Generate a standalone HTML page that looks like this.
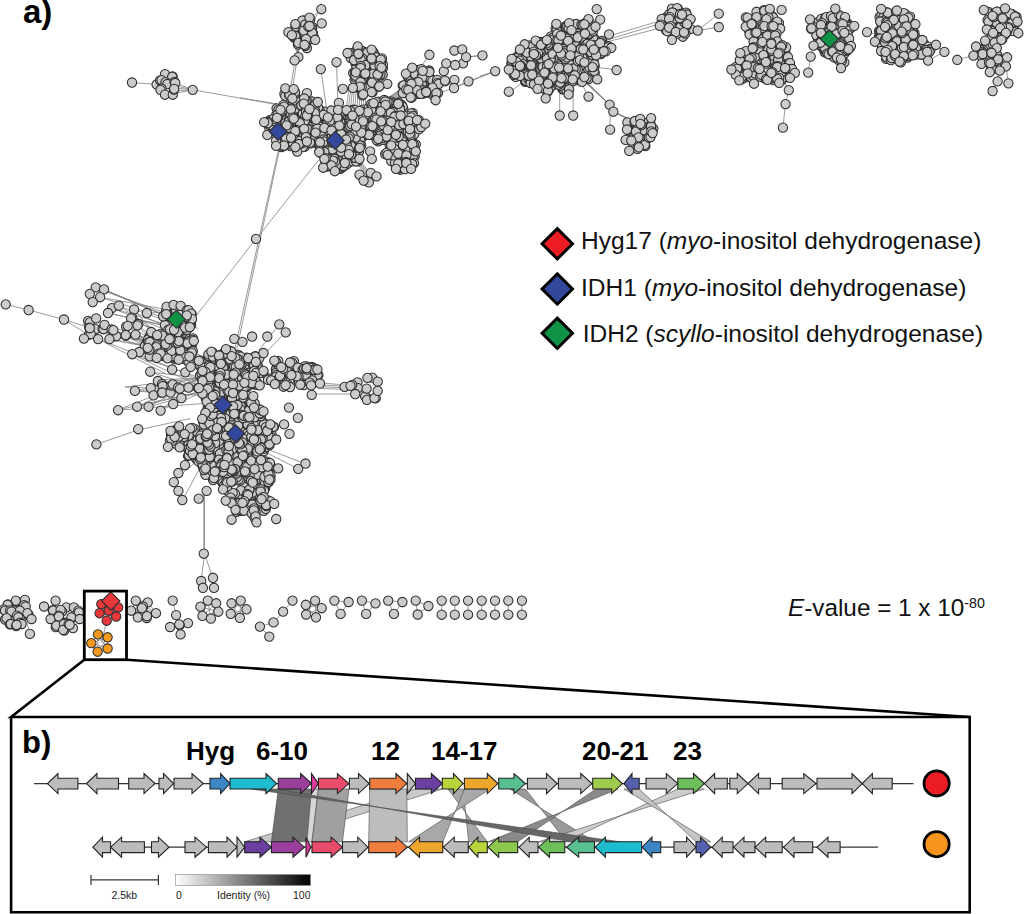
<!DOCTYPE html>
<html><head><meta charset="utf-8"><style>html,body{margin:0;padding:0;background:#fff;width:1024px;height:914px;overflow:hidden}svg{display:block}</style></head>
<body><svg width="1024" height="914" viewBox="0 0 1024 914">
<rect width="1024" height="914" fill="#fff"/>
<g stroke="#808080" stroke-width="0.8" fill="none">
<polyline points="278.5,150.0 234.6,350.0"/>
<polyline points="279.3,150.0 236.6,350.0"/>
<polyline points="318.7,160.0 256.2,239.0"/>
<polyline points="240.0,97.8 278.1,104.1"/>
<polyline points="294.6,63.5 290.8,86.3"/>
<polyline points="296.4,63.5 292.8,86.3"/>
<polyline points="320.8,69.1 326.3,106.7"/>
<polyline points="336.5,62.2 337.8,101.6"/>
<polyline points="429.4,54.8 415.0,75.0"/>
<polyline points="466.1,57.2 480.0,55.4"/>
<polyline points="454.0,88.0 495.2,71.1"/>
<polyline points="387.3,83.8 377.1,81.3"/>
<polyline points="321.8,23.4 311.1,35.6"/>
<polyline points="321.3,8.9 311.1,22.9"/>
<polyline points="349.2,87.6 345.4,114.3"/>
<polyline points="380.9,102.8 402.5,87.6"/>
<polyline points="351.0,87.6 347.7,114.3"/>
<polyline points="382.5,102.8 403.3,87.6"/>
<polyline points="352.7,87.6 350.0,114.3"/>
<polyline points="384.0,102.8 404.0,87.6"/>
<polyline points="354.5,87.6 352.2,114.3"/>
<polyline points="385.5,102.8 404.8,87.6"/>
<polyline points="356.3,87.6 354.5,114.3"/>
<polyline points="387.0,102.8 405.6,87.6"/>
<polyline points="358.1,87.6 356.8,114.3"/>
<polyline points="388.6,102.8 406.3,87.6"/>
<polyline points="359.9,87.6 359.1,114.3"/>
<polyline points="390.1,102.8 407.1,87.6"/>
<polyline points="361.6,87.6 361.4,114.3"/>
<polyline points="391.6,102.8 407.9,87.6"/>
<polyline points="363.4,87.6 363.7,114.3"/>
<polyline points="393.1,102.8 408.6,87.6"/>
<polyline points="365.2,87.6 366.0,114.3"/>
<polyline points="394.6,102.8 409.4,87.6"/>
<polyline points="356.8,162.5 367.0,177.8"/>
<polyline points="358.1,162.5 368.5,177.8"/>
<polyline points="359.3,162.5 370.0,177.8"/>
<polyline points="360.6,162.5 371.5,177.8"/>
<polyline points="361.9,162.5 373.1,177.8"/>
<polyline points="293.0,39.8 297.6,55.1"/>
<polyline points="294.9,39.8 297.6,55.1"/>
<polyline points="296.8,39.8 297.6,55.1"/>
<polyline points="298.8,39.8 297.6,55.1"/>
<polyline points="300.7,39.8 297.6,55.1"/>
<polyline points="302.6,39.8 297.6,55.1"/>
<polyline points="321.3,9.2 310.6,18.4"/>
<polyline points="321.7,23.4 312.9,27.6"/>
<polyline points="482.5,55.4 466.0,57.1"/>
<polyline points="495.2,71.1 468.5,81.3 438.1,94.0"/>
<polyline points="132.0,82.5 156.6,84.4"/>
<polyline points="192.7,89.8 276.7,104.5"/>
<polyline points="173.2,82.0 192.7,89.8"/>
<polyline points="173.2,85.0 192.7,89.8"/>
<polyline points="173.2,87.9 192.7,89.8"/>
<polyline points="173.2,90.8 192.7,89.8"/>
<polyline points="173.2,93.8 192.7,89.8"/>
<polyline points="601.9,38.1 657.8,21.6"/>
<polyline points="604.4,40.6 659.0,24.1"/>
<polyline points="607.0,41.9 660.3,27.9"/>
<polyline points="508.4,93.4 520.6,83.8"/>
<polyline points="588.7,96.5 581.6,83.8"/>
<polyline points="559.7,115.5 559.7,94.0"/>
<polyline points="573.2,115.5 573.2,94.0"/>
<polyline points="616.6,69.8 596.8,67.3"/>
<polyline points="495.2,71.1 480.0,76.2"/>
<polyline points="610.1,129.7 610.1,112.1"/>
<polyline points="578.7,73.7 609.6,104.6"/>
<polyline points="613.4,111.7 628.5,118.5"/>
<polyline points="578.7,74.7 609.6,104.6"/>
<polyline points="613.4,111.7 630.6,119.9"/>
<polyline points="578.7,75.8 609.6,104.6"/>
<polyline points="613.4,111.7 632.7,121.3"/>
<polyline points="578.7,76.9 609.6,104.6"/>
<polyline points="613.4,111.7 634.9,122.7"/>
<polyline points="697.7,30.5 718.8,13.7"/>
<polyline points="697.7,30.5 718.8,27.0"/>
<polyline points="782.9,127.7 785.5,104.1 788.8,90.1 782.4,78.7"/>
<polyline points="740.3,53.2 731.4,69.5"/>
<polyline points="739.3,80.3 735.8,69.0"/>
<polyline points="808.2,72.6 810.7,56.6 813.5,45.6"/>
<polyline points="867.0,32.1 880.2,35.2"/>
<polyline points="922.4,40.0 936.0,44.8 944.4,51.9"/>
<polyline points="928.1,60.6 944.4,51.9"/>
<polyline points="957.3,59.8 973.5,55.6"/>
<polyline points="997.6,81.3 999.8,70.6"/>
<polyline points="1008.4,83.3 1005.9,66.4"/>
<polyline points="992.6,91.0 997.6,81.3"/>
<polyline points="95.7,287.4 186.8,320.9"/>
<polyline points="95.7,287.4 192.8,325.9"/>
<polyline points="104.0,289.4 190.9,327.4"/>
<polyline points="104.0,289.4 166.0,316.0"/>
<polyline points="100.1,297.2 198.0,328.4"/>
<polyline points="100.1,297.2 196.5,315.1"/>
<polyline points="111.9,308.1 181.4,329.2"/>
<polyline points="111.9,308.1 184.0,337.4"/>
<polyline points="118.8,305.6 165.5,326.0"/>
<polyline points="118.8,305.6 174.8,343.5"/>
<polyline points="108.0,313.0 191.8,332.0"/>
<polyline points="108.0,313.0 192.9,331.4"/>
<polyline points="134.1,309.5 186.6,327.7"/>
<polyline points="134.1,309.5 165.1,346.3"/>
<polyline points="131.1,318.4 172.3,338.8"/>
<polyline points="131.1,318.4 199.4,355.2"/>
<polyline points="127.7,325.8 175.1,364.8"/>
<polyline points="127.7,325.8 183.9,357.7"/>
<polyline points="137.5,325.3 172.2,363.8"/>
<polyline points="137.5,325.3 189.2,364.4"/>
<polyline points="125.7,335.1 196.3,357.6"/>
<polyline points="125.7,335.1 177.6,354.3"/>
<polyline points="135.5,334.6 170.1,351.3"/>
<polyline points="135.5,334.6 175.5,364.7"/>
<polyline points="104.5,324.8 165.1,356.7"/>
<polyline points="104.5,324.8 176.8,347.5"/>
<polyline points="113.4,330.2 193.6,357.2"/>
<polyline points="113.4,330.2 176.1,357.2"/>
<polyline points="109.4,339.1 189.7,355.5"/>
<polyline points="109.4,339.1 199.1,354.6"/>
<polyline points="98.1,339.1 191.2,375.2"/>
<polyline points="98.1,339.1 165.6,373.7"/>
<polyline points="89.8,328.2 177.8,357.7"/>
<polyline points="89.8,328.2 165.3,344.4"/>
<polyline points="82.5,325.0 95.0,323.0"/>
<polyline points="146.9,313.0 161.6,312.5"/>
<polyline points="5.7,304.3 28.6,310.0 64.0,319.5 87.6,327.1"/>
<polyline points="64.0,319.5 91.4,336.7"/>
<polyline points="96.4,444.4 137.9,430.0 190.4,418.5"/>
<polyline points="118.1,410.2 205.7,403.3"/>
<polyline points="135.2,391.1 205.7,395.7"/>
<polyline points="203.8,553.7 203.8,490.9"/>
<polyline points="190.4,323.3 255.9,238.8"/>
<polyline points="279.2,324.5 259.0,350.0"/>
<polyline points="285.6,332.1 266.6,351.9"/>
<polyline points="304.7,463.5 266.6,449.0"/>
<polyline points="298.2,468.8 266.6,452.8"/>
<polyline points="173.3,481.4 201.9,456.6"/>
<polyline points="182.8,499.7 201.9,464.2"/>
<polyline points="30.3,633.6 26.4,621.7"/>
<polyline points="172.7,600.6 176.1,615.1"/>
<polyline points="106.8,620.4 101.5,642.8"/>
<polyline points="259.9,626.6 269.3,636.6"/>
<polyline points="259.9,626.6 273.5,622.4 283.1,611.6 292.5,600.6"/>
<polyline points="441.7,600.6 441.7,614.7"/>
<polyline points="454.8,600.6 454.8,614.7"/>
<polyline points="468.1,600.6 468.1,614.7"/>
<polyline points="481.7,600.6 481.7,614.7"/>
<polyline points="495.0,600.6 495.0,614.7"/>
<polyline points="508.3,600.6 508.3,614.7"/>
<polyline points="521.9,600.6 521.9,614.7"/>
<polyline points="204.5,554.2 204.5,491.3"/>
<polyline points="204.5,554.2 201.2,581.0"/>
<polyline points="204.5,554.2 213.0,577.8"/>
<polyline points="207.8,600.6 216.2,603.3"/>
<polyline points="207.8,600.6 200.4,606.7"/>
<polyline points="207.8,600.6 218.3,611.7"/>
<polyline points="207.8,600.6 202.5,615.9"/>
<polyline points="207.8,600.6 210.9,618.6"/>
<polyline points="216.2,603.3 200.4,606.7"/>
<polyline points="216.2,603.3 218.3,611.7"/>
<polyline points="216.2,603.3 202.5,615.9"/>
<polyline points="216.2,603.3 210.9,618.6"/>
<polyline points="200.4,606.7 218.3,611.7"/>
<polyline points="200.4,606.7 202.5,615.9"/>
<polyline points="200.4,606.7 210.9,618.6"/>
<polyline points="218.3,611.7 202.5,615.9"/>
<polyline points="218.3,611.7 210.9,618.6"/>
<polyline points="202.5,615.9 210.9,618.6"/>
<polyline points="231.5,603.3 240.7,600.6"/>
<polyline points="231.5,603.3 246.5,609.3"/>
<polyline points="231.5,603.3 230.7,613.8"/>
<polyline points="231.5,603.3 239.9,617.8"/>
<polyline points="240.7,600.6 246.5,609.3"/>
<polyline points="240.7,600.6 230.7,613.8"/>
<polyline points="240.7,600.6 239.9,617.8"/>
<polyline points="246.5,609.3 230.7,613.8"/>
<polyline points="246.5,609.3 239.9,617.8"/>
<polyline points="230.7,613.8 239.9,617.8"/>
<polyline points="305.8,604.8 315.1,600.6"/>
<polyline points="305.8,604.8 321.7,608.2"/>
<polyline points="305.8,604.8 316.0,617.3"/>
<polyline points="305.8,604.8 306.1,614.5"/>
<polyline points="315.1,600.6 321.7,608.2"/>
<polyline points="315.1,600.6 316.0,617.3"/>
<polyline points="315.1,600.6 306.1,614.5"/>
<polyline points="321.7,608.2 316.0,617.3"/>
<polyline points="321.7,608.2 306.1,614.5"/>
<polyline points="316.0,617.3 306.1,614.5"/>
<polyline points="97.9,634.4 107.6,637.3"/>
<polyline points="97.9,634.4 91.3,643.1"/>
<polyline points="97.9,634.4 107.6,648.5"/>
<polyline points="97.9,634.4 97.6,651.7"/>
<polyline points="107.6,637.3 91.3,643.1"/>
<polyline points="107.6,637.3 107.6,648.5"/>
<polyline points="107.6,637.3 97.6,651.7"/>
<polyline points="91.3,643.1 107.6,648.5"/>
<polyline points="91.3,643.1 97.6,651.7"/>
<polyline points="107.6,648.5 97.6,651.7"/>
<polyline points="334.4,600.6 348.6,602.0"/>
<polyline points="334.4,600.6 340.6,613.9"/>
<polyline points="348.6,602.0 340.6,613.9"/>
<polyline points="361.9,600.6 375.5,603.4"/>
<polyline points="361.9,600.6 366.1,613.9"/>
<polyline points="375.5,603.4 366.1,613.9"/>
<polyline points="388.2,600.6 402.4,602.0"/>
<polyline points="388.2,600.6 393.9,613.9"/>
<polyline points="402.4,602.0 393.9,613.9"/>
<polyline points="415.7,600.6 428.4,606.0"/>
<polyline points="415.7,600.6 417.7,614.5"/>
<polyline points="428.4,606.0 417.7,614.5"/>
<polyline points="135.8,600.6 147.7,602.0"/>
<polyline points="135.8,600.6 131.3,610.7"/>
<polyline points="135.8,600.6 142.4,608.6"/>
<polyline points="135.8,600.6 138.4,617.8"/>
<polyline points="135.8,600.6 147.1,616.5"/>
<polyline points="135.8,600.6 156.4,613.3"/>
<polyline points="147.7,602.0 131.3,610.7"/>
<polyline points="147.7,602.0 142.4,608.6"/>
<polyline points="147.7,602.0 138.4,617.8"/>
<polyline points="147.7,602.0 147.1,616.5"/>
<polyline points="147.7,602.0 156.4,613.3"/>
<polyline points="131.3,610.7 142.4,608.6"/>
<polyline points="131.3,610.7 138.4,617.8"/>
<polyline points="131.3,610.7 147.1,616.5"/>
<polyline points="131.3,610.7 156.4,613.3"/>
<polyline points="142.4,608.6 138.4,617.8"/>
<polyline points="142.4,608.6 147.1,616.5"/>
<polyline points="142.4,608.6 156.4,613.3"/>
<polyline points="138.4,617.8 147.1,616.5"/>
<polyline points="138.4,617.8 156.4,613.3"/>
<polyline points="147.1,616.5 156.4,613.3"/>
<polyline points="101.3,604.1 118.2,607.4"/>
<polyline points="101.3,604.1 99.6,613.2"/>
<polyline points="101.3,604.1 108.7,610.7"/>
<polyline points="101.3,604.1 116.2,616.5"/>
<polyline points="101.3,604.1 106.7,620.7"/>
<polyline points="118.2,607.4 99.6,613.2"/>
<polyline points="118.2,607.4 108.7,610.7"/>
<polyline points="118.2,607.4 116.2,616.5"/>
<polyline points="118.2,607.4 106.7,620.7"/>
<polyline points="99.6,613.2 108.7,610.7"/>
<polyline points="99.6,613.2 116.2,616.5"/>
<polyline points="99.6,613.2 106.7,620.7"/>
<polyline points="108.7,610.7 116.2,616.5"/>
<polyline points="108.7,610.7 106.7,620.7"/>
<polyline points="116.2,616.5 106.7,620.7"/>
<polyline points="131.3,354.0 200.0,378.0"/>
<polyline points="131.3,354.0 208.0,390.0"/>
<polyline points="150.0,372.0 200.0,378.0"/>
<polyline points="150.0,372.0 208.0,390.0"/>
<polyline points="134.6,391.0 200.0,378.0"/>
<polyline points="134.6,391.0 208.0,390.0"/>
<polyline points="117.5,410.0 200.0,378.0"/>
<polyline points="117.5,410.0 208.0,390.0"/>
<polyline points="136.8,406.8 200.0,378.0"/>
<polyline points="136.8,406.8 208.0,390.0"/>
<polyline points="148.8,406.8 200.0,378.0"/>
<polyline points="148.8,406.8 208.0,390.0"/>
<polyline points="160.8,410.0 200.0,378.0"/>
<polyline points="160.8,410.0 208.0,390.0"/>
<polyline points="157.0,380.0 200.0,378.0"/>
<polyline points="157.0,380.0 208.0,390.0"/>
<polyline points="125.0,387.0 200.0,378.0"/>
<polyline points="125.0,387.0 208.0,390.0"/>
<polyline points="165.0,392.0 200.0,378.0"/>
<polyline points="165.0,392.0 208.0,390.0"/>
<polyline points="322.0,383.0 345.0,385.0"/>
<polyline points="322.0,384.8 345.0,386.5"/>
<polyline points="322.0,386.6 345.0,388.0"/>
<polyline points="322.0,388.4 345.0,389.5"/>
<polyline points="312.0,394.0 350.0,394.0"/>
</g>
<g fill="#cbcbcb" stroke="#2e2e2e" stroke-width="1.05">
<circle cx="390.6" cy="108.2" r="4.65"/>
<circle cx="389.3" cy="109.0" r="4.65"/>
<circle cx="342.8" cy="127.7" r="4.65"/>
<circle cx="344.0" cy="126.3" r="4.65"/>
<circle cx="399.8" cy="124.7" r="4.65"/>
<circle cx="401.4" cy="124.8" r="4.65"/>
<circle cx="335.8" cy="151.0" r="4.65"/>
<circle cx="335.5" cy="150.5" r="4.65"/>
<circle cx="417.3" cy="120.8" r="4.65"/>
<circle cx="418.9" cy="120.2" r="4.65"/>
<circle cx="296.9" cy="125.4" r="4.65"/>
<circle cx="296.9" cy="123.9" r="4.65"/>
<circle cx="332.2" cy="132.4" r="4.65"/>
<circle cx="334.3" cy="130.4" r="4.65"/>
<circle cx="298.2" cy="108.2" r="4.65"/>
<circle cx="299.7" cy="106.9" r="4.65"/>
<circle cx="297.3" cy="128.7" r="4.65"/>
<circle cx="297.3" cy="127.2" r="4.65"/>
<circle cx="400.4" cy="135.0" r="4.65"/>
<circle cx="401.8" cy="135.8" r="4.65"/>
<circle cx="278.9" cy="117.1" r="4.65"/>
<circle cx="280.7" cy="115.9" r="4.65"/>
<circle cx="418.6" cy="122.6" r="4.65"/>
<circle cx="418.4" cy="123.9" r="4.65"/>
<circle cx="399.1" cy="144.1" r="4.65"/>
<circle cx="400.5" cy="145.9" r="4.65"/>
<circle cx="310.2" cy="138.8" r="4.65"/>
<circle cx="311.5" cy="138.6" r="4.65"/>
<circle cx="409.1" cy="162.4" r="4.65"/>
<circle cx="409.3" cy="161.5" r="4.65"/>
<circle cx="343.8" cy="140.2" r="4.65"/>
<circle cx="345.6" cy="138.7" r="4.65"/>
<circle cx="397.1" cy="124.2" r="4.65"/>
<circle cx="395.0" cy="123.2" r="4.65"/>
<circle cx="290.6" cy="136.7" r="4.65"/>
<circle cx="289.5" cy="135.1" r="4.65"/>
<circle cx="321.8" cy="125.2" r="4.65"/>
<circle cx="323.6" cy="125.4" r="4.65"/>
<circle cx="344.3" cy="156.8" r="4.65"/>
<circle cx="346.2" cy="155.5" r="4.65"/>
<circle cx="348.5" cy="119.6" r="4.65"/>
<circle cx="348.3" cy="121.3" r="4.65"/>
<circle cx="390.2" cy="135.5" r="4.65"/>
<circle cx="390.4" cy="134.3" r="4.65"/>
<circle cx="358.1" cy="125.5" r="4.65"/>
<circle cx="357.9" cy="127.1" r="4.65"/>
<circle cx="307.7" cy="133.1" r="4.65"/>
<circle cx="305.8" cy="135.0" r="4.65"/>
<circle cx="394.2" cy="161.3" r="4.65"/>
<circle cx="392.6" cy="159.3" r="4.65"/>
<circle cx="411.1" cy="154.1" r="4.65"/>
<circle cx="410.0" cy="152.2" r="4.65"/>
<circle cx="397.1" cy="131.2" r="4.65"/>
<circle cx="397.0" cy="132.4" r="4.65"/>
<circle cx="355.0" cy="125.3" r="4.65"/>
<circle cx="355.1" cy="124.2" r="4.65"/>
<circle cx="346.7" cy="128.9" r="4.65"/>
<circle cx="345.5" cy="129.4" r="4.65"/>
<circle cx="322.5" cy="115.1" r="4.65"/>
<circle cx="320.6" cy="117.1" r="4.65"/>
<circle cx="351.2" cy="139.7" r="4.65"/>
<circle cx="351.2" cy="141.8" r="4.65"/>
<circle cx="363.1" cy="129.2" r="4.65"/>
<circle cx="363.7" cy="127.1" r="4.65"/>
<circle cx="288.6" cy="140.4" r="4.65"/>
<circle cx="290.2" cy="138.3" r="4.65"/>
<circle cx="407.5" cy="158.1" r="4.65"/>
<circle cx="405.7" cy="157.3" r="4.65"/>
<circle cx="393.0" cy="158.8" r="4.65"/>
<circle cx="394.9" cy="158.9" r="4.65"/>
<circle cx="279.6" cy="140.1" r="4.65"/>
<circle cx="278.8" cy="141.9" r="4.65"/>
<circle cx="286.4" cy="131.4" r="4.65"/>
<circle cx="287.3" cy="133.2" r="4.65"/>
<circle cx="290.2" cy="112.4" r="4.65"/>
<circle cx="288.7" cy="110.6" r="4.65"/>
<circle cx="382.3" cy="127.9" r="4.65"/>
<circle cx="380.5" cy="126.8" r="4.65"/>
<circle cx="315.0" cy="126.5" r="4.65"/>
<circle cx="314.7" cy="128.4" r="4.65"/>
<circle cx="374.8" cy="135.9" r="4.65"/>
<circle cx="374.8" cy="134.8" r="4.65"/>
<circle cx="299.1" cy="141.9" r="4.65"/>
<circle cx="298.0" cy="144.0" r="4.65"/>
<circle cx="324.8" cy="135.7" r="4.65"/>
<circle cx="327.0" cy="137.5" r="4.65"/>
<circle cx="316.4" cy="140.7" r="4.65"/>
<circle cx="314.6" cy="142.4" r="4.65"/>
<circle cx="385.4" cy="123.2" r="4.65"/>
<circle cx="385.9" cy="123.3" r="4.65"/>
<circle cx="380.9" cy="130.0" r="4.65"/>
<circle cx="379.2" cy="131.6" r="4.65"/>
<circle cx="323.1" cy="118.4" r="4.65"/>
<circle cx="324.1" cy="117.2" r="4.65"/>
<circle cx="293.2" cy="144.8" r="4.65"/>
<circle cx="295.1" cy="146.3" r="4.65"/>
<circle cx="308.2" cy="132.8" r="4.65"/>
<circle cx="310.3" cy="130.8" r="4.65"/>
<circle cx="293.1" cy="115.5" r="4.65"/>
<circle cx="294.2" cy="115.5" r="4.65"/>
<circle cx="408.8" cy="149.5" r="4.65"/>
<circle cx="409.3" cy="147.4" r="4.65"/>
<circle cx="389.4" cy="140.1" r="4.65"/>
<circle cx="388.5" cy="139.7" r="4.65"/>
<circle cx="402.3" cy="118.0" r="4.65"/>
<circle cx="402.4" cy="119.1" r="4.65"/>
<circle cx="319.3" cy="110.5" r="4.65"/>
<circle cx="317.8" cy="112.2" r="4.65"/>
<circle cx="407.3" cy="139.1" r="4.65"/>
<circle cx="406.8" cy="140.0" r="4.65"/>
<circle cx="282.2" cy="135.1" r="4.65"/>
<circle cx="283.2" cy="135.3" r="4.65"/>
<circle cx="316.5" cy="141.4" r="4.65"/>
<circle cx="317.9" cy="141.0" r="4.65"/>
<circle cx="390.5" cy="117.8" r="4.65"/>
<circle cx="392.4" cy="119.9" r="4.65"/>
<circle cx="409.2" cy="134.7" r="4.65"/>
<circle cx="410.7" cy="136.5" r="4.65"/>
<circle cx="418.2" cy="127.1" r="4.65"/>
<circle cx="416.5" cy="127.0" r="4.65"/>
<circle cx="303.9" cy="130.0" r="4.65"/>
<circle cx="303.1" cy="128.7" r="4.65"/>
<circle cx="359.6" cy="128.3" r="4.65"/>
<circle cx="361.1" cy="126.3" r="4.65"/>
<circle cx="296.1" cy="141.1" r="4.65"/>
<circle cx="296.7" cy="141.2" r="4.65"/>
<circle cx="312.2" cy="109.1" r="4.65"/>
<circle cx="312.2" cy="108.2" r="4.65"/>
<circle cx="313.3" cy="114.1" r="4.65"/>
<circle cx="312.1" cy="115.4" r="4.65"/>
<circle cx="412.6" cy="112.9" r="4.65"/>
<circle cx="411.2" cy="113.3" r="4.65"/>
<circle cx="315.7" cy="136.3" r="4.65"/>
<circle cx="316.8" cy="134.7" r="4.65"/>
<circle cx="359.7" cy="140.9" r="4.65"/>
<circle cx="358.1" cy="139.3" r="4.65"/>
<circle cx="342.8" cy="164.8" r="4.65"/>
<circle cx="343.6" cy="163.0" r="4.65"/>
<circle cx="287.6" cy="133.0" r="4.65"/>
<circle cx="286.4" cy="130.9" r="4.65"/>
<circle cx="400.2" cy="117.0" r="4.65"/>
<circle cx="399.0" cy="114.8" r="4.65"/>
<circle cx="278.3" cy="133.1" r="4.65"/>
<circle cx="278.4" cy="132.1" r="4.65"/>
<circle cx="397.3" cy="167.1" r="4.65"/>
<circle cx="396.1" cy="167.0" r="4.65"/>
<circle cx="402.3" cy="152.2" r="4.65"/>
<circle cx="402.3" cy="152.7" r="4.65"/>
<circle cx="378.4" cy="101.6" r="4.65"/>
<circle cx="376.8" cy="102.2" r="4.65"/>
<circle cx="354.2" cy="134.7" r="4.65"/>
<circle cx="353.1" cy="134.5" r="4.65"/>
<circle cx="405.0" cy="125.8" r="4.65"/>
<circle cx="404.1" cy="126.6" r="4.65"/>
<circle cx="325.3" cy="117.2" r="4.65"/>
<circle cx="327.1" cy="116.4" r="4.65"/>
<circle cx="367.9" cy="122.8" r="4.65"/>
<circle cx="369.5" cy="123.4" r="4.65"/>
<circle cx="282.7" cy="107.4" r="4.65"/>
<circle cx="281.4" cy="109.4" r="4.65"/>
<circle cx="402.1" cy="122.1" r="4.65"/>
<circle cx="400.3" cy="121.7" r="4.65"/>
<circle cx="328.3" cy="141.6" r="4.65"/>
<circle cx="328.0" cy="140.8" r="4.65"/>
<circle cx="347.6" cy="128.8" r="4.65"/>
<circle cx="349.6" cy="130.9" r="4.65"/>
<circle cx="301.5" cy="130.7" r="4.65"/>
<circle cx="300.6" cy="130.3" r="4.65"/>
<circle cx="330.5" cy="137.6" r="4.65"/>
<circle cx="329.9" cy="136.1" r="4.65"/>
<circle cx="305.8" cy="142.3" r="4.65"/>
<circle cx="306.8" cy="143.8" r="4.65"/>
<circle cx="348.8" cy="162.4" r="4.65"/>
<circle cx="346.7" cy="164.3" r="4.65"/>
<circle cx="323.1" cy="149.2" r="4.65"/>
<circle cx="323.1" cy="148.7" r="4.65"/>
<circle cx="386.7" cy="137.4" r="4.65"/>
<circle cx="384.7" cy="139.2" r="4.65"/>
<circle cx="405.8" cy="164.2" r="4.65"/>
<circle cx="404.9" cy="166.0" r="4.65"/>
<circle cx="289.9" cy="109.1" r="4.65"/>
<circle cx="290.1" cy="108.6" r="4.65"/>
<circle cx="298.6" cy="135.0" r="4.65"/>
<circle cx="297.1" cy="137.0" r="4.65"/>
<circle cx="320.2" cy="130.6" r="4.65"/>
<circle cx="319.1" cy="132.1" r="4.65"/>
<circle cx="396.3" cy="144.3" r="4.65"/>
<circle cx="396.8" cy="142.2" r="4.65"/>
<circle cx="392.9" cy="159.3" r="4.65"/>
<circle cx="391.3" cy="161.2" r="4.65"/>
<circle cx="333.3" cy="166.4" r="4.65"/>
<circle cx="335.5" cy="168.5" r="4.65"/>
<circle cx="289.4" cy="113.2" r="4.65"/>
<circle cx="288.1" cy="115.3" r="4.65"/>
<circle cx="363.0" cy="124.0" r="4.65"/>
<circle cx="361.8" cy="122.6" r="4.65"/>
<circle cx="281.7" cy="114.5" r="4.65"/>
<circle cx="280.3" cy="112.6" r="4.65"/>
<circle cx="402.0" cy="106.1" r="4.65"/>
<circle cx="401.4" cy="104.7" r="4.65"/>
<circle cx="308.6" cy="135.3" r="4.65"/>
<circle cx="308.4" cy="134.5" r="4.65"/>
<circle cx="304.6" cy="138.6" r="4.65"/>
<circle cx="306.5" cy="138.4" r="4.65"/>
<circle cx="304.8" cy="146.6" r="4.65"/>
<circle cx="302.7" cy="147.1" r="4.65"/>
<circle cx="391.1" cy="135.6" r="4.65"/>
<circle cx="390.2" cy="137.0" r="4.65"/>
<circle cx="325.0" cy="111.8" r="4.65"/>
<circle cx="325.0" cy="111.6" r="4.65"/>
<circle cx="284.6" cy="130.0" r="4.65"/>
<circle cx="283.4" cy="130.8" r="4.65"/>
<circle cx="356.9" cy="112.6" r="4.65"/>
<circle cx="357.0" cy="114.0" r="4.65"/>
<circle cx="345.6" cy="120.0" r="4.65"/>
<circle cx="345.3" cy="118.1" r="4.65"/>
<circle cx="334.5" cy="127.0" r="4.65"/>
<circle cx="335.0" cy="126.3" r="4.65"/>
<circle cx="312.0" cy="120.5" r="4.65"/>
<circle cx="311.8" cy="121.8" r="4.65"/>
<circle cx="393.4" cy="145.8" r="4.65"/>
<circle cx="392.6" cy="147.1" r="4.65"/>
<circle cx="343.9" cy="146.1" r="4.65"/>
<circle cx="343.4" cy="143.9" r="4.65"/>
<circle cx="399.5" cy="132.5" r="4.65"/>
<circle cx="400.4" cy="131.8" r="4.65"/>
<circle cx="311.2" cy="102.1" r="4.65"/>
<circle cx="311.9" cy="101.5" r="4.65"/>
<circle cx="363.7" cy="133.5" r="4.65"/>
<circle cx="365.0" cy="133.5" r="4.65"/>
<circle cx="327.3" cy="122.9" r="4.65"/>
<circle cx="326.0" cy="124.2" r="4.65"/>
<circle cx="328.1" cy="161.7" r="4.65"/>
<circle cx="328.7" cy="162.9" r="4.65"/>
<circle cx="357.5" cy="152.3" r="4.65"/>
<circle cx="359.0" cy="151.6" r="4.65"/>
<circle cx="345.0" cy="152.7" r="4.65"/>
<circle cx="343.5" cy="152.6" r="4.65"/>
<circle cx="366.4" cy="121.6" r="4.65"/>
<circle cx="366.6" cy="122.5" r="4.65"/>
<circle cx="396.8" cy="142.1" r="4.65"/>
<circle cx="398.0" cy="140.2" r="4.65"/>
<circle cx="319.2" cy="110.7" r="4.65"/>
<circle cx="319.3" cy="109.9" r="4.65"/>
<circle cx="400.0" cy="128.0" r="4.65"/>
<circle cx="401.0" cy="129.4" r="4.65"/>
<circle cx="344.3" cy="151.6" r="4.65"/>
<circle cx="346.5" cy="152.5" r="4.65"/>
<circle cx="331.3" cy="118.0" r="4.65"/>
<circle cx="331.7" cy="117.9" r="4.65"/>
<circle cx="377.4" cy="122.9" r="4.65"/>
<circle cx="376.9" cy="122.1" r="4.65"/>
<circle cx="378.3" cy="141.4" r="4.65"/>
<circle cx="376.6" cy="140.1" r="4.65"/>
<circle cx="296.4" cy="106.1" r="4.65"/>
<circle cx="295.6" cy="104.8" r="4.65"/>
<circle cx="348.9" cy="118.9" r="4.65"/>
<circle cx="348.7" cy="119.1" r="4.65"/>
<circle cx="290.6" cy="146.1" r="4.65"/>
<circle cx="288.8" cy="144.4" r="4.65"/>
<circle cx="305.4" cy="142.1" r="4.65"/>
<circle cx="305.9" cy="140.5" r="4.65"/>
<circle cx="299.2" cy="137.3" r="4.65"/>
<circle cx="299.5" cy="136.2" r="4.65"/>
<circle cx="404.6" cy="116.1" r="4.65"/>
<circle cx="406.7" cy="115.6" r="4.65"/>
<circle cx="367.4" cy="114.2" r="4.65"/>
<circle cx="365.4" cy="114.5" r="4.65"/>
<circle cx="334.9" cy="154.8" r="4.65"/>
<circle cx="333.2" cy="154.0" r="4.65"/>
<circle cx="390.8" cy="101.4" r="4.65"/>
<circle cx="392.9" cy="103.2" r="4.65"/>
<circle cx="361.9" cy="111.7" r="4.65"/>
<circle cx="362.7" cy="109.6" r="4.65"/>
<circle cx="322.0" cy="153.5" r="4.65"/>
<circle cx="321.3" cy="153.1" r="4.65"/>
<circle cx="383.2" cy="112.8" r="4.65"/>
<circle cx="381.6" cy="113.5" r="4.65"/>
<circle cx="276.7" cy="121.4" r="4.65"/>
<circle cx="278.3" cy="121.6" r="4.65"/>
<circle cx="345.7" cy="118.5" r="4.65"/>
<circle cx="343.9" cy="119.9" r="4.65"/>
<circle cx="398.8" cy="126.5" r="4.65"/>
<circle cx="398.8" cy="127.5" r="4.65"/>
<circle cx="380.4" cy="113.9" r="4.65"/>
<circle cx="381.0" cy="115.7" r="4.65"/>
<circle cx="396.8" cy="161.5" r="4.65"/>
<circle cx="395.0" cy="162.6" r="4.65"/>
<circle cx="315.6" cy="119.0" r="4.65"/>
<circle cx="314.3" cy="120.4" r="4.65"/>
<circle cx="284.5" cy="143.3" r="4.65"/>
<circle cx="284.8" cy="145.4" r="4.65"/>
<circle cx="270.3" cy="120.1" r="4.65"/>
<circle cx="270.0" cy="120.1" r="4.65"/>
<circle cx="282.0" cy="126.2" r="4.65"/>
<circle cx="282.3" cy="127.5" r="4.65"/>
<circle cx="402.8" cy="164.8" r="4.65"/>
<circle cx="402.2" cy="166.9" r="4.65"/>
<circle cx="374.2" cy="120.9" r="4.65"/>
<circle cx="372.3" cy="121.0" r="4.65"/>
<circle cx="369.1" cy="107.6" r="4.65"/>
<circle cx="368.7" cy="107.9" r="4.65"/>
<circle cx="357.9" cy="115.3" r="4.65"/>
<circle cx="360.0" cy="117.4" r="4.65"/>
<circle cx="363.5" cy="136.1" r="4.65"/>
<circle cx="362.5" cy="136.1" r="4.65"/>
<circle cx="319.0" cy="123.2" r="4.65"/>
<circle cx="320.0" cy="123.0" r="4.65"/>
<circle cx="333.6" cy="145.3" r="4.65"/>
<circle cx="331.9" cy="145.2" r="4.65"/>
<circle cx="404.7" cy="162.4" r="4.65"/>
<circle cx="404.6" cy="162.1" r="4.65"/>
<circle cx="328.7" cy="147.2" r="4.65"/>
<circle cx="327.0" cy="149.2" r="4.65"/>
<circle cx="384.7" cy="114.5" r="4.65"/>
<circle cx="384.0" cy="114.2" r="4.65"/>
<circle cx="312.6" cy="122.6" r="4.65"/>
<circle cx="311.6" cy="124.1" r="4.65"/>
<circle cx="303.2" cy="137.2" r="4.65"/>
<circle cx="301.8" cy="135.9" r="4.65"/>
<circle cx="315.1" cy="118.4" r="4.65"/>
<circle cx="316.1" cy="116.4" r="4.65"/>
<circle cx="368.5" cy="126.4" r="4.65"/>
<circle cx="370.5" cy="126.2" r="4.65"/>
<circle cx="399.5" cy="147.3" r="4.65"/>
<circle cx="401.3" cy="148.7" r="4.65"/>
<circle cx="401.4" cy="113.1" r="4.65"/>
<circle cx="400.7" cy="112.2" r="4.65"/>
<circle cx="286.7" cy="118.1" r="4.65"/>
<circle cx="286.8" cy="119.3" r="4.65"/>
<circle cx="318.8" cy="137.2" r="4.65"/>
<circle cx="318.6" cy="137.4" r="4.65"/>
<circle cx="369.8" cy="113.8" r="4.65"/>
<circle cx="370.3" cy="114.2" r="4.65"/>
<circle cx="310.5" cy="117.1" r="4.65"/>
<circle cx="310.7" cy="117.7" r="4.65"/>
<circle cx="343.3" cy="133.1" r="4.65"/>
<circle cx="344.9" cy="133.1" r="4.65"/>
<circle cx="340.4" cy="168.8" r="4.65"/>
<circle cx="341.3" cy="167.5" r="4.65"/>
<circle cx="400.1" cy="169.7" r="4.65"/>
<circle cx="398.0" cy="168.6" r="4.65"/>
<circle cx="385.7" cy="118.4" r="4.65"/>
<circle cx="386.4" cy="118.5" r="4.65"/>
<circle cx="329.3" cy="126.4" r="4.65"/>
<circle cx="328.3" cy="127.6" r="4.65"/>
<circle cx="290.0" cy="97.5" r="4.65"/>
<circle cx="288.7" cy="99.5" r="4.65"/>
<circle cx="378.4" cy="136.6" r="4.65"/>
<circle cx="376.4" cy="136.4" r="4.65"/>
<circle cx="330.9" cy="151.5" r="4.65"/>
<circle cx="329.7" cy="151.0" r="4.65"/>
<circle cx="354.0" cy="109.6" r="4.65"/>
<circle cx="352.5" cy="110.0" r="4.65"/>
<circle cx="276.6" cy="108.3" r="4.65"/>
<circle cx="278.4" cy="109.6" r="4.65"/>
<circle cx="405.0" cy="145.6" r="4.65"/>
<circle cx="404.0" cy="143.5" r="4.65"/>
<circle cx="402.3" cy="149.4" r="4.65"/>
<circle cx="403.5" cy="149.5" r="4.65"/>
<circle cx="412.3" cy="123.3" r="4.65"/>
<circle cx="411.1" cy="124.2" r="4.65"/>
<circle cx="389.2" cy="133.2" r="4.65"/>
<circle cx="390.4" cy="132.0" r="4.65"/>
<circle cx="340.9" cy="121.5" r="4.65"/>
<circle cx="342.6" cy="122.2" r="4.65"/>
<circle cx="409.8" cy="157.1" r="4.65"/>
<circle cx="409.4" cy="157.1" r="4.65"/>
<circle cx="294.3" cy="112.9" r="4.65"/>
<circle cx="292.4" cy="112.9" r="4.65"/>
<circle cx="356.5" cy="134.0" r="4.65"/>
<circle cx="356.9" cy="135.3" r="4.65"/>
<circle cx="350.5" cy="132.5" r="4.65"/>
<circle cx="349.1" cy="134.5" r="4.65"/>
<circle cx="310.2" cy="112.6" r="4.65"/>
<circle cx="312.3" cy="113.2" r="4.65"/>
<circle cx="357.2" cy="118.0" r="4.65"/>
<circle cx="355.9" cy="119.1" r="4.65"/>
<circle cx="411.4" cy="144.1" r="4.65"/>
<circle cx="411.5" cy="145.9" r="4.65"/>
<circle cx="337.8" cy="159.0" r="4.65"/>
<circle cx="338.7" cy="157.1" r="4.65"/>
<circle cx="343.2" cy="114.5" r="4.65"/>
<circle cx="341.6" cy="116.2" r="4.65"/>
<circle cx="361.9" cy="111.7" r="4.65"/>
<circle cx="359.9" cy="111.9" r="4.65"/>
<circle cx="375.5" cy="124.3" r="4.65"/>
<circle cx="377.1" cy="124.9" r="4.65"/>
<circle cx="393.6" cy="128.1" r="4.65"/>
<circle cx="391.5" cy="129.5" r="4.65"/>
<circle cx="382.3" cy="131.9" r="4.65"/>
<circle cx="381.1" cy="130.0" r="4.65"/>
<circle cx="306.9" cy="112.2" r="4.65"/>
<circle cx="305.1" cy="111.1" r="4.65"/>
<circle cx="343.2" cy="155.1" r="4.65"/>
<circle cx="341.3" cy="156.8" r="4.65"/>
<circle cx="327.0" cy="147.8" r="4.65"/>
<circle cx="326.1" cy="145.8" r="4.65"/>
<circle cx="294.4" cy="130.5" r="4.65"/>
<circle cx="294.3" cy="132.6" r="4.65"/>
<circle cx="329.7" cy="165.0" r="4.65"/>
<circle cx="330.7" cy="165.3" r="4.65"/>
<circle cx="343.1" cy="166.9" r="4.65"/>
<circle cx="343.5" cy="165.9" r="4.65"/>
<circle cx="387.2" cy="114.1" r="4.65"/>
<circle cx="388.6" cy="116.3" r="4.65"/>
<circle cx="403.3" cy="108.8" r="4.65"/>
<circle cx="402.6" cy="106.7" r="4.65"/>
<circle cx="293.2" cy="137.0" r="4.65"/>
<circle cx="293.3" cy="136.2" r="4.65"/>
<circle cx="286.4" cy="123.9" r="4.65"/>
<circle cx="285.5" cy="123.1" r="4.65"/>
<circle cx="306.7" cy="103.3" r="4.65"/>
<circle cx="305.4" cy="105.4" r="4.65"/>
<circle cx="323.3" cy="127.9" r="4.65"/>
<circle cx="322.4" cy="128.2" r="4.65"/>
<circle cx="377.0" cy="135.2" r="4.65"/>
<circle cx="377.5" cy="133.9" r="4.65"/>
<circle cx="282.3" cy="111.0" r="4.65"/>
<circle cx="284.0" cy="109.1" r="4.65"/>
<circle cx="276.6" cy="135.7" r="4.65"/>
<circle cx="275.2" cy="134.2" r="4.65"/>
<circle cx="380.9" cy="135.1" r="4.65"/>
<circle cx="379.0" cy="136.4" r="4.65"/>
<circle cx="376.4" cy="108.2" r="4.65"/>
<circle cx="375.9" cy="106.4" r="4.65"/>
<circle cx="312.1" cy="141.8" r="4.65"/>
<circle cx="311.9" cy="141.0" r="4.65"/>
<circle cx="276.0" cy="115.3" r="4.65"/>
<circle cx="277.7" cy="114.5" r="4.65"/>
<circle cx="373.0" cy="110.7" r="4.65"/>
<circle cx="375.1" cy="110.7" r="4.65"/>
<circle cx="345.2" cy="114.1" r="4.65"/>
<circle cx="347.3" cy="114.9" r="4.65"/>
<circle cx="401.0" cy="139.2" r="4.65"/>
<circle cx="402.7" cy="140.2" r="4.65"/>
<circle cx="405.7" cy="123.1" r="4.65"/>
<circle cx="407.3" cy="122.3" r="4.65"/>
<circle cx="350.9" cy="122.5" r="4.65"/>
<circle cx="350.8" cy="121.3" r="4.65"/>
<circle cx="413.4" cy="143.5" r="4.65"/>
<circle cx="412.0" cy="142.6" r="4.65"/>
<circle cx="340.7" cy="122.3" r="4.65"/>
<circle cx="340.2" cy="122.2" r="4.65"/>
<circle cx="372.0" cy="134.4" r="4.65"/>
<circle cx="370.8" cy="134.7" r="4.65"/>
<circle cx="351.8" cy="160.9" r="4.65"/>
<circle cx="352.3" cy="161.3" r="4.65"/>
<circle cx="400.3" cy="160.4" r="4.65"/>
<circle cx="402.4" cy="161.7" r="4.65"/>
<circle cx="280.8" cy="139.3" r="4.65"/>
<circle cx="280.2" cy="139.8" r="4.65"/>
<circle cx="395.0" cy="138.2" r="4.65"/>
<circle cx="395.3" cy="140.0" r="4.65"/>
<circle cx="322.9" cy="137.9" r="4.65"/>
<circle cx="324.4" cy="136.3" r="4.65"/>
<circle cx="410.7" cy="126.6" r="4.65"/>
<circle cx="409.4" cy="127.2" r="4.65"/>
<circle cx="393.7" cy="139.9" r="4.65"/>
<circle cx="391.9" cy="139.5" r="4.65"/>
<circle cx="270.4" cy="126.7" r="4.65"/>
<circle cx="269.3" cy="128.2" r="4.65"/>
<circle cx="415.8" cy="144.3" r="4.65"/>
<circle cx="413.8" cy="144.5" r="4.65"/>
<circle cx="317.2" cy="142.9" r="4.65"/>
<circle cx="318.8" cy="144.8" r="4.65"/>
<circle cx="267.8" cy="122.8" r="4.65"/>
<circle cx="269.7" cy="125.0" r="4.65"/>
<circle cx="326.2" cy="161.7" r="4.65"/>
<circle cx="325.0" cy="160.4" r="4.65"/>
<circle cx="391.8" cy="126.4" r="4.65"/>
<circle cx="392.8" cy="127.3" r="4.65"/>
<circle cx="341.7" cy="128.9" r="4.65"/>
<circle cx="339.9" cy="130.1" r="4.65"/>
<circle cx="392.6" cy="152.0" r="4.65"/>
<circle cx="390.9" cy="150.6" r="4.65"/>
<circle cx="292.6" cy="125.3" r="4.65"/>
<circle cx="293.0" cy="125.5" r="4.65"/>
<circle cx="351.4" cy="136.5" r="4.65"/>
<circle cx="351.8" cy="137.1" r="4.65"/>
<circle cx="390.6" cy="146.4" r="4.65"/>
<circle cx="389.7" cy="145.6" r="4.65"/>
<circle cx="397.2" cy="110.3" r="4.65"/>
<circle cx="395.0" cy="112.0" r="4.65"/>
<circle cx="413.6" cy="134.3" r="4.65"/>
<circle cx="414.4" cy="134.1" r="4.65"/>
<circle cx="319.4" cy="109.8" r="4.65"/>
<circle cx="318.1" cy="107.6" r="4.65"/>
<circle cx="360.6" cy="130.2" r="4.65"/>
<circle cx="359.2" cy="131.9" r="4.65"/>
<circle cx="333.6" cy="155.7" r="4.65"/>
<circle cx="332.5" cy="156.9" r="4.65"/>
<circle cx="280.1" cy="141.7" r="4.65"/>
<circle cx="280.4" cy="143.6" r="4.65"/>
<circle cx="366.6" cy="128.6" r="4.65"/>
<circle cx="368.6" cy="128.9" r="4.65"/>
<circle cx="314.7" cy="110.1" r="4.65"/>
<circle cx="313.0" cy="111.1" r="4.65"/>
<circle cx="328.4" cy="140.1" r="4.65"/>
<circle cx="330.5" cy="139.2" r="4.65"/>
<circle cx="313.1" cy="132.0" r="4.65"/>
<circle cx="314.1" cy="133.9" r="4.65"/>
<circle cx="325.8" cy="122.6" r="4.65"/>
<circle cx="327.1" cy="120.9" r="4.65"/>
<circle cx="357.8" cy="161.4" r="4.65"/>
<circle cx="356.0" cy="161.4" r="4.65"/>
<circle cx="332.7" cy="164.7" r="4.65"/>
<circle cx="332.8" cy="163.8" r="4.65"/>
<circle cx="359.7" cy="140.5" r="4.65"/>
<circle cx="360.4" cy="141.0" r="4.65"/>
<circle cx="390.5" cy="120.7" r="4.65"/>
<circle cx="389.2" cy="119.9" r="4.65"/>
<circle cx="343.4" cy="141.2" r="4.65"/>
<circle cx="341.7" cy="140.9" r="4.65"/>
<circle cx="332.9" cy="112.0" r="4.65"/>
<circle cx="331.4" cy="110.5" r="4.65"/>
<circle cx="330.5" cy="126.2" r="4.65"/>
<circle cx="331.7" cy="125.6" r="4.65"/>
<circle cx="338.0" cy="159.0" r="4.65"/>
<circle cx="337.7" cy="160.5" r="4.65"/>
<circle cx="412.0" cy="127.7" r="4.65"/>
<circle cx="413.3" cy="128.2" r="4.65"/>
<circle cx="395.2" cy="153.2" r="4.65"/>
<circle cx="393.2" cy="155.3" r="4.65"/>
<circle cx="395.9" cy="139.5" r="4.65"/>
<circle cx="393.9" cy="137.5" r="4.65"/>
<circle cx="279.1" cy="137.9" r="4.65"/>
<circle cx="279.5" cy="137.3" r="4.65"/>
<circle cx="316.3" cy="117.1" r="4.65"/>
<circle cx="317.2" cy="119.1" r="4.65"/>
<circle cx="351.2" cy="144.0" r="4.65"/>
<circle cx="353.3" cy="143.0" r="4.65"/>
<circle cx="357.5" cy="129.5" r="4.65"/>
<circle cx="358.7" cy="129.4" r="4.65"/>
<circle cx="284.4" cy="93.8" r="4.65"/>
<circle cx="285.3" cy="95.9" r="4.65"/>
<circle cx="313.4" cy="131.4" r="4.65"/>
<circle cx="313.9" cy="131.5" r="4.65"/>
<circle cx="309.1" cy="129.1" r="4.65"/>
<circle cx="307.1" cy="129.0" r="4.65"/>
<circle cx="337.1" cy="118.2" r="4.65"/>
<circle cx="335.0" cy="118.7" r="4.65"/>
<circle cx="361.2" cy="145.4" r="4.65"/>
<circle cx="359.7" cy="145.3" r="4.65"/>
<circle cx="380.3" cy="107.7" r="4.65"/>
<circle cx="382.4" cy="105.9" r="4.65"/>
<circle cx="296.5" cy="112.3" r="4.65"/>
<circle cx="295.7" cy="112.0" r="4.65"/>
<circle cx="293.0" cy="100.3" r="4.65"/>
<circle cx="293.3" cy="102.5" r="4.65"/>
<circle cx="377.5" cy="110.8" r="4.65"/>
<circle cx="375.9" cy="112.7" r="4.65"/>
<circle cx="419.4" cy="126.0" r="4.65"/>
<circle cx="421.1" cy="124.8" r="4.65"/>
<circle cx="271.9" cy="123.0" r="4.65"/>
<circle cx="272.8" cy="123.7" r="4.65"/>
<circle cx="354.5" cy="157.8" r="4.65"/>
<circle cx="355.5" cy="157.9" r="4.65"/>
<circle cx="335.4" cy="142.7" r="4.65"/>
<circle cx="334.2" cy="143.4" r="4.65"/>
<circle cx="347.6" cy="127.6" r="4.65"/>
<circle cx="349.2" cy="127.4" r="4.65"/>
<circle cx="407.3" cy="133.7" r="4.65"/>
<circle cx="408.0" cy="132.0" r="4.65"/>
<circle cx="312.0" cy="139.6" r="4.65"/>
<circle cx="313.9" cy="140.0" r="4.65"/>
<circle cx="274.6" cy="131.4" r="4.65"/>
<circle cx="274.9" cy="130.1" r="4.65"/>
<circle cx="385.2" cy="154.2" r="4.65"/>
<circle cx="386.6" cy="152.9" r="4.65"/>
<circle cx="354.3" cy="128.0" r="4.65"/>
<circle cx="354.1" cy="126.6" r="4.65"/>
<circle cx="317.6" cy="122.5" r="4.65"/>
<circle cx="316.3" cy="122.5" r="4.65"/>
<circle cx="298.2" cy="100.4" r="4.65"/>
<circle cx="297.2" cy="102.0" r="4.65"/>
<circle cx="395.4" cy="144.2" r="4.65"/>
<circle cx="394.3" cy="145.4" r="4.65"/>
<circle cx="303.2" cy="122.5" r="4.65"/>
<circle cx="302.9" cy="123.9" r="4.65"/>
<circle cx="304.8" cy="103.2" r="4.65"/>
<circle cx="302.8" cy="103.7" r="4.65"/>
<circle cx="320.1" cy="126.7" r="4.65"/>
<circle cx="319.4" cy="126.7" r="4.65"/>
<circle cx="408.8" cy="143.6" r="4.65"/>
<circle cx="408.0" cy="145.0" r="4.65"/>
<circle cx="409.7" cy="166.8" r="4.65"/>
<circle cx="408.5" cy="167.3" r="4.65"/>
<circle cx="410.5" cy="135.5" r="4.65"/>
<circle cx="409.8" cy="133.6" r="4.65"/>
<circle cx="338.1" cy="118.7" r="4.65"/>
<circle cx="337.4" cy="117.6" r="4.65"/>
<circle cx="407.5" cy="149.4" r="4.65"/>
<circle cx="407.5" cy="149.6" r="4.65"/>
<circle cx="287.4" cy="126.9" r="4.65"/>
<circle cx="285.6" cy="127.0" r="4.65"/>
<circle cx="289.8" cy="133.0" r="4.65"/>
<circle cx="291.9" cy="133.9" r="4.65"/>
<circle cx="292.6" cy="115.9" r="4.65"/>
<circle cx="292.7" cy="118.0" r="4.65"/>
<circle cx="405.5" cy="162.9" r="4.65"/>
<circle cx="407.3" cy="162.6" r="4.65"/>
<circle cx="390.9" cy="144.0" r="4.65"/>
<circle cx="392.3" cy="142.1" r="4.65"/>
<circle cx="371.1" cy="115.9" r="4.65"/>
<circle cx="372.8" cy="116.7" r="4.65"/>
<circle cx="294.0" cy="107.8" r="4.65"/>
<circle cx="295.8" cy="108.3" r="4.65"/>
<circle cx="401.3" cy="115.9" r="4.65"/>
<circle cx="403.5" cy="115.4" r="4.65"/>
<circle cx="326.8" cy="116.6" r="4.65"/>
<circle cx="328.4" cy="118.3" r="4.65"/>
<circle cx="283.5" cy="104.9" r="4.65"/>
<circle cx="284.1" cy="106.6" r="4.65"/>
<circle cx="289.7" cy="117.4" r="4.65"/>
<circle cx="290.7" cy="115.4" r="4.65"/>
<circle cx="302.1" cy="114.4" r="4.65"/>
<circle cx="302.9" cy="113.6" r="4.65"/>
<circle cx="310.7" cy="143.4" r="4.65"/>
<circle cx="310.0" cy="142.7" r="4.65"/>
<circle cx="355.6" cy="137.3" r="4.65"/>
<circle cx="355.8" cy="137.5" r="4.65"/>
<circle cx="328.0" cy="131.2" r="4.65"/>
<circle cx="327.4" cy="132.8" r="4.65"/>
<circle cx="354.6" cy="146.8" r="4.65"/>
<circle cx="356.6" cy="148.5" r="4.65"/>
<circle cx="353.3" cy="130.4" r="4.65"/>
<circle cx="355.4" cy="130.5" r="4.65"/>
<circle cx="353.5" cy="152.1" r="4.65"/>
<circle cx="355.3" cy="152.3" r="4.65"/>
<circle cx="399.4" cy="124.1" r="4.65"/>
<circle cx="399.1" cy="125.2" r="4.65"/>
<circle cx="288.3" cy="125.7" r="4.65"/>
<circle cx="287.6" cy="125.6" r="4.65"/>
<circle cx="288.8" cy="130.0" r="4.65"/>
<circle cx="289.6" cy="129.9" r="4.65"/>
<circle cx="368.8" cy="131.8" r="4.65"/>
<circle cx="370.8" cy="131.6" r="4.65"/>
<circle cx="336.2" cy="137.4" r="4.65"/>
<circle cx="337.7" cy="135.4" r="4.65"/>
<circle cx="289.2" cy="141.2" r="4.65"/>
<circle cx="289.0" cy="141.1" r="4.65"/>
<circle cx="333.3" cy="156.9" r="4.65"/>
<circle cx="334.5" cy="158.8" r="4.65"/>
<circle cx="334.6" cy="161.5" r="4.65"/>
<circle cx="336.1" cy="162.1" r="4.65"/>
<circle cx="350.2" cy="126.0" r="4.65"/>
<circle cx="351.7" cy="124.3" r="4.65"/>
<circle cx="396.4" cy="105.2" r="4.65"/>
<circle cx="397.3" cy="105.5" r="4.65"/>
<circle cx="336.5" cy="163.7" r="4.65"/>
<circle cx="337.0" cy="164.3" r="4.65"/>
<circle cx="322.1" cy="115.7" r="4.65"/>
<circle cx="323.6" cy="114.9" r="4.65"/>
<circle cx="388.9" cy="102.1" r="4.65"/>
<circle cx="387.5" cy="101.8" r="4.65"/>
<circle cx="349.7" cy="115.6" r="4.65"/>
<circle cx="350.9" cy="114.5" r="4.65"/>
<circle cx="319.3" cy="140.1" r="4.65"/>
<circle cx="321.4" cy="139.2" r="4.65"/>
<circle cx="308.8" cy="104.9" r="4.65"/>
<circle cx="309.1" cy="106.3" r="4.65"/>
<circle cx="365.7" cy="118.7" r="4.65"/>
<circle cx="363.6" cy="120.5" r="4.65"/>
<circle cx="275.3" cy="123.3" r="4.65"/>
<circle cx="276.1" cy="122.6" r="4.65"/>
<circle cx="332.1" cy="135.7" r="4.65"/>
<circle cx="334.1" cy="134.5" r="4.65"/>
<circle cx="293.3" cy="99.0" r="4.65"/>
<circle cx="295.5" cy="100.4" r="4.65"/>
<circle cx="396.0" cy="146.7" r="4.65"/>
<circle cx="394.4" cy="148.8" r="4.65"/>
<circle cx="412.8" cy="115.8" r="4.65"/>
<circle cx="411.2" cy="117.3" r="4.65"/>
<circle cx="398.2" cy="102.3" r="4.65"/>
<circle cx="398.7" cy="103.2" r="4.65"/>
<circle cx="349.3" cy="144.9" r="4.65"/>
<circle cx="348.6" cy="144.3" r="4.65"/>
<circle cx="321.0" cy="134.1" r="4.65"/>
<circle cx="322.5" cy="135.1" r="4.65"/>
<circle cx="295.0" cy="94.0" r="4.65"/>
<circle cx="295.1" cy="92.1" r="4.65"/>
<circle cx="373.3" cy="127.6" r="4.65"/>
<circle cx="373.4" cy="126.9" r="4.65"/>
<circle cx="414.6" cy="156.4" r="4.65"/>
<circle cx="413.3" cy="155.6" r="4.65"/>
<circle cx="338.6" cy="147.0" r="4.65"/>
<circle cx="337.1" cy="147.6" r="4.65"/>
<circle cx="349.7" cy="136.5" r="4.65"/>
<circle cx="348.7" cy="138.3" r="4.65"/>
<circle cx="300.5" cy="141.3" r="4.65"/>
<circle cx="301.8" cy="143.2" r="4.65"/>
<circle cx="334.7" cy="126.7" r="4.65"/>
<circle cx="333.1" cy="128.1" r="4.65"/>
<circle cx="351.2" cy="145.5" r="4.65"/>
<circle cx="351.3" cy="146.2" r="4.65"/>
<circle cx="340.0" cy="149.9" r="4.65"/>
<circle cx="341.0" cy="151.6" r="4.65"/>
<circle cx="364.8" cy="125.2" r="4.65"/>
<circle cx="365.1" cy="125.3" r="4.65"/>
<circle cx="341.1" cy="134.6" r="4.65"/>
<circle cx="341.0" cy="133.8" r="4.65"/>
<circle cx="307.4" cy="101.9" r="4.65"/>
<circle cx="305.7" cy="101.8" r="4.65"/>
<circle cx="346.6" cy="143.5" r="4.65"/>
<circle cx="346.4" cy="144.9" r="4.65"/>
<circle cx="329.6" cy="146.4" r="4.65"/>
<circle cx="330.2" cy="147.2" r="4.65"/>
<circle cx="362.0" cy="127.1" r="4.65"/>
<circle cx="361.1" cy="128.8" r="4.65"/>
<circle cx="399.9" cy="108.2" r="4.65"/>
<circle cx="400.0" cy="109.4" r="4.65"/>
<circle cx="403.7" cy="155.1" r="4.65"/>
<circle cx="402.0" cy="156.5" r="4.65"/>
<circle cx="351.4" cy="153.9" r="4.65"/>
<circle cx="351.1" cy="154.7" r="4.65"/>
<circle cx="336.3" cy="138.5" r="4.65"/>
<circle cx="335.9" cy="140.6" r="4.65"/>
<circle cx="321.1" cy="146.7" r="4.65"/>
<circle cx="319.9" cy="147.7" r="4.65"/>
<circle cx="354.9" cy="110.5" r="4.65"/>
<circle cx="355.3" cy="110.1" r="4.65"/>
<circle cx="285.0" cy="138.0" r="4.65"/>
<circle cx="283.1" cy="137.7" r="4.65"/>
<circle cx="314.8" cy="103.9" r="4.65"/>
<circle cx="314.7" cy="105.7" r="4.65"/>
<circle cx="388.6" cy="125.5" r="4.65"/>
<circle cx="390.0" cy="127.0" r="4.65"/>
<circle cx="322.4" cy="141.4" r="4.65"/>
<circle cx="320.9" cy="143.5" r="4.65"/>
<circle cx="388.4" cy="110.9" r="4.65"/>
<circle cx="387.0" cy="111.6" r="4.65"/>
<circle cx="364.6" cy="117.1" r="4.65"/>
<circle cx="363.5" cy="117.2" r="4.65"/>
<circle cx="304.3" cy="139.4" r="4.65"/>
<circle cx="302.5" cy="139.9" r="4.65"/>
<circle cx="377.3" cy="113.4" r="4.65"/>
<circle cx="378.8" cy="114.0" r="4.65"/>
<circle cx="315.2" cy="111.6" r="4.65"/>
<circle cx="314.8" cy="113.2" r="4.65"/>
<circle cx="349.4" cy="151.4" r="4.65"/>
<circle cx="348.7" cy="149.9" r="4.65"/>
<circle cx="419.1" cy="129.2" r="4.65"/>
<circle cx="421.2" cy="127.1" r="4.65"/>
<circle cx="300.7" cy="105.7" r="4.65"/>
<circle cx="301.4" cy="105.4" r="4.65"/>
<circle cx="306.8" cy="118.0" r="4.65"/>
<circle cx="304.9" cy="117.4" r="4.65"/>
<circle cx="275.2" cy="127.6" r="4.65"/>
<circle cx="273.3" cy="126.5" r="4.65"/>
<circle cx="352.1" cy="112.3" r="4.65"/>
<circle cx="350.4" cy="111.1" r="4.65"/>
<circle cx="326.9" cy="165.3" r="4.65"/>
<circle cx="326.8" cy="166.5" r="4.65"/>
<circle cx="297.9" cy="123.1" r="4.65"/>
<circle cx="297.3" cy="121.6" r="4.65"/>
<circle cx="327.7" cy="122.3" r="4.65"/>
<circle cx="329.7" cy="121.0" r="4.65"/>
<circle cx="398.2" cy="135.4" r="4.65"/>
<circle cx="398.6" cy="136.7" r="4.65"/>
<circle cx="315.6" cy="129.6" r="4.65"/>
<circle cx="317.4" cy="128.5" r="4.65"/>
<circle cx="323.7" cy="139.5" r="4.65"/>
<circle cx="324.0" cy="141.5" r="4.65"/>
<circle cx="371.1" cy="103.8" r="4.65"/>
<circle cx="372.2" cy="105.8" r="4.65"/>
<circle cx="384.3" cy="100.0" r="4.65"/>
<circle cx="385.3" cy="101.5" r="4.65"/>
<circle cx="380.7" cy="121.0" r="4.65"/>
<circle cx="381.0" cy="122.8" r="4.65"/>
<circle cx="344.5" cy="111.3" r="4.65"/>
<circle cx="346.7" cy="110.5" r="4.65"/>
<circle cx="335.0" cy="161.6" r="4.65"/>
<circle cx="333.0" cy="160.6" r="4.65"/>
<circle cx="306.9" cy="119.2" r="4.65"/>
<circle cx="308.5" cy="117.2" r="4.65"/>
<circle cx="372.8" cy="111.7" r="4.65"/>
<circle cx="371.3" cy="109.7" r="4.65"/>
<circle cx="289.0" cy="94.9" r="4.65"/>
<circle cx="289.5" cy="94.8" r="4.65"/>
<circle cx="386.0" cy="107.0" r="4.65"/>
<circle cx="385.6" cy="104.8" r="4.65"/>
<circle cx="414.0" cy="163.2" r="4.65"/>
<circle cx="412.1" cy="164.0" r="4.65"/>
<circle cx="330.4" cy="149.8" r="4.65"/>
<circle cx="332.5" cy="149.4" r="4.65"/>
<circle cx="384.4" cy="123.2" r="4.65"/>
<circle cx="383.3" cy="125.1" r="4.65"/>
<circle cx="301.4" cy="139.3" r="4.65"/>
<circle cx="299.7" cy="141.1" r="4.65"/>
<circle cx="415.1" cy="150.8" r="4.65"/>
<circle cx="414.3" cy="149.6" r="4.65"/>
<circle cx="392.9" cy="112.0" r="4.65"/>
<circle cx="390.9" cy="112.9" r="4.65"/>
<circle cx="327.9" cy="128.1" r="4.65"/>
<circle cx="327.9" cy="129.8" r="4.65"/>
<circle cx="273.9" cy="121.1" r="4.65"/>
<circle cx="273.0" cy="119.1" r="4.65"/>
<circle cx="306.8" cy="118.4" r="4.65"/>
<circle cx="304.9" cy="120.5" r="4.65"/>
<circle cx="366.3" cy="114.3" r="4.65"/>
<circle cx="367.9" cy="112.1" r="4.65"/>
<circle cx="336.4" cy="139.4" r="4.65"/>
<circle cx="334.5" cy="138.3" r="4.65"/>
<circle cx="289.6" cy="136.7" r="4.65"/>
<circle cx="288.4" cy="137.0" r="4.65"/>
<circle cx="383.0" cy="139.9" r="4.65"/>
<circle cx="382.4" cy="138.1" r="4.65"/>
<circle cx="288.9" cy="120.8" r="4.65"/>
<circle cx="289.1" cy="121.3" r="4.65"/>
<circle cx="305.7" cy="108.8" r="4.65"/>
<circle cx="306.6" cy="109.0" r="4.65"/>
<circle cx="268.1" cy="122.0" r="4.65"/>
<circle cx="267.7" cy="123.2" r="4.65"/>
<circle cx="403.3" cy="167.8" r="4.65"/>
<circle cx="404.9" cy="169.1" r="4.65"/>
<circle cx="306.1" cy="111.9" r="4.65"/>
<circle cx="307.8" cy="113.4" r="4.65"/>
<circle cx="281.5" cy="147.0" r="4.65"/>
<circle cx="281.8" cy="145.8" r="4.65"/>
<circle cx="332.0" cy="142.6" r="4.65"/>
<circle cx="332.5" cy="141.8" r="4.65"/>
<circle cx="386.4" cy="136.9" r="4.65"/>
<circle cx="386.4" cy="136.7" r="4.65"/>
<circle cx="378.4" cy="117.7" r="4.65"/>
<circle cx="376.5" cy="119.3" r="4.65"/>
<circle cx="395.2" cy="115.9" r="4.65"/>
<circle cx="394.5" cy="116.8" r="4.65"/>
<circle cx="358.9" cy="148.3" r="4.65"/>
<circle cx="359.7" cy="147.8" r="4.65"/>
<circle cx="405.7" cy="121.9" r="4.65"/>
<circle cx="403.5" cy="124.0" r="4.65"/>
<circle cx="285.2" cy="140.3" r="4.65"/>
<circle cx="286.1" cy="138.5" r="4.65"/>
<circle cx="563.4" cy="46.8" r="4.65"/>
<circle cx="564.8" cy="47.0" r="4.65"/>
<circle cx="551.6" cy="83.6" r="4.65"/>
<circle cx="552.8" cy="85.2" r="4.65"/>
<circle cx="570.1" cy="51.2" r="4.65"/>
<circle cx="569.2" cy="49.5" r="4.65"/>
<circle cx="540.9" cy="85.2" r="4.65"/>
<circle cx="540.3" cy="84.3" r="4.65"/>
<circle cx="525.6" cy="66.4" r="4.65"/>
<circle cx="526.5" cy="64.9" r="4.65"/>
<circle cx="575.2" cy="46.3" r="4.65"/>
<circle cx="575.9" cy="47.5" r="4.65"/>
<circle cx="580.8" cy="50.7" r="4.65"/>
<circle cx="580.3" cy="52.1" r="4.65"/>
<circle cx="542.3" cy="64.7" r="4.65"/>
<circle cx="540.9" cy="65.2" r="4.65"/>
<circle cx="557.5" cy="42.1" r="4.65"/>
<circle cx="555.9" cy="41.5" r="4.65"/>
<circle cx="594.7" cy="73.1" r="4.65"/>
<circle cx="592.6" cy="74.6" r="4.65"/>
<circle cx="532.2" cy="64.7" r="4.65"/>
<circle cx="533.3" cy="64.3" r="4.65"/>
<circle cx="562.5" cy="89.4" r="4.65"/>
<circle cx="563.6" cy="89.2" r="4.65"/>
<circle cx="584.5" cy="41.3" r="4.65"/>
<circle cx="585.6" cy="40.5" r="4.65"/>
<circle cx="553.4" cy="81.2" r="4.65"/>
<circle cx="552.1" cy="79.4" r="4.65"/>
<circle cx="524.3" cy="55.8" r="4.65"/>
<circle cx="523.4" cy="57.2" r="4.65"/>
<circle cx="588.3" cy="66.0" r="4.65"/>
<circle cx="589.4" cy="64.1" r="4.65"/>
<circle cx="602.0" cy="41.0" r="4.65"/>
<circle cx="601.4" cy="42.7" r="4.65"/>
<circle cx="582.7" cy="65.0" r="4.65"/>
<circle cx="582.0" cy="65.9" r="4.65"/>
<circle cx="570.6" cy="52.6" r="4.65"/>
<circle cx="569.5" cy="54.5" r="4.65"/>
<circle cx="559.6" cy="70.8" r="4.65"/>
<circle cx="558.1" cy="71.7" r="4.65"/>
<circle cx="515.7" cy="76.8" r="4.65"/>
<circle cx="513.5" cy="74.8" r="4.65"/>
<circle cx="594.5" cy="41.7" r="4.65"/>
<circle cx="595.6" cy="40.3" r="4.65"/>
<circle cx="548.2" cy="74.1" r="4.65"/>
<circle cx="548.6" cy="72.1" r="4.65"/>
<circle cx="548.8" cy="89.6" r="4.65"/>
<circle cx="549.1" cy="88.9" r="4.65"/>
<circle cx="568.1" cy="87.8" r="4.65"/>
<circle cx="566.2" cy="89.8" r="4.65"/>
<circle cx="537.1" cy="53.1" r="4.65"/>
<circle cx="537.0" cy="51.1" r="4.65"/>
<circle cx="547.7" cy="91.7" r="4.65"/>
<circle cx="545.7" cy="89.9" r="4.65"/>
<circle cx="532.6" cy="57.9" r="4.65"/>
<circle cx="532.2" cy="56.9" r="4.65"/>
<circle cx="572.1" cy="38.3" r="4.65"/>
<circle cx="570.5" cy="38.5" r="4.65"/>
<circle cx="544.7" cy="64.8" r="4.65"/>
<circle cx="546.8" cy="63.6" r="4.65"/>
<circle cx="564.1" cy="67.7" r="4.65"/>
<circle cx="562.6" cy="67.8" r="4.65"/>
<circle cx="549.9" cy="47.7" r="4.65"/>
<circle cx="549.3" cy="49.7" r="4.65"/>
<circle cx="520.1" cy="69.1" r="4.65"/>
<circle cx="518.2" cy="69.2" r="4.65"/>
<circle cx="571.7" cy="28.1" r="4.65"/>
<circle cx="573.2" cy="29.0" r="4.65"/>
<circle cx="533.1" cy="44.9" r="4.65"/>
<circle cx="534.2" cy="45.5" r="4.65"/>
<circle cx="557.0" cy="57.6" r="4.65"/>
<circle cx="557.2" cy="56.8" r="4.65"/>
<circle cx="565.4" cy="27.0" r="4.65"/>
<circle cx="563.9" cy="28.8" r="4.65"/>
<circle cx="525.3" cy="81.8" r="4.65"/>
<circle cx="525.0" cy="80.6" r="4.65"/>
<circle cx="563.7" cy="80.5" r="4.65"/>
<circle cx="564.4" cy="81.2" r="4.65"/>
<circle cx="529.6" cy="59.6" r="4.65"/>
<circle cx="531.4" cy="59.6" r="4.65"/>
<circle cx="533.3" cy="74.7" r="4.65"/>
<circle cx="534.9" cy="74.0" r="4.65"/>
<circle cx="514.0" cy="73.4" r="4.65"/>
<circle cx="516.1" cy="71.4" r="4.65"/>
<circle cx="588.5" cy="54.9" r="4.65"/>
<circle cx="587.9" cy="56.3" r="4.65"/>
<circle cx="543.0" cy="82.0" r="4.65"/>
<circle cx="542.8" cy="83.0" r="4.65"/>
<circle cx="584.9" cy="32.2" r="4.65"/>
<circle cx="585.1" cy="30.8" r="4.65"/>
<circle cx="546.2" cy="62.6" r="4.65"/>
<circle cx="544.8" cy="62.1" r="4.65"/>
<circle cx="546.1" cy="55.0" r="4.65"/>
<circle cx="545.1" cy="54.6" r="4.65"/>
<circle cx="559.1" cy="62.8" r="4.65"/>
<circle cx="561.1" cy="60.7" r="4.65"/>
<circle cx="523.9" cy="57.0" r="4.65"/>
<circle cx="525.6" cy="55.9" r="4.65"/>
<circle cx="585.2" cy="64.4" r="4.65"/>
<circle cx="585.2" cy="62.8" r="4.65"/>
<circle cx="541.0" cy="60.7" r="4.65"/>
<circle cx="542.1" cy="59.6" r="4.65"/>
<circle cx="568.6" cy="80.6" r="4.65"/>
<circle cx="566.9" cy="81.6" r="4.65"/>
<circle cx="517.5" cy="64.6" r="4.65"/>
<circle cx="518.4" cy="63.1" r="4.65"/>
<circle cx="590.1" cy="58.3" r="4.65"/>
<circle cx="590.2" cy="58.7" r="4.65"/>
<circle cx="573.4" cy="59.6" r="4.65"/>
<circle cx="573.0" cy="58.6" r="4.65"/>
<circle cx="560.1" cy="76.2" r="4.65"/>
<circle cx="562.2" cy="74.1" r="4.65"/>
<circle cx="555.6" cy="58.7" r="4.65"/>
<circle cx="555.8" cy="60.9" r="4.65"/>
<circle cx="520.5" cy="53.0" r="4.65"/>
<circle cx="520.1" cy="53.3" r="4.65"/>
<circle cx="523.1" cy="76.3" r="4.65"/>
<circle cx="523.6" cy="76.0" r="4.65"/>
<circle cx="576.4" cy="29.2" r="4.65"/>
<circle cx="578.2" cy="28.5" r="4.65"/>
<circle cx="549.1" cy="57.9" r="4.65"/>
<circle cx="549.9" cy="57.0" r="4.65"/>
<circle cx="523.4" cy="51.6" r="4.65"/>
<circle cx="524.4" cy="52.4" r="4.65"/>
<circle cx="564.8" cy="46.2" r="4.65"/>
<circle cx="562.6" cy="44.8" r="4.65"/>
<circle cx="567.3" cy="52.5" r="4.65"/>
<circle cx="566.7" cy="53.2" r="4.65"/>
<circle cx="566.9" cy="75.1" r="4.65"/>
<circle cx="568.5" cy="74.7" r="4.65"/>
<circle cx="555.6" cy="46.1" r="4.65"/>
<circle cx="555.9" cy="44.8" r="4.65"/>
<circle cx="561.6" cy="36.8" r="4.65"/>
<circle cx="563.8" cy="36.4" r="4.65"/>
<circle cx="538.6" cy="42.0" r="4.65"/>
<circle cx="540.6" cy="42.0" r="4.65"/>
<circle cx="588.4" cy="40.2" r="4.65"/>
<circle cx="588.9" cy="40.7" r="4.65"/>
<circle cx="559.0" cy="30.5" r="4.65"/>
<circle cx="560.9" cy="31.4" r="4.65"/>
<circle cx="593.6" cy="51.4" r="4.65"/>
<circle cx="595.3" cy="52.5" r="4.65"/>
<circle cx="561.5" cy="84.8" r="4.65"/>
<circle cx="560.4" cy="85.8" r="4.65"/>
<circle cx="545.5" cy="85.1" r="4.65"/>
<circle cx="543.9" cy="85.6" r="4.65"/>
<circle cx="585.4" cy="67.7" r="4.65"/>
<circle cx="583.2" cy="69.4" r="4.65"/>
<circle cx="550.8" cy="43.8" r="4.65"/>
<circle cx="550.6" cy="45.5" r="4.65"/>
<circle cx="539.5" cy="53.3" r="4.65"/>
<circle cx="538.6" cy="54.7" r="4.65"/>
<circle cx="539.8" cy="47.9" r="4.65"/>
<circle cx="540.4" cy="46.2" r="4.65"/>
<circle cx="527.6" cy="58.1" r="4.65"/>
<circle cx="528.7" cy="58.5" r="4.65"/>
<circle cx="568.5" cy="61.5" r="4.65"/>
<circle cx="570.1" cy="60.5" r="4.65"/>
<circle cx="588.1" cy="70.5" r="4.65"/>
<circle cx="587.9" cy="71.1" r="4.65"/>
<circle cx="549.7" cy="44.2" r="4.65"/>
<circle cx="549.0" cy="43.7" r="4.65"/>
<circle cx="523.7" cy="61.9" r="4.65"/>
<circle cx="522.0" cy="60.1" r="4.65"/>
<circle cx="581.2" cy="74.7" r="4.65"/>
<circle cx="580.6" cy="74.1" r="4.65"/>
<circle cx="565.6" cy="66.5" r="4.65"/>
<circle cx="567.2" cy="68.7" r="4.65"/>
<circle cx="573.0" cy="73.3" r="4.65"/>
<circle cx="574.5" cy="73.1" r="4.65"/>
<circle cx="587.9" cy="38.4" r="4.65"/>
<circle cx="586.4" cy="37.6" r="4.65"/>
<circle cx="585.0" cy="32.7" r="4.65"/>
<circle cx="585.6" cy="33.7" r="4.65"/>
<circle cx="562.1" cy="46.3" r="4.65"/>
<circle cx="560.2" cy="48.4" r="4.65"/>
<circle cx="591.7" cy="69.0" r="4.65"/>
<circle cx="589.7" cy="67.8" r="4.65"/>
<circle cx="578.4" cy="42.2" r="4.65"/>
<circle cx="579.8" cy="40.8" r="4.65"/>
<circle cx="563.2" cy="54.9" r="4.65"/>
<circle cx="562.7" cy="55.2" r="4.65"/>
<circle cx="555.6" cy="28.6" r="4.65"/>
<circle cx="557.3" cy="26.5" r="4.65"/>
<circle cx="555.3" cy="40.1" r="4.65"/>
<circle cx="555.5" cy="38.9" r="4.65"/>
<circle cx="527.9" cy="65.1" r="4.65"/>
<circle cx="529.7" cy="64.8" r="4.65"/>
<circle cx="545.4" cy="47.7" r="4.65"/>
<circle cx="547.1" cy="49.2" r="4.65"/>
<circle cx="546.9" cy="52.5" r="4.65"/>
<circle cx="545.9" cy="52.1" r="4.65"/>
<circle cx="585.9" cy="52.0" r="4.65"/>
<circle cx="585.9" cy="54.0" r="4.65"/>
<circle cx="540.5" cy="78.8" r="4.65"/>
<circle cx="539.1" cy="77.9" r="4.65"/>
<circle cx="575.6" cy="41.0" r="4.65"/>
<circle cx="577.7" cy="41.6" r="4.65"/>
<circle cx="561.0" cy="34.1" r="4.65"/>
<circle cx="560.6" cy="34.9" r="4.65"/>
<circle cx="587.5" cy="49.4" r="4.65"/>
<circle cx="587.8" cy="50.9" r="4.65"/>
<circle cx="552.8" cy="59.1" r="4.65"/>
<circle cx="551.6" cy="60.1" r="4.65"/>
<circle cx="551.8" cy="53.2" r="4.65"/>
<circle cx="550.1" cy="53.6" r="4.65"/>
<circle cx="578.7" cy="78.1" r="4.65"/>
<circle cx="576.8" cy="80.0" r="4.65"/>
<circle cx="562.3" cy="66.1" r="4.65"/>
<circle cx="563.5" cy="65.0" r="4.65"/>
<circle cx="551.0" cy="36.3" r="4.65"/>
<circle cx="552.3" cy="38.0" r="4.65"/>
<circle cx="542.9" cy="52.8" r="4.65"/>
<circle cx="543.4" cy="51.5" r="4.65"/>
<circle cx="581.5" cy="34.0" r="4.65"/>
<circle cx="580.6" cy="33.1" r="4.65"/>
<circle cx="530.9" cy="79.7" r="4.65"/>
<circle cx="530.9" cy="79.7" r="4.65"/>
<circle cx="530.2" cy="50.9" r="4.65"/>
<circle cx="531.1" cy="51.2" r="4.65"/>
<circle cx="521.8" cy="49.7" r="4.65"/>
<circle cx="522.8" cy="49.3" r="4.65"/>
<circle cx="580.5" cy="48.8" r="4.65"/>
<circle cx="578.6" cy="48.0" r="4.65"/>
<circle cx="539.0" cy="44.7" r="4.65"/>
<circle cx="537.2" cy="45.8" r="4.65"/>
<circle cx="527.9" cy="46.2" r="4.65"/>
<circle cx="527.8" cy="46.9" r="4.65"/>
<circle cx="555.0" cy="56.5" r="4.65"/>
<circle cx="553.3" cy="57.6" r="4.65"/>
<circle cx="572.5" cy="42.3" r="4.65"/>
<circle cx="572.5" cy="43.8" r="4.65"/>
<circle cx="526.1" cy="80.8" r="4.65"/>
<circle cx="528.3" cy="79.0" r="4.65"/>
<circle cx="516.6" cy="57.0" r="4.65"/>
<circle cx="517.4" cy="58.0" r="4.65"/>
<circle cx="585.2" cy="52.0" r="4.65"/>
<circle cx="583.5" cy="53.7" r="4.65"/>
<circle cx="566.7" cy="45.7" r="4.65"/>
<circle cx="568.1" cy="47.6" r="4.65"/>
<circle cx="569.9" cy="42.7" r="4.65"/>
<circle cx="569.3" cy="43.7" r="4.65"/>
<circle cx="592.8" cy="73.0" r="4.65"/>
<circle cx="594.2" cy="70.8" r="4.65"/>
<circle cx="559.6" cy="84.2" r="4.65"/>
<circle cx="558.2" cy="84.5" r="4.65"/>
<circle cx="607.9" cy="46.0" r="4.65"/>
<circle cx="607.3" cy="47.5" r="4.65"/>
<circle cx="535.9" cy="82.2" r="4.65"/>
<circle cx="535.0" cy="81.1" r="4.65"/>
<circle cx="570.9" cy="68.8" r="4.65"/>
<circle cx="571.3" cy="68.0" r="4.65"/>
<circle cx="529.7" cy="45.4" r="4.65"/>
<circle cx="530.5" cy="47.2" r="4.65"/>
<circle cx="533.4" cy="64.9" r="4.65"/>
<circle cx="534.5" cy="66.3" r="4.65"/>
<circle cx="577.8" cy="32.9" r="4.65"/>
<circle cx="577.2" cy="33.5" r="4.65"/>
<circle cx="593.9" cy="62.4" r="4.65"/>
<circle cx="592.7" cy="62.1" r="4.65"/>
<circle cx="550.0" cy="60.7" r="4.65"/>
<circle cx="549.6" cy="62.3" r="4.65"/>
<circle cx="576.1" cy="23.8" r="4.65"/>
<circle cx="575.9" cy="24.2" r="4.65"/>
<circle cx="551.7" cy="42.2" r="4.65"/>
<circle cx="551.2" cy="40.2" r="4.65"/>
<circle cx="557.6" cy="31.6" r="4.65"/>
<circle cx="556.7" cy="30.2" r="4.65"/>
<circle cx="547.6" cy="57.5" r="4.65"/>
<circle cx="547.0" cy="58.5" r="4.65"/>
<circle cx="589.8" cy="35.4" r="4.65"/>
<circle cx="591.7" cy="35.1" r="4.65"/>
<circle cx="548.9" cy="84.6" r="4.65"/>
<circle cx="550.6" cy="86.8" r="4.65"/>
<circle cx="561.0" cy="50.6" r="4.65"/>
<circle cx="562.8" cy="48.5" r="4.65"/>
<circle cx="512.4" cy="63.0" r="4.65"/>
<circle cx="511.4" cy="63.3" r="4.65"/>
<circle cx="571.2" cy="60.8" r="4.65"/>
<circle cx="571.6" cy="62.2" r="4.65"/>
<circle cx="574.7" cy="42.3" r="4.65"/>
<circle cx="574.6" cy="42.1" r="4.65"/>
<circle cx="550.3" cy="63.1" r="4.65"/>
<circle cx="552.3" cy="64.9" r="4.65"/>
<circle cx="551.8" cy="70.9" r="4.65"/>
<circle cx="552.9" cy="71.3" r="4.65"/>
<circle cx="556.8" cy="55.1" r="4.65"/>
<circle cx="555.2" cy="53.0" r="4.65"/>
<circle cx="586.5" cy="31.3" r="4.65"/>
<circle cx="588.5" cy="29.8" r="4.65"/>
<circle cx="518.2" cy="60.8" r="4.65"/>
<circle cx="519.4" cy="60.6" r="4.65"/>
<circle cx="594.3" cy="38.3" r="4.65"/>
<circle cx="593.0" cy="38.6" r="4.65"/>
<circle cx="546.8" cy="81.1" r="4.65"/>
<circle cx="545.8" cy="80.0" r="4.65"/>
<circle cx="569.3" cy="70.5" r="4.65"/>
<circle cx="570.2" cy="71.7" r="4.65"/>
<circle cx="575.5" cy="53.3" r="4.65"/>
<circle cx="573.4" cy="52.5" r="4.65"/>
<circle cx="569.3" cy="31.7" r="4.65"/>
<circle cx="570.5" cy="33.6" r="4.65"/>
<circle cx="574.0" cy="56.6" r="4.65"/>
<circle cx="574.3" cy="56.0" r="4.65"/>
<circle cx="578.0" cy="51.7" r="4.65"/>
<circle cx="576.6" cy="53.4" r="4.65"/>
<circle cx="530.1" cy="65.7" r="4.65"/>
<circle cx="528.5" cy="67.0" r="4.65"/>
<circle cx="543.5" cy="80.9" r="4.65"/>
<circle cx="543.2" cy="78.8" r="4.65"/>
<circle cx="583.6" cy="38.1" r="4.65"/>
<circle cx="583.7" cy="38.7" r="4.65"/>
<circle cx="536.0" cy="68.0" r="4.65"/>
<circle cx="535.6" cy="69.9" r="4.65"/>
<circle cx="585.7" cy="44.9" r="4.65"/>
<circle cx="587.4" cy="43.8" r="4.65"/>
<circle cx="553.3" cy="76.9" r="4.65"/>
<circle cx="554.1" cy="76.7" r="4.65"/>
<circle cx="581.2" cy="78.5" r="4.65"/>
<circle cx="582.1" cy="77.7" r="4.65"/>
<circle cx="512.2" cy="63.7" r="4.65"/>
<circle cx="514.1" cy="65.6" r="4.65"/>
<circle cx="545.1" cy="84.5" r="4.65"/>
<circle cx="546.2" cy="84.4" r="4.65"/>
<circle cx="589.2" cy="34.4" r="4.65"/>
<circle cx="588.6" cy="33.7" r="4.65"/>
<circle cx="536.1" cy="75.1" r="4.65"/>
<circle cx="537.5" cy="76.0" r="4.65"/>
<circle cx="548.2" cy="44.8" r="4.65"/>
<circle cx="546.7" cy="43.3" r="4.65"/>
<circle cx="554.1" cy="82.3" r="4.65"/>
<circle cx="554.0" cy="80.7" r="4.65"/>
<circle cx="545.0" cy="73.6" r="4.65"/>
<circle cx="544.4" cy="75.0" r="4.65"/>
<circle cx="561.6" cy="81.0" r="4.65"/>
<circle cx="560.0" cy="82.7" r="4.65"/>
<circle cx="580.9" cy="59.1" r="4.65"/>
<circle cx="582.4" cy="58.0" r="4.65"/>
<circle cx="580.1" cy="79.2" r="4.65"/>
<circle cx="578.4" cy="78.1" r="4.65"/>
<circle cx="529.3" cy="68.6" r="4.65"/>
<circle cx="528.1" cy="69.5" r="4.65"/>
<circle cx="549.6" cy="83.6" r="4.65"/>
<circle cx="550.0" cy="82.2" r="4.65"/>
<circle cx="521.8" cy="65.0" r="4.65"/>
<circle cx="522.3" cy="66.7" r="4.65"/>
<circle cx="568.0" cy="77.0" r="4.65"/>
<circle cx="568.9" cy="78.7" r="4.65"/>
<circle cx="539.9" cy="67.6" r="4.65"/>
<circle cx="540.7" cy="68.7" r="4.65"/>
<circle cx="574.2" cy="35.7" r="4.65"/>
<circle cx="574.9" cy="37.4" r="4.65"/>
<circle cx="554.7" cy="52.6" r="4.65"/>
<circle cx="552.7" cy="54.4" r="4.65"/>
<circle cx="590.1" cy="50.6" r="4.65"/>
<circle cx="590.9" cy="48.9" r="4.65"/>
<circle cx="565.5" cy="76.0" r="4.65"/>
<circle cx="565.3" cy="76.1" r="4.65"/>
<circle cx="530.6" cy="75.4" r="4.65"/>
<circle cx="529.6" cy="73.4" r="4.65"/>
<circle cx="548.4" cy="80.1" r="4.65"/>
<circle cx="549.3" cy="79.9" r="4.65"/>
<circle cx="552.2" cy="72.8" r="4.65"/>
<circle cx="552.3" cy="74.5" r="4.65"/>
<circle cx="530.4" cy="81.3" r="4.65"/>
<circle cx="530.6" cy="83.1" r="4.65"/>
<circle cx="557.5" cy="64.6" r="4.65"/>
<circle cx="557.6" cy="63.2" r="4.65"/>
<circle cx="546.3" cy="67.8" r="4.65"/>
<circle cx="545.1" cy="69.6" r="4.65"/>
<circle cx="565.6" cy="26.1" r="4.65"/>
<circle cx="566.1" cy="27.1" r="4.65"/>
<circle cx="597.2" cy="47.6" r="4.65"/>
<circle cx="596.9" cy="46.1" r="4.65"/>
<circle cx="578.3" cy="36.0" r="4.65"/>
<circle cx="577.7" cy="37.4" r="4.65"/>
<circle cx="570.5" cy="79.9" r="4.65"/>
<circle cx="572.6" cy="81.4" r="4.65"/>
<circle cx="563.7" cy="76.6" r="4.65"/>
<circle cx="564.2" cy="78.1" r="4.65"/>
<circle cx="565.1" cy="37.6" r="4.65"/>
<circle cx="566.8" cy="38.6" r="4.65"/>
<circle cx="558.5" cy="58.9" r="4.65"/>
<circle cx="560.0" cy="57.9" r="4.65"/>
<circle cx="577.8" cy="70.0" r="4.65"/>
<circle cx="575.7" cy="69.4" r="4.65"/>
<circle cx="542.2" cy="86.6" r="4.65"/>
<circle cx="543.5" cy="88.0" r="4.65"/>
<circle cx="554.7" cy="64.1" r="4.65"/>
<circle cx="552.5" cy="62.6" r="4.65"/>
<circle cx="596.2" cy="50.9" r="4.65"/>
<circle cx="596.2" cy="50.1" r="4.65"/>
<circle cx="563.3" cy="40.1" r="4.65"/>
<circle cx="561.3" cy="39.2" r="4.65"/>
<circle cx="543.2" cy="43.3" r="4.65"/>
<circle cx="542.7" cy="43.0" r="4.65"/>
<circle cx="572.8" cy="68.3" r="4.65"/>
<circle cx="573.5" cy="68.6" r="4.65"/>
<circle cx="578.6" cy="55.3" r="4.65"/>
<circle cx="578.9" cy="54.6" r="4.65"/>
<circle cx="590.0" cy="23.1" r="4.65"/>
<circle cx="589.2" cy="25.1" r="4.65"/>
<circle cx="540.9" cy="52.3" r="4.65"/>
<circle cx="539.6" cy="51.6" r="4.65"/>
<circle cx="594.6" cy="66.3" r="4.65"/>
<circle cx="594.4" cy="64.3" r="4.65"/>
<circle cx="585.5" cy="22.8" r="4.65"/>
<circle cx="585.7" cy="23.7" r="4.65"/>
<circle cx="573.5" cy="74.6" r="4.65"/>
<circle cx="574.8" cy="75.4" r="4.65"/>
<circle cx="568.5" cy="41.1" r="4.65"/>
<circle cx="568.1" cy="40.9" r="4.65"/>
<circle cx="542.2" cy="67.2" r="4.65"/>
<circle cx="542.8" cy="66.9" r="4.65"/>
<circle cx="558.5" cy="35.5" r="4.65"/>
<circle cx="557.2" cy="33.8" r="4.65"/>
<circle cx="536.6" cy="77.8" r="4.65"/>
<circle cx="534.5" cy="78.9" r="4.65"/>
<circle cx="594.0" cy="53.8" r="4.65"/>
<circle cx="592.3" cy="54.8" r="4.65"/>
<circle cx="558.3" cy="63.6" r="4.65"/>
<circle cx="558.4" cy="65.5" r="4.65"/>
<circle cx="527.3" cy="75.4" r="4.65"/>
<circle cx="526.5" cy="74.7" r="4.65"/>
<circle cx="592.9" cy="31.3" r="4.65"/>
<circle cx="591.9" cy="29.6" r="4.65"/>
<circle cx="589.4" cy="50.1" r="4.65"/>
<circle cx="591.0" cy="52.0" r="4.65"/>
<circle cx="571.8" cy="49.8" r="4.65"/>
<circle cx="571.5" cy="49.6" r="4.65"/>
<circle cx="557.4" cy="39.7" r="4.65"/>
<circle cx="558.5" cy="40.4" r="4.65"/>
<circle cx="593.5" cy="45.9" r="4.65"/>
<circle cx="594.0" cy="44.9" r="4.65"/>
<circle cx="526.9" cy="51.9" r="4.65"/>
<circle cx="527.0" cy="52.7" r="4.65"/>
<circle cx="567.2" cy="26.2" r="4.65"/>
<circle cx="568.6" cy="28.1" r="4.65"/>
<circle cx="547.4" cy="64.8" r="4.65"/>
<circle cx="547.0" cy="66.0" r="4.65"/>
<circle cx="519.6" cy="74.4" r="4.65"/>
<circle cx="520.0" cy="75.9" r="4.65"/>
<circle cx="542.1" cy="77.4" r="4.65"/>
<circle cx="541.6" cy="75.6" r="4.65"/>
<circle cx="534.3" cy="84.2" r="4.65"/>
<circle cx="534.0" cy="84.4" r="4.65"/>
<circle cx="581.4" cy="24.6" r="4.65"/>
<circle cx="582.7" cy="25.2" r="4.65"/>
<circle cx="523.7" cy="64.7" r="4.65"/>
<circle cx="522.9" cy="64.1" r="4.65"/>
<circle cx="591.0" cy="46.0" r="4.65"/>
<circle cx="590.8" cy="44.7" r="4.65"/>
<circle cx="533.6" cy="53.2" r="4.65"/>
<circle cx="533.9" cy="51.7" r="4.65"/>
<circle cx="565.0" cy="51.3" r="4.65"/>
<circle cx="563.1" cy="52.6" r="4.65"/>
<circle cx="521.0" cy="65.6" r="4.65"/>
<circle cx="520.0" cy="65.9" r="4.65"/>
<circle cx="538.0" cy="53.3" r="4.65"/>
<circle cx="535.9" cy="55.3" r="4.65"/>
<circle cx="515.6" cy="62.2" r="4.65"/>
<circle cx="516.5" cy="61.9" r="4.65"/>
<circle cx="530.5" cy="74.3" r="4.65"/>
<circle cx="528.7" cy="75.5" r="4.65"/>
<circle cx="565.4" cy="58.9" r="4.65"/>
<circle cx="567.0" cy="57.4" r="4.65"/>
<circle cx="538.3" cy="78.5" r="4.65"/>
<circle cx="538.9" cy="80.6" r="4.65"/>
<circle cx="600.8" cy="54.1" r="4.65"/>
<circle cx="600.9" cy="53.1" r="4.65"/>
<circle cx="545.9" cy="73.5" r="4.65"/>
<circle cx="545.0" cy="72.6" r="4.65"/>
<circle cx="588.5" cy="79.0" r="4.65"/>
<circle cx="586.6" cy="78.2" r="4.65"/>
<circle cx="561.7" cy="55.5" r="4.65"/>
<circle cx="560.9" cy="53.5" r="4.65"/>
<circle cx="582.3" cy="47.7" r="4.65"/>
<circle cx="580.9" cy="49.0" r="4.65"/>
<circle cx="578.0" cy="61.1" r="4.65"/>
<circle cx="579.9" cy="60.2" r="4.65"/>
<circle cx="569.0" cy="89.4" r="4.65"/>
<circle cx="568.9" cy="89.6" r="4.65"/>
<circle cx="555.9" cy="66.9" r="4.65"/>
<circle cx="554.4" cy="68.4" r="4.65"/>
<circle cx="242.1" cy="494.8" r="4.65"/>
<circle cx="242.3" cy="496.3" r="4.65"/>
<circle cx="248.4" cy="369.3" r="4.65"/>
<circle cx="247.9" cy="369.0" r="4.65"/>
<circle cx="223.7" cy="385.0" r="4.65"/>
<circle cx="225.0" cy="383.9" r="4.65"/>
<circle cx="258.6" cy="451.7" r="4.65"/>
<circle cx="259.7" cy="453.7" r="4.65"/>
<circle cx="255.6" cy="489.9" r="4.65"/>
<circle cx="256.5" cy="488.7" r="4.65"/>
<circle cx="259.6" cy="477.4" r="4.65"/>
<circle cx="258.4" cy="477.8" r="4.65"/>
<circle cx="221.0" cy="478.4" r="4.65"/>
<circle cx="220.0" cy="479.6" r="4.65"/>
<circle cx="227.6" cy="420.7" r="4.65"/>
<circle cx="228.7" cy="422.0" r="4.65"/>
<circle cx="207.2" cy="422.4" r="4.65"/>
<circle cx="206.2" cy="422.1" r="4.65"/>
<circle cx="201.5" cy="367.1" r="4.65"/>
<circle cx="200.5" cy="366.8" r="4.65"/>
<circle cx="226.7" cy="479.3" r="4.65"/>
<circle cx="227.6" cy="478.5" r="4.65"/>
<circle cx="216.2" cy="375.8" r="4.65"/>
<circle cx="215.1" cy="377.3" r="4.65"/>
<circle cx="187.6" cy="438.6" r="4.65"/>
<circle cx="187.9" cy="438.5" r="4.65"/>
<circle cx="234.5" cy="418.1" r="4.65"/>
<circle cx="233.4" cy="416.0" r="4.65"/>
<circle cx="178.7" cy="430.9" r="4.65"/>
<circle cx="179.8" cy="432.9" r="4.65"/>
<circle cx="254.2" cy="492.7" r="4.65"/>
<circle cx="256.1" cy="494.4" r="4.65"/>
<circle cx="239.1" cy="372.9" r="4.65"/>
<circle cx="237.2" cy="374.3" r="4.65"/>
<circle cx="264.2" cy="487.9" r="4.65"/>
<circle cx="265.1" cy="488.2" r="4.65"/>
<circle cx="207.4" cy="473.9" r="4.65"/>
<circle cx="207.3" cy="472.8" r="4.65"/>
<circle cx="234.0" cy="472.4" r="4.65"/>
<circle cx="233.2" cy="473.9" r="4.65"/>
<circle cx="188.1" cy="455.9" r="4.65"/>
<circle cx="188.9" cy="455.3" r="4.65"/>
<circle cx="229.9" cy="451.9" r="4.65"/>
<circle cx="230.6" cy="450.6" r="4.65"/>
<circle cx="205.5" cy="473.9" r="4.65"/>
<circle cx="205.6" cy="474.8" r="4.65"/>
<circle cx="226.2" cy="440.1" r="4.65"/>
<circle cx="227.8" cy="442.2" r="4.65"/>
<circle cx="204.2" cy="362.0" r="4.65"/>
<circle cx="203.8" cy="362.4" r="4.65"/>
<circle cx="195.5" cy="451.7" r="4.65"/>
<circle cx="195.4" cy="451.7" r="4.65"/>
<circle cx="225.4" cy="429.4" r="4.65"/>
<circle cx="223.4" cy="429.9" r="4.65"/>
<circle cx="240.8" cy="399.8" r="4.65"/>
<circle cx="240.7" cy="398.5" r="4.65"/>
<circle cx="268.0" cy="478.7" r="4.65"/>
<circle cx="267.9" cy="476.7" r="4.65"/>
<circle cx="230.5" cy="408.8" r="4.65"/>
<circle cx="231.4" cy="408.9" r="4.65"/>
<circle cx="252.7" cy="379.7" r="4.65"/>
<circle cx="252.4" cy="379.7" r="4.65"/>
<circle cx="219.2" cy="442.6" r="4.65"/>
<circle cx="219.3" cy="444.2" r="4.65"/>
<circle cx="215.5" cy="370.4" r="4.65"/>
<circle cx="214.2" cy="370.2" r="4.65"/>
<circle cx="171.8" cy="439.5" r="4.65"/>
<circle cx="169.9" cy="440.7" r="4.65"/>
<circle cx="225.1" cy="369.6" r="4.65"/>
<circle cx="226.6" cy="368.2" r="4.65"/>
<circle cx="261.1" cy="371.7" r="4.65"/>
<circle cx="263.1" cy="372.5" r="4.65"/>
<circle cx="219.9" cy="411.0" r="4.65"/>
<circle cx="219.1" cy="411.8" r="4.65"/>
<circle cx="213.8" cy="446.2" r="4.65"/>
<circle cx="214.8" cy="447.5" r="4.65"/>
<circle cx="236.0" cy="495.0" r="4.65"/>
<circle cx="235.1" cy="494.6" r="4.65"/>
<circle cx="182.6" cy="438.5" r="4.65"/>
<circle cx="180.5" cy="440.5" r="4.65"/>
<circle cx="255.5" cy="441.5" r="4.65"/>
<circle cx="256.8" cy="440.4" r="4.65"/>
<circle cx="246.2" cy="367.1" r="4.65"/>
<circle cx="247.1" cy="365.0" r="4.65"/>
<circle cx="244.1" cy="498.7" r="4.65"/>
<circle cx="245.9" cy="499.3" r="4.65"/>
<circle cx="210.9" cy="456.5" r="4.65"/>
<circle cx="213.0" cy="456.1" r="4.65"/>
<circle cx="257.9" cy="471.0" r="4.65"/>
<circle cx="259.1" cy="472.7" r="4.65"/>
<circle cx="261.3" cy="421.7" r="4.65"/>
<circle cx="261.4" cy="419.7" r="4.65"/>
<circle cx="219.1" cy="394.2" r="4.65"/>
<circle cx="219.7" cy="392.3" r="4.65"/>
<circle cx="225.8" cy="382.1" r="4.65"/>
<circle cx="225.6" cy="380.3" r="4.65"/>
<circle cx="205.7" cy="430.3" r="4.65"/>
<circle cx="207.4" cy="430.3" r="4.65"/>
<circle cx="187.8" cy="448.0" r="4.65"/>
<circle cx="186.6" cy="447.4" r="4.65"/>
<circle cx="233.4" cy="399.3" r="4.65"/>
<circle cx="231.5" cy="400.4" r="4.65"/>
<circle cx="263.9" cy="434.4" r="4.65"/>
<circle cx="265.0" cy="434.0" r="4.65"/>
<circle cx="240.0" cy="421.7" r="4.65"/>
<circle cx="238.3" cy="421.8" r="4.65"/>
<circle cx="258.8" cy="372.9" r="4.65"/>
<circle cx="259.9" cy="373.2" r="4.65"/>
<circle cx="171.8" cy="435.8" r="4.65"/>
<circle cx="171.1" cy="434.6" r="4.65"/>
<circle cx="221.0" cy="452.6" r="4.65"/>
<circle cx="220.0" cy="453.6" r="4.65"/>
<circle cx="193.5" cy="440.4" r="4.65"/>
<circle cx="192.5" cy="439.9" r="4.65"/>
<circle cx="250.1" cy="405.1" r="4.65"/>
<circle cx="250.9" cy="406.2" r="4.65"/>
<circle cx="244.5" cy="421.9" r="4.65"/>
<circle cx="244.2" cy="421.6" r="4.65"/>
<circle cx="260.9" cy="467.2" r="4.65"/>
<circle cx="258.9" cy="466.6" r="4.65"/>
<circle cx="244.8" cy="465.5" r="4.65"/>
<circle cx="246.5" cy="464.1" r="4.65"/>
<circle cx="231.1" cy="392.6" r="4.65"/>
<circle cx="231.8" cy="391.5" r="4.65"/>
<circle cx="232.4" cy="357.2" r="4.65"/>
<circle cx="232.4" cy="356.0" r="4.65"/>
<circle cx="237.8" cy="452.7" r="4.65"/>
<circle cx="237.5" cy="454.0" r="4.65"/>
<circle cx="224.0" cy="485.2" r="4.65"/>
<circle cx="222.8" cy="483.2" r="4.65"/>
<circle cx="255.6" cy="434.6" r="4.65"/>
<circle cx="257.1" cy="434.4" r="4.65"/>
<circle cx="230.1" cy="420.1" r="4.65"/>
<circle cx="229.6" cy="419.3" r="4.65"/>
<circle cx="269.2" cy="425.3" r="4.65"/>
<circle cx="270.4" cy="424.7" r="4.65"/>
<circle cx="240.0" cy="508.9" r="4.65"/>
<circle cx="241.0" cy="507.5" r="4.65"/>
<circle cx="243.1" cy="410.3" r="4.65"/>
<circle cx="242.3" cy="412.4" r="4.65"/>
<circle cx="175.4" cy="430.9" r="4.65"/>
<circle cx="173.8" cy="430.7" r="4.65"/>
<circle cx="215.9" cy="417.1" r="4.65"/>
<circle cx="215.6" cy="418.7" r="4.65"/>
<circle cx="239.3" cy="471.0" r="4.65"/>
<circle cx="239.5" cy="471.5" r="4.65"/>
<circle cx="242.7" cy="484.9" r="4.65"/>
<circle cx="244.2" cy="487.1" r="4.65"/>
<circle cx="223.2" cy="436.4" r="4.65"/>
<circle cx="223.6" cy="438.2" r="4.65"/>
<circle cx="254.4" cy="376.7" r="4.65"/>
<circle cx="253.3" cy="376.8" r="4.65"/>
<circle cx="214.1" cy="389.6" r="4.65"/>
<circle cx="212.6" cy="389.3" r="4.65"/>
<circle cx="196.5" cy="449.0" r="4.65"/>
<circle cx="196.8" cy="448.5" r="4.65"/>
<circle cx="254.2" cy="384.4" r="4.65"/>
<circle cx="256.3" cy="384.9" r="4.65"/>
<circle cx="201.1" cy="364.6" r="4.65"/>
<circle cx="199.5" cy="364.3" r="4.65"/>
<circle cx="214.6" cy="366.3" r="4.65"/>
<circle cx="214.9" cy="364.5" r="4.65"/>
<circle cx="245.5" cy="447.5" r="4.65"/>
<circle cx="244.6" cy="447.9" r="4.65"/>
<circle cx="214.0" cy="470.9" r="4.65"/>
<circle cx="212.5" cy="471.7" r="4.65"/>
<circle cx="258.1" cy="426.7" r="4.65"/>
<circle cx="257.5" cy="425.2" r="4.65"/>
<circle cx="251.2" cy="362.8" r="4.65"/>
<circle cx="249.4" cy="364.9" r="4.65"/>
<circle cx="248.4" cy="444.0" r="4.65"/>
<circle cx="248.9" cy="445.7" r="4.65"/>
<circle cx="255.1" cy="452.3" r="4.65"/>
<circle cx="255.2" cy="452.1" r="4.65"/>
<circle cx="251.0" cy="433.4" r="4.65"/>
<circle cx="252.0" cy="433.1" r="4.65"/>
<circle cx="228.7" cy="491.1" r="4.65"/>
<circle cx="227.3" cy="490.7" r="4.65"/>
<circle cx="233.7" cy="411.6" r="4.65"/>
<circle cx="235.0" cy="412.6" r="4.65"/>
<circle cx="203.4" cy="420.4" r="4.65"/>
<circle cx="203.4" cy="421.9" r="4.65"/>
<circle cx="197.8" cy="444.2" r="4.65"/>
<circle cx="197.5" cy="444.3" r="4.65"/>
<circle cx="233.1" cy="442.8" r="4.65"/>
<circle cx="232.1" cy="444.8" r="4.65"/>
<circle cx="252.8" cy="423.4" r="4.65"/>
<circle cx="253.5" cy="424.0" r="4.65"/>
<circle cx="248.1" cy="476.1" r="4.65"/>
<circle cx="246.6" cy="477.6" r="4.65"/>
<circle cx="264.0" cy="444.6" r="4.65"/>
<circle cx="265.7" cy="444.8" r="4.65"/>
<circle cx="229.2" cy="378.8" r="4.65"/>
<circle cx="227.7" cy="379.4" r="4.65"/>
<circle cx="249.0" cy="426.6" r="4.65"/>
<circle cx="248.6" cy="427.2" r="4.65"/>
<circle cx="228.0" cy="355.7" r="4.65"/>
<circle cx="229.1" cy="356.1" r="4.65"/>
<circle cx="212.5" cy="352.5" r="4.65"/>
<circle cx="212.8" cy="352.9" r="4.65"/>
<circle cx="243.1" cy="424.9" r="4.65"/>
<circle cx="244.0" cy="425.0" r="4.65"/>
<circle cx="245.7" cy="456.3" r="4.65"/>
<circle cx="246.8" cy="454.3" r="4.65"/>
<circle cx="233.0" cy="424.7" r="4.65"/>
<circle cx="231.3" cy="425.3" r="4.65"/>
<circle cx="272.0" cy="435.4" r="4.65"/>
<circle cx="270.7" cy="436.7" r="4.65"/>
<circle cx="221.9" cy="358.2" r="4.65"/>
<circle cx="222.5" cy="356.6" r="4.65"/>
<circle cx="256.3" cy="461.3" r="4.65"/>
<circle cx="255.1" cy="459.1" r="4.65"/>
<circle cx="263.9" cy="426.3" r="4.65"/>
<circle cx="263.4" cy="428.4" r="4.65"/>
<circle cx="229.5" cy="397.3" r="4.65"/>
<circle cx="228.9" cy="398.2" r="4.65"/>
<circle cx="239.6" cy="431.8" r="4.65"/>
<circle cx="240.3" cy="433.4" r="4.65"/>
<circle cx="219.8" cy="366.9" r="4.65"/>
<circle cx="217.8" cy="366.6" r="4.65"/>
<circle cx="247.7" cy="357.9" r="4.65"/>
<circle cx="246.4" cy="357.6" r="4.65"/>
<circle cx="226.1" cy="377.4" r="4.65"/>
<circle cx="224.5" cy="377.8" r="4.65"/>
<circle cx="244.2" cy="501.1" r="4.65"/>
<circle cx="246.3" cy="503.2" r="4.65"/>
<circle cx="236.5" cy="378.8" r="4.65"/>
<circle cx="236.9" cy="377.0" r="4.65"/>
<circle cx="225.9" cy="484.9" r="4.65"/>
<circle cx="224.1" cy="485.3" r="4.65"/>
<circle cx="221.2" cy="373.8" r="4.65"/>
<circle cx="222.9" cy="376.0" r="4.65"/>
<circle cx="235.9" cy="391.0" r="4.65"/>
<circle cx="234.9" cy="389.5" r="4.65"/>
<circle cx="215.5" cy="386.6" r="4.65"/>
<circle cx="215.0" cy="387.6" r="4.65"/>
<circle cx="242.4" cy="491.3" r="4.65"/>
<circle cx="240.8" cy="490.4" r="4.65"/>
<circle cx="219.3" cy="386.3" r="4.65"/>
<circle cx="217.4" cy="384.5" r="4.65"/>
<circle cx="196.3" cy="439.7" r="4.65"/>
<circle cx="196.1" cy="441.2" r="4.65"/>
<circle cx="244.1" cy="392.6" r="4.65"/>
<circle cx="243.2" cy="394.0" r="4.65"/>
<circle cx="213.3" cy="356.4" r="4.65"/>
<circle cx="215.0" cy="358.5" r="4.65"/>
<circle cx="204.1" cy="456.8" r="4.65"/>
<circle cx="206.2" cy="455.6" r="4.65"/>
<circle cx="241.2" cy="502.9" r="4.65"/>
<circle cx="240.1" cy="505.1" r="4.65"/>
<circle cx="245.6" cy="427.5" r="4.65"/>
<circle cx="245.8" cy="428.6" r="4.65"/>
<circle cx="250.3" cy="496.2" r="4.65"/>
<circle cx="251.3" cy="497.8" r="4.65"/>
<circle cx="262.6" cy="449.4" r="4.65"/>
<circle cx="263.7" cy="451.4" r="4.65"/>
<circle cx="229.1" cy="360.3" r="4.65"/>
<circle cx="229.8" cy="359.2" r="4.65"/>
<circle cx="231.4" cy="466.9" r="4.65"/>
<circle cx="230.9" cy="467.6" r="4.65"/>
<circle cx="212.2" cy="380.8" r="4.65"/>
<circle cx="212.2" cy="380.9" r="4.65"/>
<circle cx="208.4" cy="356.1" r="4.65"/>
<circle cx="208.4" cy="354.3" r="4.65"/>
<circle cx="218.2" cy="466.9" r="4.65"/>
<circle cx="218.4" cy="466.9" r="4.65"/>
<circle cx="235.1" cy="381.5" r="4.65"/>
<circle cx="234.2" cy="383.2" r="4.65"/>
<circle cx="254.1" cy="478.1" r="4.65"/>
<circle cx="255.1" cy="477.4" r="4.65"/>
<circle cx="248.3" cy="423.8" r="4.65"/>
<circle cx="249.0" cy="422.1" r="4.65"/>
<circle cx="251.1" cy="466.5" r="4.65"/>
<circle cx="252.0" cy="465.1" r="4.65"/>
<circle cx="222.7" cy="381.8" r="4.65"/>
<circle cx="223.2" cy="382.5" r="4.65"/>
<circle cx="259.7" cy="494.9" r="4.65"/>
<circle cx="258.9" cy="495.0" r="4.65"/>
<circle cx="250.2" cy="378.2" r="4.65"/>
<circle cx="248.4" cy="379.7" r="4.65"/>
<circle cx="265.0" cy="423.6" r="4.65"/>
<circle cx="263.9" cy="424.3" r="4.65"/>
<circle cx="236.2" cy="500.8" r="4.65"/>
<circle cx="238.4" cy="499.0" r="4.65"/>
<circle cx="201.1" cy="376.2" r="4.65"/>
<circle cx="202.7" cy="375.9" r="4.65"/>
<circle cx="211.1" cy="379.0" r="4.65"/>
<circle cx="210.1" cy="379.6" r="4.65"/>
<circle cx="224.0" cy="367.6" r="4.65"/>
<circle cx="223.2" cy="367.9" r="4.65"/>
<circle cx="219.7" cy="421.8" r="4.65"/>
<circle cx="217.8" cy="420.6" r="4.65"/>
<circle cx="210.8" cy="408.8" r="4.65"/>
<circle cx="210.0" cy="410.9" r="4.65"/>
<circle cx="213.0" cy="378.4" r="4.65"/>
<circle cx="211.7" cy="377.6" r="4.65"/>
<circle cx="220.9" cy="357.4" r="4.65"/>
<circle cx="219.2" cy="358.0" r="4.65"/>
<circle cx="233.8" cy="457.1" r="4.65"/>
<circle cx="234.7" cy="456.7" r="4.65"/>
<circle cx="205.3" cy="450.0" r="4.65"/>
<circle cx="205.2" cy="448.6" r="4.65"/>
<circle cx="209.9" cy="437.8" r="4.65"/>
<circle cx="211.9" cy="437.4" r="4.65"/>
<circle cx="260.9" cy="416.1" r="4.65"/>
<circle cx="260.8" cy="416.1" r="4.65"/>
<circle cx="218.5" cy="436.8" r="4.65"/>
<circle cx="220.3" cy="438.0" r="4.65"/>
<circle cx="215.5" cy="410.8" r="4.65"/>
<circle cx="214.6" cy="410.9" r="4.65"/>
<circle cx="205.8" cy="398.2" r="4.65"/>
<circle cx="207.3" cy="396.9" r="4.65"/>
<circle cx="200.0" cy="360.3" r="4.65"/>
<circle cx="200.6" cy="361.3" r="4.65"/>
<circle cx="236.7" cy="511.9" r="4.65"/>
<circle cx="238.6" cy="510.4" r="4.65"/>
<circle cx="218.2" cy="406.9" r="4.65"/>
<circle cx="217.5" cy="408.2" r="4.65"/>
<circle cx="201.6" cy="441.9" r="4.65"/>
<circle cx="202.4" cy="441.9" r="4.65"/>
<circle cx="216.8" cy="398.8" r="4.65"/>
<circle cx="215.4" cy="398.0" r="4.65"/>
<circle cx="264.4" cy="448.6" r="4.65"/>
<circle cx="266.2" cy="446.9" r="4.65"/>
<circle cx="247.0" cy="424.8" r="4.65"/>
<circle cx="247.7" cy="424.3" r="4.65"/>
<circle cx="263.1" cy="438.1" r="4.65"/>
<circle cx="263.6" cy="439.4" r="4.65"/>
<circle cx="212.5" cy="400.7" r="4.65"/>
<circle cx="211.9" cy="402.1" r="4.65"/>
<circle cx="269.6" cy="445.0" r="4.65"/>
<circle cx="269.3" cy="443.8" r="4.65"/>
<circle cx="260.2" cy="480.7" r="4.65"/>
<circle cx="261.7" cy="480.4" r="4.65"/>
<circle cx="238.1" cy="355.9" r="4.65"/>
<circle cx="238.4" cy="354.9" r="4.65"/>
<circle cx="218.7" cy="434.1" r="4.65"/>
<circle cx="219.2" cy="435.6" r="4.65"/>
<circle cx="262.2" cy="506.5" r="4.65"/>
<circle cx="263.6" cy="508.1" r="4.65"/>
<circle cx="228.8" cy="400.5" r="4.65"/>
<circle cx="227.3" cy="400.0" r="4.65"/>
<circle cx="189.5" cy="442.6" r="4.65"/>
<circle cx="188.7" cy="444.0" r="4.65"/>
<circle cx="267.1" cy="435.5" r="4.65"/>
<circle cx="268.3" cy="435.5" r="4.65"/>
<circle cx="245.7" cy="447.3" r="4.65"/>
<circle cx="247.9" cy="448.7" r="4.65"/>
<circle cx="214.3" cy="470.0" r="4.65"/>
<circle cx="215.4" cy="468.3" r="4.65"/>
<circle cx="239.1" cy="405.1" r="4.65"/>
<circle cx="240.8" cy="406.4" r="4.65"/>
<circle cx="222.4" cy="354.0" r="4.65"/>
<circle cx="224.5" cy="353.5" r="4.65"/>
<circle cx="206.4" cy="382.2" r="4.65"/>
<circle cx="205.2" cy="383.0" r="4.65"/>
<circle cx="227.8" cy="405.7" r="4.65"/>
<circle cx="228.5" cy="403.8" r="4.65"/>
<circle cx="241.5" cy="464.2" r="4.65"/>
<circle cx="243.6" cy="466.2" r="4.65"/>
<circle cx="232.3" cy="405.5" r="4.65"/>
<circle cx="231.6" cy="404.1" r="4.65"/>
<circle cx="207.7" cy="407.1" r="4.65"/>
<circle cx="208.5" cy="407.7" r="4.65"/>
<circle cx="237.6" cy="371.6" r="4.65"/>
<circle cx="236.7" cy="371.9" r="4.65"/>
<circle cx="226.4" cy="450.1" r="4.65"/>
<circle cx="228.4" cy="449.9" r="4.65"/>
<circle cx="223.5" cy="411.7" r="4.65"/>
<circle cx="222.9" cy="410.5" r="4.65"/>
<circle cx="189.4" cy="448.7" r="4.65"/>
<circle cx="188.6" cy="448.9" r="4.65"/>
<circle cx="247.0" cy="433.7" r="4.65"/>
<circle cx="249.1" cy="435.1" r="4.65"/>
<circle cx="207.8" cy="390.4" r="4.65"/>
<circle cx="209.1" cy="390.5" r="4.65"/>
<circle cx="232.5" cy="471.8" r="4.65"/>
<circle cx="231.1" cy="471.8" r="4.65"/>
<circle cx="200.0" cy="375.5" r="4.65"/>
<circle cx="201.7" cy="373.9" r="4.65"/>
<circle cx="269.0" cy="468.7" r="4.65"/>
<circle cx="268.6" cy="468.2" r="4.65"/>
<circle cx="210.7" cy="421.0" r="4.65"/>
<circle cx="211.6" cy="421.9" r="4.65"/>
<circle cx="241.1" cy="439.7" r="4.65"/>
<circle cx="243.0" cy="438.7" r="4.65"/>
<circle cx="254.0" cy="506.6" r="4.65"/>
<circle cx="253.0" cy="507.5" r="4.65"/>
<circle cx="218.2" cy="472.1" r="4.65"/>
<circle cx="217.8" cy="472.4" r="4.65"/>
<circle cx="238.8" cy="355.7" r="4.65"/>
<circle cx="240.6" cy="356.7" r="4.65"/>
<circle cx="211.4" cy="458.9" r="4.65"/>
<circle cx="211.6" cy="459.1" r="4.65"/>
<circle cx="261.8" cy="438.1" r="4.65"/>
<circle cx="262.6" cy="436.5" r="4.65"/>
<circle cx="240.3" cy="464.4" r="4.65"/>
<circle cx="240.1" cy="463.5" r="4.65"/>
<circle cx="236.5" cy="426.9" r="4.65"/>
<circle cx="238.2" cy="425.9" r="4.65"/>
<circle cx="263.7" cy="482.2" r="4.65"/>
<circle cx="265.2" cy="483.2" r="4.65"/>
<circle cx="240.2" cy="480.3" r="4.65"/>
<circle cx="238.6" cy="479.3" r="4.65"/>
<circle cx="263.8" cy="510.8" r="4.65"/>
<circle cx="265.8" cy="508.9" r="4.65"/>
<circle cx="175.2" cy="443.4" r="4.65"/>
<circle cx="175.7" cy="443.6" r="4.65"/>
<circle cx="274.0" cy="426.9" r="4.65"/>
<circle cx="273.3" cy="426.9" r="4.65"/>
<circle cx="226.8" cy="382.9" r="4.65"/>
<circle cx="227.9" cy="384.2" r="4.65"/>
<circle cx="204.0" cy="369.3" r="4.65"/>
<circle cx="202.8" cy="367.6" r="4.65"/>
<circle cx="233.4" cy="378.3" r="4.65"/>
<circle cx="233.6" cy="377.7" r="4.65"/>
<circle cx="186.7" cy="433.9" r="4.65"/>
<circle cx="185.1" cy="434.9" r="4.65"/>
<circle cx="228.7" cy="432.7" r="4.65"/>
<circle cx="228.5" cy="434.4" r="4.65"/>
<circle cx="213.6" cy="443.0" r="4.65"/>
<circle cx="211.9" cy="442.5" r="4.65"/>
<circle cx="236.3" cy="436.5" r="4.65"/>
<circle cx="238.1" cy="435.1" r="4.65"/>
<circle cx="242.3" cy="510.8" r="4.65"/>
<circle cx="241.1" cy="510.2" r="4.65"/>
<circle cx="239.2" cy="410.6" r="4.65"/>
<circle cx="237.2" cy="409.9" r="4.65"/>
<circle cx="228.9" cy="394.7" r="4.65"/>
<circle cx="230.4" cy="394.3" r="4.65"/>
<circle cx="194.9" cy="429.1" r="4.65"/>
<circle cx="193.6" cy="431.2" r="4.65"/>
<circle cx="247.1" cy="397.1" r="4.65"/>
<circle cx="247.8" cy="396.2" r="4.65"/>
<circle cx="252.5" cy="410.3" r="4.65"/>
<circle cx="254.6" cy="409.7" r="4.65"/>
<circle cx="189.0" cy="436.1" r="4.65"/>
<circle cx="188.6" cy="435.5" r="4.65"/>
<circle cx="249.7" cy="358.7" r="4.65"/>
<circle cx="249.0" cy="360.8" r="4.65"/>
<circle cx="221.1" cy="392.4" r="4.65"/>
<circle cx="220.2" cy="394.6" r="4.65"/>
<circle cx="219.0" cy="439.4" r="4.65"/>
<circle cx="219.2" cy="440.8" r="4.65"/>
<circle cx="257.8" cy="365.5" r="4.65"/>
<circle cx="256.7" cy="366.0" r="4.65"/>
<circle cx="243.0" cy="374.9" r="4.65"/>
<circle cx="242.1" cy="373.5" r="4.65"/>
<circle cx="247.6" cy="386.7" r="4.65"/>
<circle cx="246.4" cy="386.1" r="4.65"/>
<circle cx="254.1" cy="371.3" r="4.65"/>
<circle cx="252.8" cy="371.5" r="4.65"/>
<circle cx="257.6" cy="430.4" r="4.65"/>
<circle cx="257.9" cy="430.1" r="4.65"/>
<circle cx="234.3" cy="502.6" r="4.65"/>
<circle cx="235.1" cy="502.5" r="4.65"/>
<circle cx="202.5" cy="433.9" r="4.65"/>
<circle cx="200.6" cy="435.6" r="4.65"/>
<circle cx="245.5" cy="466.7" r="4.65"/>
<circle cx="247.3" cy="466.6" r="4.65"/>
<circle cx="215.9" cy="462.8" r="4.65"/>
<circle cx="217.0" cy="461.2" r="4.65"/>
<circle cx="235.5" cy="506.1" r="4.65"/>
<circle cx="235.9" cy="507.7" r="4.65"/>
<circle cx="242.5" cy="362.5" r="4.65"/>
<circle cx="241.9" cy="360.6" r="4.65"/>
<circle cx="229.7" cy="461.7" r="4.65"/>
<circle cx="229.5" cy="462.6" r="4.65"/>
<circle cx="208.5" cy="453.1" r="4.65"/>
<circle cx="209.4" cy="454.3" r="4.65"/>
<circle cx="238.0" cy="504.4" r="4.65"/>
<circle cx="238.9" cy="503.0" r="4.65"/>
<circle cx="202.7" cy="461.1" r="4.65"/>
<circle cx="204.6" cy="459.5" r="4.65"/>
<circle cx="207.9" cy="425.6" r="4.65"/>
<circle cx="206.6" cy="424.4" r="4.65"/>
<circle cx="230.9" cy="440.4" r="4.65"/>
<circle cx="232.8" cy="439.6" r="4.65"/>
<circle cx="252.4" cy="503.8" r="4.65"/>
<circle cx="252.1" cy="504.6" r="4.65"/>
<circle cx="230.4" cy="351.0" r="4.65"/>
<circle cx="231.4" cy="351.7" r="4.65"/>
<circle cx="234.7" cy="447.1" r="4.65"/>
<circle cx="232.6" cy="449.1" r="4.65"/>
<circle cx="227.6" cy="375.0" r="4.65"/>
<circle cx="226.2" cy="374.5" r="4.65"/>
<circle cx="201.4" cy="449.7" r="4.65"/>
<circle cx="199.7" cy="448.9" r="4.65"/>
<circle cx="230.9" cy="412.1" r="4.65"/>
<circle cx="230.6" cy="413.7" r="4.65"/>
<circle cx="254.1" cy="513.0" r="4.65"/>
<circle cx="255.5" cy="512.1" r="4.65"/>
<circle cx="239.7" cy="379.7" r="4.65"/>
<circle cx="241.9" cy="377.7" r="4.65"/>
<circle cx="209.0" cy="436.6" r="4.65"/>
<circle cx="210.6" cy="435.4" r="4.65"/>
<circle cx="259.6" cy="470.4" r="4.65"/>
<circle cx="257.7" cy="469.1" r="4.65"/>
<circle cx="240.1" cy="448.1" r="4.65"/>
<circle cx="242.3" cy="450.2" r="4.65"/>
<circle cx="260.7" cy="464.0" r="4.65"/>
<circle cx="259.9" cy="462.8" r="4.65"/>
<circle cx="268.7" cy="474.6" r="4.65"/>
<circle cx="270.3" cy="475.8" r="4.65"/>
<circle cx="238.1" cy="461.1" r="4.65"/>
<circle cx="237.6" cy="462.4" r="4.65"/>
<circle cx="251.3" cy="437.8" r="4.65"/>
<circle cx="251.4" cy="436.6" r="4.65"/>
<circle cx="266.5" cy="428.7" r="4.65"/>
<circle cx="265.9" cy="427.1" r="4.65"/>
<circle cx="234.9" cy="493.7" r="4.65"/>
<circle cx="232.7" cy="492.8" r="4.65"/>
<circle cx="235.1" cy="368.5" r="4.65"/>
<circle cx="235.5" cy="369.8" r="4.65"/>
<circle cx="190.3" cy="451.2" r="4.65"/>
<circle cx="190.0" cy="450.7" r="4.65"/>
<circle cx="213.2" cy="412.8" r="4.65"/>
<circle cx="212.2" cy="410.7" r="4.65"/>
<circle cx="219.4" cy="383.3" r="4.65"/>
<circle cx="219.9" cy="382.9" r="4.65"/>
<circle cx="239.8" cy="362.0" r="4.65"/>
<circle cx="239.9" cy="362.1" r="4.65"/>
<circle cx="238.8" cy="411.4" r="4.65"/>
<circle cx="240.4" cy="409.4" r="4.65"/>
<circle cx="196.3" cy="459.2" r="4.65"/>
<circle cx="196.7" cy="457.5" r="4.65"/>
<circle cx="262.5" cy="439.2" r="4.65"/>
<circle cx="260.9" cy="439.7" r="4.65"/>
<circle cx="252.7" cy="415.0" r="4.65"/>
<circle cx="254.7" cy="417.1" r="4.65"/>
<circle cx="240.7" cy="414.7" r="4.65"/>
<circle cx="241.3" cy="415.5" r="4.65"/>
<circle cx="210.1" cy="371.2" r="4.65"/>
<circle cx="210.2" cy="369.6" r="4.65"/>
<circle cx="210.9" cy="457.0" r="4.65"/>
<circle cx="209.7" cy="457.0" r="4.65"/>
<circle cx="216.7" cy="422.3" r="4.65"/>
<circle cx="218.3" cy="423.8" r="4.65"/>
<circle cx="207.9" cy="420.1" r="4.65"/>
<circle cx="209.6" cy="418.7" r="4.65"/>
<circle cx="214.8" cy="441.0" r="4.65"/>
<circle cx="215.2" cy="443.0" r="4.65"/>
<circle cx="183.9" cy="437.4" r="4.65"/>
<circle cx="184.0" cy="436.8" r="4.65"/>
<circle cx="268.3" cy="500.5" r="4.65"/>
<circle cx="270.4" cy="501.4" r="4.65"/>
<circle cx="231.7" cy="499.6" r="4.65"/>
<circle cx="230.6" cy="497.6" r="4.65"/>
<circle cx="207.8" cy="449.9" r="4.65"/>
<circle cx="209.2" cy="449.6" r="4.65"/>
<circle cx="224.5" cy="418.1" r="4.65"/>
<circle cx="225.1" cy="418.5" r="4.65"/>
<circle cx="220.2" cy="374.6" r="4.65"/>
<circle cx="220.5" cy="373.0" r="4.65"/>
<circle cx="264.2" cy="490.0" r="4.65"/>
<circle cx="264.0" cy="490.7" r="4.65"/>
<circle cx="251.7" cy="494.6" r="4.65"/>
<circle cx="252.6" cy="492.7" r="4.65"/>
<circle cx="205.1" cy="426.2" r="4.65"/>
<circle cx="203.9" cy="424.4" r="4.65"/>
<circle cx="260.6" cy="413.8" r="4.65"/>
<circle cx="259.7" cy="413.3" r="4.65"/>
<circle cx="252.9" cy="364.8" r="4.65"/>
<circle cx="254.0" cy="365.4" r="4.65"/>
<circle cx="250.4" cy="372.1" r="4.65"/>
<circle cx="249.1" cy="373.2" r="4.65"/>
<circle cx="214.6" cy="355.7" r="4.65"/>
<circle cx="212.8" cy="356.5" r="4.65"/>
<circle cx="262.2" cy="499.8" r="4.65"/>
<circle cx="260.5" cy="501.3" r="4.65"/>
<circle cx="225.7" cy="487.2" r="4.65"/>
<circle cx="227.0" cy="486.9" r="4.65"/>
<circle cx="255.8" cy="461.2" r="4.65"/>
<circle cx="255.4" cy="462.6" r="4.65"/>
<circle cx="211.4" cy="390.6" r="4.65"/>
<circle cx="212.2" cy="391.9" r="4.65"/>
<circle cx="177.6" cy="428.7" r="4.65"/>
<circle cx="176.4" cy="430.1" r="4.65"/>
<circle cx="258.1" cy="357.2" r="4.65"/>
<circle cx="259.3" cy="358.3" r="4.65"/>
<circle cx="242.1" cy="397.6" r="4.65"/>
<circle cx="243.4" cy="397.5" r="4.65"/>
<circle cx="234.6" cy="409.5" r="4.65"/>
<circle cx="233.5" cy="410.2" r="4.65"/>
<circle cx="260.9" cy="410.3" r="4.65"/>
<circle cx="259.8" cy="409.5" r="4.65"/>
<circle cx="204.1" cy="418.9" r="4.65"/>
<circle cx="204.5" cy="419.4" r="4.65"/>
<circle cx="215.3" cy="392.9" r="4.65"/>
<circle cx="215.3" cy="391.5" r="4.65"/>
<circle cx="254.5" cy="404.7" r="4.65"/>
<circle cx="254.7" cy="403.4" r="4.65"/>
<circle cx="246.0" cy="374.1" r="4.65"/>
<circle cx="245.1" cy="374.3" r="4.65"/>
<circle cx="225.7" cy="403.3" r="4.65"/>
<circle cx="226.4" cy="404.7" r="4.65"/>
<circle cx="249.8" cy="409.9" r="4.65"/>
<circle cx="249.2" cy="410.2" r="4.65"/>
<circle cx="241.5" cy="443.4" r="4.65"/>
<circle cx="242.5" cy="442.5" r="4.65"/>
<circle cx="245.7" cy="510.0" r="4.65"/>
<circle cx="244.0" cy="510.6" r="4.65"/>
<circle cx="257.1" cy="382.7" r="4.65"/>
<circle cx="255.5" cy="380.9" r="4.65"/>
<circle cx="222.7" cy="407.8" r="4.65"/>
<circle cx="222.5" cy="406.8" r="4.65"/>
<circle cx="241.6" cy="416.2" r="4.65"/>
<circle cx="243.1" cy="418.1" r="4.65"/>
<circle cx="254.1" cy="371.0" r="4.65"/>
<circle cx="255.8" cy="372.9" r="4.65"/>
<circle cx="200.1" cy="439.6" r="4.65"/>
<circle cx="200.5" cy="438.7" r="4.65"/>
<circle cx="180.3" cy="434.9" r="4.65"/>
<circle cx="178.7" cy="436.6" r="4.65"/>
<circle cx="233.9" cy="396.1" r="4.65"/>
<circle cx="235.7" cy="395.7" r="4.65"/>
<circle cx="268.5" cy="482.4" r="4.65"/>
<circle cx="268.3" cy="481.8" r="4.65"/>
<circle cx="233.6" cy="435.0" r="4.65"/>
<circle cx="232.3" cy="434.2" r="4.65"/>
<circle cx="242.8" cy="386.0" r="4.65"/>
<circle cx="243.0" cy="385.6" r="4.65"/>
<circle cx="236.2" cy="475.4" r="4.65"/>
<circle cx="237.1" cy="477.0" r="4.65"/>
<circle cx="246.1" cy="375.4" r="4.65"/>
<circle cx="247.4" cy="377.1" r="4.65"/>
<circle cx="214.4" cy="467.4" r="4.65"/>
<circle cx="214.5" cy="465.8" r="4.65"/>
<circle cx="231.2" cy="501.7" r="4.65"/>
<circle cx="231.6" cy="503.2" r="4.65"/>
<circle cx="229.8" cy="427.4" r="4.65"/>
<circle cx="228.8" cy="427.5" r="4.65"/>
<circle cx="256.5" cy="450.6" r="4.65"/>
<circle cx="257.3" cy="448.8" r="4.65"/>
<circle cx="260.6" cy="446.9" r="4.65"/>
<circle cx="258.9" cy="446.2" r="4.65"/>
<circle cx="219.3" cy="416.2" r="4.65"/>
<circle cx="221.0" cy="417.9" r="4.65"/>
<circle cx="229.2" cy="454.4" r="4.65"/>
<circle cx="228.5" cy="452.4" r="4.65"/>
<circle cx="210.1" cy="404.2" r="4.65"/>
<circle cx="209.4" cy="405.6" r="4.65"/>
<circle cx="267.7" cy="430.0" r="4.65"/>
<circle cx="267.2" cy="431.0" r="4.65"/>
<circle cx="236.9" cy="473.4" r="4.65"/>
<circle cx="237.3" cy="471.4" r="4.65"/>
<circle cx="219.0" cy="459.7" r="4.65"/>
<circle cx="219.1" cy="459.7" r="4.65"/>
<circle cx="256.4" cy="473.0" r="4.65"/>
<circle cx="257.6" cy="474.7" r="4.65"/>
<circle cx="231.5" cy="398.8" r="4.65"/>
<circle cx="232.0" cy="398.1" r="4.65"/>
<circle cx="253.1" cy="511.6" r="4.65"/>
<circle cx="251.7" cy="513.4" r="4.65"/>
<circle cx="213.1" cy="480.1" r="4.65"/>
<circle cx="213.9" cy="478.1" r="4.65"/>
<circle cx="260.7" cy="489.4" r="4.65"/>
<circle cx="260.5" cy="491.5" r="4.65"/>
<circle cx="222.0" cy="462.8" r="4.65"/>
<circle cx="222.9" cy="463.0" r="4.65"/>
<circle cx="249.5" cy="459.2" r="4.65"/>
<circle cx="251.1" cy="460.6" r="4.65"/>
<circle cx="266.7" cy="476.8" r="4.65"/>
<circle cx="264.5" cy="476.9" r="4.65"/>
<circle cx="249.3" cy="490.4" r="4.65"/>
<circle cx="249.3" cy="489.6" r="4.65"/>
<circle cx="210.5" cy="446.7" r="4.65"/>
<circle cx="209.0" cy="444.6" r="4.65"/>
<circle cx="200.0" cy="461.2" r="4.65"/>
<circle cx="198.5" cy="461.3" r="4.65"/>
<circle cx="242.4" cy="386.8" r="4.65"/>
<circle cx="243.6" cy="387.9" r="4.65"/>
<circle cx="248.6" cy="477.2" r="4.65"/>
<circle cx="249.6" cy="475.2" r="4.65"/>
<circle cx="240.2" cy="444.3" r="4.65"/>
<circle cx="238.9" cy="443.2" r="4.65"/>
<circle cx="214.9" cy="434.9" r="4.65"/>
<circle cx="215.1" cy="436.0" r="4.65"/>
<circle cx="230.4" cy="388.9" r="4.65"/>
<circle cx="228.7" cy="387.1" r="4.65"/>
<circle cx="217.0" cy="400.9" r="4.65"/>
<circle cx="217.6" cy="399.3" r="4.65"/>
<circle cx="221.4" cy="472.4" r="4.65"/>
<circle cx="223.0" cy="471.8" r="4.65"/>
<circle cx="246.5" cy="472.2" r="4.65"/>
<circle cx="245.0" cy="471.4" r="4.65"/>
<circle cx="215.8" cy="422.1" r="4.65"/>
<circle cx="215.9" cy="423.1" r="4.65"/>
<circle cx="209.3" cy="422.0" r="4.65"/>
<circle cx="209.5" cy="423.5" r="4.65"/>
<circle cx="266.5" cy="506.0" r="4.65"/>
<circle cx="266.2" cy="505.0" r="4.65"/>
<circle cx="220.0" cy="362.4" r="4.65"/>
<circle cx="220.8" cy="363.2" r="4.65"/>
<circle cx="262.2" cy="498.1" r="4.65"/>
<circle cx="263.1" cy="497.1" r="4.65"/>
<circle cx="235.2" cy="405.7" r="4.65"/>
<circle cx="237.4" cy="405.0" r="4.65"/>
<circle cx="227.7" cy="390.9" r="4.65"/>
<circle cx="229.4" cy="391.7" r="4.65"/>
<circle cx="219.8" cy="376.1" r="4.65"/>
<circle cx="219.2" cy="378.1" r="4.65"/>
<circle cx="251.1" cy="480.9" r="4.65"/>
<circle cx="252.7" cy="482.5" r="4.65"/>
<circle cx="192.2" cy="427.9" r="4.65"/>
<circle cx="190.1" cy="428.4" r="4.65"/>
<circle cx="224.0" cy="435.8" r="4.65"/>
<circle cx="226.1" cy="435.9" r="4.65"/>
<circle cx="228.8" cy="444.2" r="4.65"/>
<circle cx="228.9" cy="446.0" r="4.65"/>
<circle cx="207.9" cy="441.2" r="4.65"/>
<circle cx="207.6" cy="442.5" r="4.65"/>
<circle cx="264.8" cy="462.4" r="4.65"/>
<circle cx="266.9" cy="461.7" r="4.65"/>
<circle cx="253.0" cy="383.7" r="4.65"/>
<circle cx="251.9" cy="383.2" r="4.65"/>
<circle cx="210.8" cy="416.0" r="4.65"/>
<circle cx="212.6" cy="414.5" r="4.65"/>
<circle cx="206.1" cy="412.1" r="4.65"/>
<circle cx="205.6" cy="412.9" r="4.65"/>
<circle cx="208.2" cy="388.3" r="4.65"/>
<circle cx="207.1" cy="389.1" r="4.65"/>
<circle cx="262.9" cy="465.8" r="4.65"/>
<circle cx="261.8" cy="467.3" r="4.65"/>
<circle cx="255.3" cy="356.2" r="4.65"/>
<circle cx="255.3" cy="356.7" r="4.65"/>
<circle cx="270.5" cy="475.1" r="4.65"/>
<circle cx="268.4" cy="473.9" r="4.65"/>
<circle cx="226.7" cy="457.5" r="4.65"/>
<circle cx="227.2" cy="458.4" r="4.65"/>
<circle cx="193.1" cy="454.2" r="4.65"/>
<circle cx="192.7" cy="454.0" r="4.65"/>
<circle cx="247.0" cy="493.8" r="4.65"/>
<circle cx="248.0" cy="495.0" r="4.65"/>
<circle cx="244.2" cy="455.4" r="4.65"/>
<circle cx="243.0" cy="455.9" r="4.65"/>
<circle cx="270.6" cy="465.2" r="4.65"/>
<circle cx="269.9" cy="463.0" r="4.65"/>
<circle cx="206.2" cy="382.7" r="4.65"/>
<circle cx="207.9" cy="383.0" r="4.65"/>
<circle cx="243.6" cy="415.7" r="4.65"/>
<circle cx="243.7" cy="415.8" r="4.65"/>
<circle cx="220.5" cy="465.1" r="4.65"/>
<circle cx="221.1" cy="466.3" r="4.65"/>
<circle cx="213.1" cy="430.0" r="4.65"/>
<circle cx="212.8" cy="430.1" r="4.65"/>
<circle cx="263.6" cy="497.1" r="4.65"/>
<circle cx="261.5" cy="499.1" r="4.65"/>
<circle cx="256.9" cy="453.3" r="4.65"/>
<circle cx="257.4" cy="451.3" r="4.65"/>
<circle cx="172.4" cy="440.5" r="4.65"/>
<circle cx="171.1" cy="438.5" r="4.65"/>
<circle cx="251.4" cy="427.8" r="4.65"/>
<circle cx="251.4" cy="429.7" r="4.65"/>
<circle cx="234.3" cy="470.8" r="4.65"/>
<circle cx="235.0" cy="469.0" r="4.65"/>
<circle cx="207.6" cy="394.0" r="4.65"/>
<circle cx="205.5" cy="391.9" r="4.65"/>
<circle cx="202.5" cy="466.0" r="4.65"/>
<circle cx="202.8" cy="464.9" r="4.65"/>
<circle cx="213.0" cy="405.5" r="4.65"/>
<circle cx="214.3" cy="407.7" r="4.65"/>
<circle cx="234.1" cy="367.0" r="4.65"/>
<circle cx="235.8" cy="367.1" r="4.65"/>
<circle cx="209.1" cy="365.9" r="4.65"/>
<circle cx="210.4" cy="367.0" r="4.65"/>
<circle cx="235.6" cy="372.6" r="4.65"/>
<circle cx="233.7" cy="374.5" r="4.65"/>
<circle cx="226.3" cy="481.9" r="4.65"/>
<circle cx="227.2" cy="482.7" r="4.65"/>
<circle cx="232.7" cy="470.0" r="4.65"/>
<circle cx="231.7" cy="469.7" r="4.65"/>
<circle cx="214.3" cy="394.2" r="4.65"/>
<circle cx="215.0" cy="394.8" r="4.65"/>
<circle cx="262.5" cy="460.1" r="4.65"/>
<circle cx="260.9" cy="460.2" r="4.65"/>
<circle cx="244.3" cy="501.1" r="4.65"/>
<circle cx="242.5" cy="502.9" r="4.65"/>
<circle cx="200.0" cy="459.0" r="4.65"/>
<circle cx="200.8" cy="457.5" r="4.65"/>
<circle cx="238.8" cy="385.3" r="4.65"/>
<circle cx="239.2" cy="385.5" r="4.65"/>
<circle cx="190.8" cy="446.2" r="4.65"/>
<circle cx="192.1" cy="444.4" r="4.65"/>
<circle cx="214.6" cy="402.1" r="4.65"/>
<circle cx="216.0" cy="403.8" r="4.65"/>
<circle cx="231.4" cy="405.8" r="4.65"/>
<circle cx="233.1" cy="406.3" r="4.65"/>
<circle cx="270.5" cy="479.4" r="4.65"/>
<circle cx="269.3" cy="479.6" r="4.65"/>
<circle cx="232.7" cy="481.4" r="4.65"/>
<circle cx="231.2" cy="481.5" r="4.65"/>
<circle cx="215.8" cy="470.8" r="4.65"/>
<circle cx="214.9" cy="471.5" r="4.65"/>
<circle cx="256.2" cy="440.6" r="4.65"/>
<circle cx="254.0" cy="439.5" r="4.65"/>
<circle cx="254.0" cy="508.3" r="4.65"/>
<circle cx="253.8" cy="510.3" r="4.65"/>
<circle cx="224.2" cy="467.1" r="4.65"/>
<circle cx="224.5" cy="464.9" r="4.65"/>
<circle cx="174.6" cy="435.8" r="4.65"/>
<circle cx="174.7" cy="436.8" r="4.65"/>
<circle cx="206.5" cy="399.6" r="4.65"/>
<circle cx="206.7" cy="401.6" r="4.65"/>
<circle cx="237.2" cy="358.6" r="4.65"/>
<circle cx="235.3" cy="357.9" r="4.65"/>
<circle cx="261.0" cy="448.7" r="4.65"/>
<circle cx="261.0" cy="447.9" r="4.65"/>
<circle cx="204.1" cy="470.1" r="4.65"/>
<circle cx="205.5" cy="468.5" r="4.65"/>
<circle cx="205.7" cy="436.5" r="4.65"/>
<circle cx="206.5" cy="436.1" r="4.65"/>
<circle cx="221.7" cy="422.9" r="4.65"/>
<circle cx="221.5" cy="422.0" r="4.65"/>
<circle cx="208.5" cy="434.3" r="4.65"/>
<circle cx="207.2" cy="433.9" r="4.65"/>
<circle cx="250.2" cy="402.3" r="4.65"/>
<circle cx="251.2" cy="403.0" r="4.65"/>
<circle cx="254.6" cy="517.8" r="4.65"/>
<circle cx="255.6" cy="516.4" r="4.65"/>
<circle cx="218.2" cy="429.0" r="4.65"/>
<circle cx="217.1" cy="428.2" r="4.65"/>
<circle cx="236.2" cy="436.1" r="4.65"/>
<circle cx="235.0" cy="438.3" r="4.65"/>
<circle cx="204.3" cy="371.7" r="4.65"/>
<circle cx="205.4" cy="371.9" r="4.65"/>
<circle cx="247.8" cy="417.4" r="4.65"/>
<circle cx="249.4" cy="417.0" r="4.65"/>
<circle cx="316.5" cy="381.5" r="4.65"/>
<circle cx="314.8" cy="381.2" r="4.65"/>
<circle cx="275.8" cy="369.4" r="4.65"/>
<circle cx="276.4" cy="368.5" r="4.65"/>
<circle cx="306.4" cy="366.3" r="4.65"/>
<circle cx="304.5" cy="366.4" r="4.65"/>
<circle cx="277.1" cy="363.4" r="4.65"/>
<circle cx="277.8" cy="364.5" r="4.65"/>
<circle cx="318.4" cy="375.2" r="4.65"/>
<circle cx="317.5" cy="374.9" r="4.65"/>
<circle cx="276.8" cy="374.3" r="4.65"/>
<circle cx="275.9" cy="372.9" r="4.65"/>
<circle cx="293.8" cy="370.6" r="4.65"/>
<circle cx="295.9" cy="369.3" r="4.65"/>
<circle cx="302.0" cy="370.1" r="4.65"/>
<circle cx="300.7" cy="371.0" r="4.65"/>
<circle cx="305.2" cy="381.1" r="4.65"/>
<circle cx="303.4" cy="382.6" r="4.65"/>
<circle cx="280.4" cy="373.0" r="4.65"/>
<circle cx="279.2" cy="374.3" r="4.65"/>
<circle cx="288.3" cy="384.9" r="4.65"/>
<circle cx="290.1" cy="387.1" r="4.65"/>
<circle cx="293.9" cy="361.1" r="4.65"/>
<circle cx="292.1" cy="362.6" r="4.65"/>
<circle cx="312.0" cy="367.0" r="4.65"/>
<circle cx="311.5" cy="367.8" r="4.65"/>
<circle cx="292.6" cy="367.8" r="4.65"/>
<circle cx="291.5" cy="369.9" r="4.65"/>
<circle cx="293.2" cy="373.2" r="4.65"/>
<circle cx="292.0" cy="373.8" r="4.65"/>
<circle cx="297.6" cy="372.8" r="4.65"/>
<circle cx="296.2" cy="373.1" r="4.65"/>
<circle cx="310.4" cy="375.9" r="4.65"/>
<circle cx="308.7" cy="378.0" r="4.65"/>
<circle cx="280.1" cy="380.6" r="4.65"/>
<circle cx="282.0" cy="380.0" r="4.65"/>
<circle cx="282.9" cy="369.7" r="4.65"/>
<circle cx="284.8" cy="368.9" r="4.65"/>
<circle cx="298.3" cy="381.1" r="4.65"/>
<circle cx="299.1" cy="382.1" r="4.65"/>
<circle cx="297.8" cy="368.6" r="4.65"/>
<circle cx="297.7" cy="367.5" r="4.65"/>
<circle cx="282.2" cy="372.1" r="4.65"/>
<circle cx="282.9" cy="370.4" r="4.65"/>
<circle cx="302.7" cy="369.7" r="4.65"/>
<circle cx="304.1" cy="368.6" r="4.65"/>
<circle cx="305.1" cy="378.0" r="4.65"/>
<circle cx="306.3" cy="376.3" r="4.65"/>
<circle cx="283.6" cy="386.7" r="4.65"/>
<circle cx="285.6" cy="385.2" r="4.65"/>
<circle cx="269.6" cy="379.9" r="4.65"/>
<circle cx="271.3" cy="380.3" r="4.65"/>
<circle cx="311.6" cy="381.4" r="4.65"/>
<circle cx="312.3" cy="380.3" r="4.65"/>
<circle cx="298.6" cy="376.7" r="4.65"/>
<circle cx="296.7" cy="376.4" r="4.65"/>
<circle cx="306.2" cy="368.6" r="4.65"/>
<circle cx="307.1" cy="369.6" r="4.65"/>
<circle cx="276.3" cy="374.9" r="4.65"/>
<circle cx="276.0" cy="376.6" r="4.65"/>
<circle cx="276.8" cy="361.7" r="4.65"/>
<circle cx="278.3" cy="360.8" r="4.65"/>
<circle cx="304.8" cy="383.6" r="4.65"/>
<circle cx="303.8" cy="385.0" r="4.65"/>
<circle cx="268.3" cy="378.5" r="4.65"/>
<circle cx="268.0" cy="379.9" r="4.65"/>
<circle cx="275.7" cy="381.1" r="4.65"/>
<circle cx="274.3" cy="381.0" r="4.65"/>
<circle cx="310.3" cy="383.4" r="4.65"/>
<circle cx="309.7" cy="382.7" r="4.65"/>
<circle cx="275.3" cy="361.2" r="4.65"/>
<circle cx="275.8" cy="361.8" r="4.65"/>
<circle cx="287.8" cy="373.7" r="4.65"/>
<circle cx="287.1" cy="371.5" r="4.65"/>
<circle cx="315.2" cy="368.6" r="4.65"/>
<circle cx="314.6" cy="369.8" r="4.65"/>
<circle cx="741.7" cy="60.9" r="4.65"/>
<circle cx="740.4" cy="59.8" r="4.65"/>
<circle cx="771.6" cy="43.6" r="4.65"/>
<circle cx="772.6" cy="43.5" r="4.65"/>
<circle cx="745.7" cy="66.2" r="4.65"/>
<circle cx="743.9" cy="67.7" r="4.65"/>
<circle cx="763.6" cy="26.0" r="4.65"/>
<circle cx="763.7" cy="24.6" r="4.65"/>
<circle cx="768.6" cy="12.0" r="4.65"/>
<circle cx="769.2" cy="11.7" r="4.65"/>
<circle cx="763.8" cy="15.5" r="4.65"/>
<circle cx="763.2" cy="15.3" r="4.65"/>
<circle cx="740.2" cy="69.0" r="4.65"/>
<circle cx="739.7" cy="69.7" r="4.65"/>
<circle cx="760.4" cy="47.5" r="4.65"/>
<circle cx="760.1" cy="49.1" r="4.65"/>
<circle cx="781.1" cy="66.3" r="4.65"/>
<circle cx="780.8" cy="65.4" r="4.65"/>
<circle cx="770.5" cy="61.8" r="4.65"/>
<circle cx="768.9" cy="62.9" r="4.65"/>
<circle cx="755.7" cy="34.3" r="4.65"/>
<circle cx="757.2" cy="34.6" r="4.65"/>
<circle cx="758.9" cy="37.9" r="4.65"/>
<circle cx="760.0" cy="36.2" r="4.65"/>
<circle cx="761.8" cy="45.3" r="4.65"/>
<circle cx="763.1" cy="44.4" r="4.65"/>
<circle cx="764.8" cy="64.3" r="4.65"/>
<circle cx="766.8" cy="64.3" r="4.65"/>
<circle cx="743.7" cy="54.1" r="4.65"/>
<circle cx="744.3" cy="53.5" r="4.65"/>
<circle cx="767.0" cy="55.0" r="4.65"/>
<circle cx="767.2" cy="54.6" r="4.65"/>
<circle cx="753.2" cy="78.8" r="4.65"/>
<circle cx="753.0" cy="78.2" r="4.65"/>
<circle cx="753.9" cy="51.6" r="4.65"/>
<circle cx="752.8" cy="52.6" r="4.65"/>
<circle cx="774.1" cy="60.2" r="4.65"/>
<circle cx="775.9" cy="58.7" r="4.65"/>
<circle cx="754.0" cy="27.7" r="4.65"/>
<circle cx="754.8" cy="25.5" r="4.65"/>
<circle cx="758.1" cy="21.2" r="4.65"/>
<circle cx="757.8" cy="19.6" r="4.65"/>
<circle cx="765.2" cy="65.0" r="4.65"/>
<circle cx="765.1" cy="62.8" r="4.65"/>
<circle cx="788.5" cy="66.8" r="4.65"/>
<circle cx="786.6" cy="67.9" r="4.65"/>
<circle cx="758.3" cy="50.6" r="4.65"/>
<circle cx="758.3" cy="51.4" r="4.65"/>
<circle cx="765.5" cy="27.6" r="4.65"/>
<circle cx="765.7" cy="27.7" r="4.65"/>
<circle cx="773.9" cy="72.8" r="4.65"/>
<circle cx="773.2" cy="72.3" r="4.65"/>
<circle cx="768.1" cy="26.8" r="4.65"/>
<circle cx="769.1" cy="26.3" r="4.65"/>
<circle cx="737.7" cy="72.5" r="4.65"/>
<circle cx="738.7" cy="73.5" r="4.65"/>
<circle cx="766.8" cy="32.0" r="4.65"/>
<circle cx="766.0" cy="31.5" r="4.65"/>
<circle cx="754.9" cy="63.0" r="4.65"/>
<circle cx="755.0" cy="61.3" r="4.65"/>
<circle cx="778.9" cy="72.1" r="4.65"/>
<circle cx="777.8" cy="74.0" r="4.65"/>
<circle cx="782.0" cy="68.2" r="4.65"/>
<circle cx="782.2" cy="67.6" r="4.65"/>
<circle cx="747.2" cy="61.3" r="4.65"/>
<circle cx="746.4" cy="60.3" r="4.65"/>
<circle cx="756.9" cy="29.1" r="4.65"/>
<circle cx="755.7" cy="30.3" r="4.65"/>
<circle cx="762.0" cy="47.5" r="4.65"/>
<circle cx="763.6" cy="48.9" r="4.65"/>
<circle cx="770.4" cy="46.1" r="4.65"/>
<circle cx="770.3" cy="45.7" r="4.65"/>
<circle cx="751.0" cy="60.2" r="4.65"/>
<circle cx="750.3" cy="60.5" r="4.65"/>
<circle cx="763.7" cy="34.6" r="4.65"/>
<circle cx="764.6" cy="36.5" r="4.65"/>
<circle cx="754.5" cy="25.6" r="4.65"/>
<circle cx="756.6" cy="23.8" r="4.65"/>
<circle cx="784.7" cy="61.6" r="4.65"/>
<circle cx="785.1" cy="62.4" r="4.65"/>
<circle cx="760.0" cy="23.9" r="4.65"/>
<circle cx="760.3" cy="24.7" r="4.65"/>
<circle cx="755.2" cy="44.6" r="4.65"/>
<circle cx="755.5" cy="44.1" r="4.65"/>
<circle cx="763.5" cy="60.1" r="4.65"/>
<circle cx="762.8" cy="61.9" r="4.65"/>
<circle cx="788.3" cy="66.0" r="4.65"/>
<circle cx="790.1" cy="66.7" r="4.65"/>
<circle cx="771.8" cy="64.8" r="4.65"/>
<circle cx="772.1" cy="65.1" r="4.65"/>
<circle cx="743.7" cy="77.4" r="4.65"/>
<circle cx="745.9" cy="77.3" r="4.65"/>
<circle cx="757.5" cy="55.0" r="4.65"/>
<circle cx="755.5" cy="54.0" r="4.65"/>
<circle cx="749.0" cy="30.5" r="4.65"/>
<circle cx="750.5" cy="30.5" r="4.65"/>
<circle cx="754.5" cy="18.7" r="4.65"/>
<circle cx="755.9" cy="17.6" r="4.65"/>
<circle cx="766.5" cy="12.2" r="4.65"/>
<circle cx="767.0" cy="12.5" r="4.65"/>
<circle cx="751.2" cy="55.1" r="4.65"/>
<circle cx="752.1" cy="56.0" r="4.65"/>
<circle cx="744.4" cy="73.4" r="4.65"/>
<circle cx="746.5" cy="71.8" r="4.65"/>
<circle cx="757.8" cy="53.8" r="4.65"/>
<circle cx="759.0" cy="54.1" r="4.65"/>
<circle cx="760.7" cy="74.0" r="4.65"/>
<circle cx="760.2" cy="75.6" r="4.65"/>
<circle cx="784.7" cy="71.1" r="4.65"/>
<circle cx="783.4" cy="70.0" r="4.65"/>
<circle cx="766.7" cy="23.2" r="4.65"/>
<circle cx="766.9" cy="23.8" r="4.65"/>
<circle cx="785.3" cy="52.0" r="4.65"/>
<circle cx="785.0" cy="53.3" r="4.65"/>
<circle cx="749.7" cy="55.6" r="4.65"/>
<circle cx="749.5" cy="54.9" r="4.65"/>
<circle cx="757.5" cy="59.5" r="4.65"/>
<circle cx="757.1" cy="59.9" r="4.65"/>
<circle cx="777.1" cy="47.9" r="4.65"/>
<circle cx="779.0" cy="47.0" r="4.65"/>
<circle cx="754.9" cy="46.5" r="4.65"/>
<circle cx="753.2" cy="47.6" r="4.65"/>
<circle cx="771.0" cy="21.9" r="4.65"/>
<circle cx="772.2" cy="19.8" r="4.65"/>
<circle cx="784.8" cy="76.1" r="4.65"/>
<circle cx="784.4" cy="76.5" r="4.65"/>
<circle cx="763.9" cy="77.9" r="4.65"/>
<circle cx="765.6" cy="76.7" r="4.65"/>
<circle cx="784.0" cy="62.7" r="4.65"/>
<circle cx="782.3" cy="63.7" r="4.65"/>
<circle cx="771.7" cy="25.1" r="4.65"/>
<circle cx="773.7" cy="25.9" r="4.65"/>
<circle cx="763.2" cy="27.4" r="4.65"/>
<circle cx="762.6" cy="26.9" r="4.65"/>
<circle cx="765.0" cy="43.4" r="4.65"/>
<circle cx="766.0" cy="41.9" r="4.65"/>
<circle cx="769.4" cy="68.4" r="4.65"/>
<circle cx="769.3" cy="68.5" r="4.65"/>
<circle cx="777.8" cy="61.4" r="4.65"/>
<circle cx="779.6" cy="63.0" r="4.65"/>
<circle cx="774.3" cy="51.5" r="4.65"/>
<circle cx="774.6" cy="51.4" r="4.65"/>
<circle cx="780.4" cy="68.8" r="4.65"/>
<circle cx="779.4" cy="69.3" r="4.65"/>
<circle cx="752.3" cy="69.0" r="4.65"/>
<circle cx="754.5" cy="70.4" r="4.65"/>
<circle cx="763.7" cy="41.5" r="4.65"/>
<circle cx="763.3" cy="42.1" r="4.65"/>
<circle cx="769.4" cy="61.5" r="4.65"/>
<circle cx="770.1" cy="60.0" r="4.65"/>
<circle cx="789.1" cy="66.7" r="4.65"/>
<circle cx="788.4" cy="64.5" r="4.65"/>
<circle cx="789.0" cy="74.1" r="4.65"/>
<circle cx="787.2" cy="75.3" r="4.65"/>
<circle cx="745.0" cy="58.6" r="4.65"/>
<circle cx="744.0" cy="59.5" r="4.65"/>
<circle cx="755.2" cy="22.9" r="4.65"/>
<circle cx="754.3" cy="21.3" r="4.65"/>
<circle cx="780.4" cy="52.2" r="4.65"/>
<circle cx="778.8" cy="52.4" r="4.65"/>
<circle cx="757.8" cy="44.8" r="4.65"/>
<circle cx="759.5" cy="45.1" r="4.65"/>
<circle cx="772.3" cy="53.4" r="4.65"/>
<circle cx="772.7" cy="55.6" r="4.65"/>
<circle cx="752.1" cy="32.8" r="4.65"/>
<circle cx="754.2" cy="33.2" r="4.65"/>
<circle cx="782.4" cy="55.2" r="4.65"/>
<circle cx="780.8" cy="55.6" r="4.65"/>
<circle cx="770.4" cy="49.7" r="4.65"/>
<circle cx="769.3" cy="51.5" r="4.65"/>
<circle cx="764.4" cy="13.3" r="4.65"/>
<circle cx="765.7" cy="15.3" r="4.65"/>
<circle cx="755.5" cy="66.9" r="4.65"/>
<circle cx="756.9" cy="65.3" r="4.65"/>
<circle cx="765.1" cy="56.9" r="4.65"/>
<circle cx="764.8" cy="57.7" r="4.65"/>
<circle cx="750.2" cy="76.1" r="4.65"/>
<circle cx="750.9" cy="77.1" r="4.65"/>
<circle cx="754.5" cy="67.3" r="4.65"/>
<circle cx="753.6" cy="67.1" r="4.65"/>
<circle cx="768.9" cy="22.4" r="4.65"/>
<circle cx="768.8" cy="20.5" r="4.65"/>
<circle cx="756.2" cy="69.1" r="4.65"/>
<circle cx="755.8" cy="68.4" r="4.65"/>
<circle cx="752.8" cy="75.5" r="4.65"/>
<circle cx="754.7" cy="73.4" r="4.65"/>
<circle cx="768.5" cy="35.5" r="4.65"/>
<circle cx="767.2" cy="34.5" r="4.65"/>
<circle cx="742.0" cy="79.1" r="4.65"/>
<circle cx="741.9" cy="77.1" r="4.65"/>
<circle cx="759.6" cy="21.8" r="4.65"/>
<circle cx="758.3" cy="21.9" r="4.65"/>
<circle cx="753.0" cy="29.1" r="4.65"/>
<circle cx="754.8" cy="28.0" r="4.65"/>
<circle cx="768.8" cy="69.7" r="4.65"/>
<circle cx="769.8" cy="70.8" r="4.65"/>
<circle cx="776.6" cy="67.7" r="4.65"/>
<circle cx="775.6" cy="66.1" r="4.65"/>
<circle cx="771.4" cy="27.8" r="4.65"/>
<circle cx="772.0" cy="27.5" r="4.65"/>
<circle cx="747.0" cy="69.3" r="4.65"/>
<circle cx="747.4" cy="67.9" r="4.65"/>
<circle cx="781.2" cy="74.2" r="4.65"/>
<circle cx="783.2" cy="73.9" r="4.65"/>
<circle cx="790.4" cy="68.9" r="4.65"/>
<circle cx="790.3" cy="70.1" r="4.65"/>
<circle cx="756.4" cy="56.5" r="4.65"/>
<circle cx="758.6" cy="57.8" r="4.65"/>
<circle cx="761.4" cy="65.5" r="4.65"/>
<circle cx="760.2" cy="65.5" r="4.65"/>
<circle cx="776.5" cy="71.6" r="4.65"/>
<circle cx="777.2" cy="71.0" r="4.65"/>
<circle cx="772.9" cy="29.1" r="4.65"/>
<circle cx="771.9" cy="30.6" r="4.65"/>
<circle cx="772.0" cy="71.3" r="4.65"/>
<circle cx="772.4" cy="69.7" r="4.65"/>
<circle cx="766.7" cy="47.6" r="4.65"/>
<circle cx="768.4" cy="49.3" r="4.65"/>
<circle cx="787.4" cy="74.0" r="4.65"/>
<circle cx="787.3" cy="71.9" r="4.65"/>
<circle cx="762.4" cy="62.2" r="4.65"/>
<circle cx="760.7" cy="60.0" r="4.65"/>
<circle cx="761.1" cy="75.9" r="4.65"/>
<circle cx="762.4" cy="76.8" r="4.65"/>
<circle cx="736.1" cy="67.0" r="4.65"/>
<circle cx="737.3" cy="68.6" r="4.65"/>
<circle cx="771.4" cy="38.6" r="4.65"/>
<circle cx="770.6" cy="37.2" r="4.65"/>
<circle cx="751.7" cy="25.7" r="4.65"/>
<circle cx="750.6" cy="26.6" r="4.65"/>
<circle cx="751.4" cy="27.2" r="4.65"/>
<circle cx="752.5" cy="28.9" r="4.65"/>
<circle cx="785.5" cy="59.4" r="4.65"/>
<circle cx="786.5" cy="57.3" r="4.65"/>
<circle cx="773.6" cy="80.1" r="4.65"/>
<circle cx="772.5" cy="78.2" r="4.65"/>
<circle cx="764.4" cy="61.0" r="4.65"/>
<circle cx="766.0" cy="60.3" r="4.65"/>
<circle cx="771.2" cy="76.6" r="4.65"/>
<circle cx="769.3" cy="75.6" r="4.65"/>
<circle cx="778.0" cy="60.7" r="4.65"/>
<circle cx="778.5" cy="58.5" r="4.65"/>
<circle cx="753.6" cy="57.4" r="4.65"/>
<circle cx="752.6" cy="58.4" r="4.65"/>
<circle cx="755.2" cy="56.8" r="4.65"/>
<circle cx="755.2" cy="56.9" r="4.65"/>
<circle cx="765.0" cy="69.7" r="4.65"/>
<circle cx="766.7" cy="68.0" r="4.65"/>
<circle cx="762.7" cy="13.4" r="4.65"/>
<circle cx="761.8" cy="12.9" r="4.65"/>
<circle cx="786.9" cy="66.2" r="4.65"/>
<circle cx="785.0" cy="65.3" r="4.65"/>
<circle cx="782.1" cy="79.8" r="4.65"/>
<circle cx="782.6" cy="77.9" r="4.65"/>
<circle cx="774.2" cy="74.4" r="4.65"/>
<circle cx="774.6" cy="76.6" r="4.65"/>
<circle cx="752.5" cy="24.2" r="4.65"/>
<circle cx="751.7" cy="24.0" r="4.65"/>
<circle cx="772.8" cy="46.3" r="4.65"/>
<circle cx="772.2" cy="47.4" r="4.65"/>
<circle cx="765.1" cy="40.3" r="4.65"/>
<circle cx="762.9" cy="38.6" r="4.65"/>
<circle cx="839.9" cy="29.9" r="4.65"/>
<circle cx="838.0" cy="30.3" r="4.65"/>
<circle cx="824.0" cy="20.8" r="4.65"/>
<circle cx="822.9" cy="21.8" r="4.65"/>
<circle cx="847.1" cy="43.6" r="4.65"/>
<circle cx="846.8" cy="43.2" r="4.65"/>
<circle cx="841.0" cy="44.0" r="4.65"/>
<circle cx="840.1" cy="44.9" r="4.65"/>
<circle cx="837.0" cy="20.9" r="4.65"/>
<circle cx="838.7" cy="21.5" r="4.65"/>
<circle cx="829.8" cy="39.9" r="4.65"/>
<circle cx="831.6" cy="39.7" r="4.65"/>
<circle cx="825.3" cy="46.8" r="4.65"/>
<circle cx="827.3" cy="47.5" r="4.65"/>
<circle cx="826.3" cy="41.1" r="4.65"/>
<circle cx="825.7" cy="43.2" r="4.65"/>
<circle cx="820.4" cy="45.3" r="4.65"/>
<circle cx="822.3" cy="43.9" r="4.65"/>
<circle cx="831.7" cy="36.2" r="4.65"/>
<circle cx="833.2" cy="35.1" r="4.65"/>
<circle cx="837.3" cy="41.7" r="4.65"/>
<circle cx="839.0" cy="40.3" r="4.65"/>
<circle cx="822.9" cy="35.3" r="4.65"/>
<circle cx="824.9" cy="35.0" r="4.65"/>
<circle cx="835.5" cy="32.3" r="4.65"/>
<circle cx="833.4" cy="30.5" r="4.65"/>
<circle cx="825.3" cy="29.1" r="4.65"/>
<circle cx="823.7" cy="30.9" r="4.65"/>
<circle cx="831.5" cy="54.6" r="4.65"/>
<circle cx="832.9" cy="54.9" r="4.65"/>
<circle cx="845.0" cy="37.9" r="4.65"/>
<circle cx="846.7" cy="38.6" r="4.65"/>
<circle cx="830.7" cy="44.8" r="4.65"/>
<circle cx="832.4" cy="43.3" r="4.65"/>
<circle cx="828.7" cy="49.9" r="4.65"/>
<circle cx="830.1" cy="51.1" r="4.65"/>
<circle cx="829.8" cy="25.7" r="4.65"/>
<circle cx="828.4" cy="26.1" r="4.65"/>
<circle cx="825.9" cy="18.7" r="4.65"/>
<circle cx="824.7" cy="17.9" r="4.65"/>
<circle cx="817.3" cy="24.2" r="4.65"/>
<circle cx="818.7" cy="25.3" r="4.65"/>
<circle cx="831.0" cy="23.7" r="4.65"/>
<circle cx="830.0" cy="22.8" r="4.65"/>
<circle cx="820.1" cy="37.3" r="4.65"/>
<circle cx="818.1" cy="38.2" r="4.65"/>
<circle cx="842.3" cy="37.6" r="4.65"/>
<circle cx="841.0" cy="36.8" r="4.65"/>
<circle cx="847.6" cy="23.4" r="4.65"/>
<circle cx="846.7" cy="24.2" r="4.65"/>
<circle cx="832.9" cy="21.1" r="4.65"/>
<circle cx="832.8" cy="19.1" r="4.65"/>
<circle cx="822.1" cy="21.8" r="4.65"/>
<circle cx="821.4" cy="20.1" r="4.65"/>
<circle cx="841.0" cy="57.0" r="4.65"/>
<circle cx="840.0" cy="56.1" r="4.65"/>
<circle cx="844.9" cy="33.3" r="4.65"/>
<circle cx="842.9" cy="32.5" r="4.65"/>
<circle cx="824.6" cy="23.3" r="4.65"/>
<circle cx="825.9" cy="24.3" r="4.65"/>
<circle cx="836.1" cy="53.4" r="4.65"/>
<circle cx="836.7" cy="51.8" r="4.65"/>
<circle cx="823.3" cy="24.9" r="4.65"/>
<circle cx="821.6" cy="24.4" r="4.65"/>
<circle cx="826.7" cy="29.4" r="4.65"/>
<circle cx="828.9" cy="29.6" r="4.65"/>
<circle cx="843.3" cy="28.3" r="4.65"/>
<circle cx="845.2" cy="28.2" r="4.65"/>
<circle cx="814.8" cy="23.7" r="4.65"/>
<circle cx="814.8" cy="24.5" r="4.65"/>
<circle cx="828.8" cy="45.7" r="4.65"/>
<circle cx="829.5" cy="45.9" r="4.65"/>
<circle cx="846.2" cy="46.3" r="4.65"/>
<circle cx="845.0" cy="48.0" r="4.65"/>
<circle cx="825.5" cy="28.0" r="4.65"/>
<circle cx="825.1" cy="27.0" r="4.65"/>
<circle cx="843.4" cy="24.5" r="4.65"/>
<circle cx="843.7" cy="23.3" r="4.65"/>
<circle cx="830.7" cy="47.5" r="4.65"/>
<circle cx="832.6" cy="48.7" r="4.65"/>
<circle cx="834.0" cy="45.1" r="4.65"/>
<circle cx="834.5" cy="44.3" r="4.65"/>
<circle cx="818.4" cy="40.1" r="4.65"/>
<circle cx="819.7" cy="41.7" r="4.65"/>
<circle cx="835.5" cy="25.4" r="4.65"/>
<circle cx="834.9" cy="23.9" r="4.65"/>
<circle cx="827.1" cy="19.9" r="4.65"/>
<circle cx="827.5" cy="18.4" r="4.65"/>
<circle cx="835.9" cy="30.1" r="4.65"/>
<circle cx="836.0" cy="28.2" r="4.65"/>
<circle cx="840.5" cy="49.6" r="4.65"/>
<circle cx="839.3" cy="50.4" r="4.65"/>
<circle cx="820.3" cy="35.0" r="4.65"/>
<circle cx="820.4" cy="35.7" r="4.65"/>
<circle cx="829.8" cy="30.3" r="4.65"/>
<circle cx="829.2" cy="32.4" r="4.65"/>
<circle cx="846.5" cy="31.1" r="4.65"/>
<circle cx="847.1" cy="32.7" r="4.65"/>
<circle cx="844.8" cy="22.5" r="4.65"/>
<circle cx="844.3" cy="20.7" r="4.65"/>
<circle cx="822.9" cy="44.4" r="4.65"/>
<circle cx="821.6" cy="46.5" r="4.65"/>
<circle cx="831.1" cy="21.3" r="4.65"/>
<circle cx="829.3" cy="20.5" r="4.65"/>
<circle cx="844.5" cy="45.8" r="4.65"/>
<circle cx="844.4" cy="45.9" r="4.65"/>
<circle cx="819.8" cy="23.7" r="4.65"/>
<circle cx="818.9" cy="21.7" r="4.65"/>
<circle cx="850.8" cy="28.2" r="4.65"/>
<circle cx="849.0" cy="26.8" r="4.65"/>
<circle cx="845.7" cy="38.4" r="4.65"/>
<circle cx="845.0" cy="40.1" r="4.65"/>
<circle cx="817.8" cy="31.2" r="4.65"/>
<circle cx="819.2" cy="30.7" r="4.65"/>
<circle cx="839.1" cy="23.6" r="4.65"/>
<circle cx="838.3" cy="24.6" r="4.65"/>
<circle cx="812.8" cy="29.3" r="4.65"/>
<circle cx="814.5" cy="27.5" r="4.65"/>
<circle cx="824.6" cy="52.0" r="4.65"/>
<circle cx="824.8" cy="50.0" r="4.65"/>
<circle cx="837.1" cy="16.1" r="4.65"/>
<circle cx="835.0" cy="17.5" r="4.65"/>
<circle cx="830.4" cy="34.9" r="4.65"/>
<circle cx="830.7" cy="36.8" r="4.65"/>
<circle cx="830.1" cy="22.8" r="4.65"/>
<circle cx="831.9" cy="24.5" r="4.65"/>
<circle cx="834.1" cy="40.3" r="4.65"/>
<circle cx="833.8" cy="38.9" r="4.65"/>
<circle cx="835.0" cy="50.2" r="4.65"/>
<circle cx="835.6" cy="48.4" r="4.65"/>
<circle cx="825.9" cy="51.1" r="4.65"/>
<circle cx="827.4" cy="52.0" r="4.65"/>
<circle cx="843.5" cy="51.0" r="4.65"/>
<circle cx="842.9" cy="52.0" r="4.65"/>
<circle cx="824.6" cy="40.0" r="4.65"/>
<circle cx="824.8" cy="37.8" r="4.65"/>
<circle cx="839.9" cy="27.5" r="4.65"/>
<circle cx="839.5" cy="26.7" r="4.65"/>
<circle cx="827.0" cy="35.9" r="4.65"/>
<circle cx="827.1" cy="36.9" r="4.65"/>
<circle cx="844.1" cy="39.5" r="4.65"/>
<circle cx="842.4" cy="39.5" r="4.65"/>
<circle cx="840.6" cy="59.1" r="4.65"/>
<circle cx="841.9" cy="58.6" r="4.65"/>
<circle cx="832.0" cy="48.9" r="4.65"/>
<circle cx="833.3" cy="50.9" r="4.65"/>
<circle cx="837.0" cy="47.3" r="4.65"/>
<circle cx="836.8" cy="45.6" r="4.65"/>
<circle cx="833.1" cy="15.6" r="4.65"/>
<circle cx="832.6" cy="16.5" r="4.65"/>
<circle cx="842.9" cy="37.7" r="4.65"/>
<circle cx="844.0" cy="35.8" r="4.65"/>
<circle cx="834.2" cy="43.7" r="4.65"/>
<circle cx="835.6" cy="42.0" r="4.65"/>
<circle cx="835.7" cy="56.4" r="4.65"/>
<circle cx="834.1" cy="57.3" r="4.65"/>
<circle cx="830.7" cy="17.9" r="4.65"/>
<circle cx="830.5" cy="17.9" r="4.65"/>
<circle cx="842.0" cy="33.3" r="4.65"/>
<circle cx="840.1" cy="33.1" r="4.65"/>
<circle cx="836.3" cy="32.7" r="4.65"/>
<circle cx="836.3" cy="34.0" r="4.65"/>
<circle cx="837.0" cy="55.7" r="4.65"/>
<circle cx="836.8" cy="56.9" r="4.65"/>
<circle cx="846.4" cy="29.0" r="4.65"/>
<circle cx="847.7" cy="30.5" r="4.65"/>
<circle cx="837.8" cy="58.8" r="4.65"/>
<circle cx="838.7" cy="60.2" r="4.65"/>
<circle cx="842.3" cy="54.6" r="4.65"/>
<circle cx="844.4" cy="53.7" r="4.65"/>
<circle cx="914.4" cy="32.9" r="4.65"/>
<circle cx="912.9" cy="31.7" r="4.65"/>
<circle cx="886.0" cy="31.9" r="4.65"/>
<circle cx="886.5" cy="32.7" r="4.65"/>
<circle cx="909.6" cy="46.8" r="4.65"/>
<circle cx="907.7" cy="47.4" r="4.65"/>
<circle cx="918.3" cy="41.3" r="4.65"/>
<circle cx="917.3" cy="41.7" r="4.65"/>
<circle cx="910.1" cy="45.8" r="4.65"/>
<circle cx="911.6" cy="43.7" r="4.65"/>
<circle cx="895.2" cy="15.0" r="4.65"/>
<circle cx="894.6" cy="14.5" r="4.65"/>
<circle cx="904.7" cy="44.7" r="4.65"/>
<circle cx="905.1" cy="46.6" r="4.65"/>
<circle cx="885.8" cy="25.4" r="4.65"/>
<circle cx="885.6" cy="26.6" r="4.65"/>
<circle cx="879.6" cy="17.2" r="4.65"/>
<circle cx="881.4" cy="15.2" r="4.65"/>
<circle cx="913.1" cy="50.5" r="4.65"/>
<circle cx="911.6" cy="51.8" r="4.65"/>
<circle cx="896.7" cy="28.6" r="4.65"/>
<circle cx="895.7" cy="28.9" r="4.65"/>
<circle cx="893.0" cy="25.3" r="4.65"/>
<circle cx="892.9" cy="25.6" r="4.65"/>
<circle cx="891.6" cy="15.4" r="4.65"/>
<circle cx="890.9" cy="15.6" r="4.65"/>
<circle cx="924.5" cy="44.5" r="4.65"/>
<circle cx="925.6" cy="46.1" r="4.65"/>
<circle cx="887.3" cy="15.5" r="4.65"/>
<circle cx="888.1" cy="15.4" r="4.65"/>
<circle cx="888.8" cy="29.5" r="4.65"/>
<circle cx="890.5" cy="31.6" r="4.65"/>
<circle cx="921.2" cy="53.1" r="4.65"/>
<circle cx="919.6" cy="52.3" r="4.65"/>
<circle cx="895.2" cy="31.6" r="4.65"/>
<circle cx="893.3" cy="31.0" r="4.65"/>
<circle cx="879.1" cy="40.9" r="4.65"/>
<circle cx="881.0" cy="42.2" r="4.65"/>
<circle cx="897.2" cy="38.9" r="4.65"/>
<circle cx="895.8" cy="38.6" r="4.65"/>
<circle cx="909.0" cy="37.7" r="4.65"/>
<circle cx="910.9" cy="37.7" r="4.65"/>
<circle cx="890.2" cy="40.0" r="4.65"/>
<circle cx="889.3" cy="38.6" r="4.65"/>
<circle cx="905.7" cy="33.4" r="4.65"/>
<circle cx="904.9" cy="33.0" r="4.65"/>
<circle cx="898.0" cy="48.9" r="4.65"/>
<circle cx="898.7" cy="50.1" r="4.65"/>
<circle cx="888.3" cy="45.3" r="4.65"/>
<circle cx="887.3" cy="44.7" r="4.65"/>
<circle cx="902.7" cy="53.7" r="4.65"/>
<circle cx="901.5" cy="51.6" r="4.65"/>
<circle cx="906.3" cy="37.1" r="4.65"/>
<circle cx="905.4" cy="38.3" r="4.65"/>
<circle cx="892.8" cy="22.1" r="4.65"/>
<circle cx="890.7" cy="24.3" r="4.65"/>
<circle cx="891.5" cy="54.8" r="4.65"/>
<circle cx="891.2" cy="53.4" r="4.65"/>
<circle cx="893.6" cy="26.4" r="4.65"/>
<circle cx="892.0" cy="28.6" r="4.65"/>
<circle cx="899.7" cy="43.0" r="4.65"/>
<circle cx="899.9" cy="44.7" r="4.65"/>
<circle cx="883.0" cy="45.2" r="4.65"/>
<circle cx="883.0" cy="47.3" r="4.65"/>
<circle cx="912.0" cy="50.8" r="4.65"/>
<circle cx="911.4" cy="49.3" r="4.65"/>
<circle cx="900.8" cy="26.2" r="4.65"/>
<circle cx="902.0" cy="26.2" r="4.65"/>
<circle cx="916.6" cy="38.4" r="4.65"/>
<circle cx="914.7" cy="37.2" r="4.65"/>
<circle cx="897.0" cy="44.4" r="4.65"/>
<circle cx="897.7" cy="43.2" r="4.65"/>
<circle cx="883.1" cy="30.4" r="4.65"/>
<circle cx="882.4" cy="29.5" r="4.65"/>
<circle cx="925.3" cy="50.3" r="4.65"/>
<circle cx="924.9" cy="52.4" r="4.65"/>
<circle cx="923.3" cy="50.6" r="4.65"/>
<circle cx="921.6" cy="48.7" r="4.65"/>
<circle cx="901.3" cy="22.1" r="4.65"/>
<circle cx="901.2" cy="22.6" r="4.65"/>
<circle cx="894.9" cy="44.5" r="4.65"/>
<circle cx="894.6" cy="44.2" r="4.65"/>
<circle cx="921.1" cy="43.5" r="4.65"/>
<circle cx="920.6" cy="44.1" r="4.65"/>
<circle cx="891.4" cy="17.8" r="4.65"/>
<circle cx="891.8" cy="18.7" r="4.65"/>
<circle cx="912.9" cy="34.1" r="4.65"/>
<circle cx="912.6" cy="36.3" r="4.65"/>
<circle cx="884.9" cy="43.3" r="4.65"/>
<circle cx="883.4" cy="42.7" r="4.65"/>
<circle cx="893.4" cy="41.7" r="4.65"/>
<circle cx="894.3" cy="41.7" r="4.65"/>
<circle cx="909.8" cy="25.6" r="4.65"/>
<circle cx="907.6" cy="24.0" r="4.65"/>
<circle cx="916.7" cy="53.4" r="4.65"/>
<circle cx="916.5" cy="54.6" r="4.65"/>
<circle cx="884.9" cy="48.2" r="4.65"/>
<circle cx="886.9" cy="47.5" r="4.65"/>
<circle cx="929.1" cy="49.1" r="4.65"/>
<circle cx="927.3" cy="48.7" r="4.65"/>
<circle cx="907.4" cy="57.6" r="4.65"/>
<circle cx="907.7" cy="56.1" r="4.65"/>
<circle cx="883.1" cy="18.7" r="4.65"/>
<circle cx="883.3" cy="17.3" r="4.65"/>
<circle cx="907.0" cy="50.1" r="4.65"/>
<circle cx="907.3" cy="51.3" r="4.65"/>
<circle cx="907.5" cy="36.3" r="4.65"/>
<circle cx="908.3" cy="37.4" r="4.65"/>
<circle cx="889.5" cy="39.6" r="4.65"/>
<circle cx="891.4" cy="40.6" r="4.65"/>
<circle cx="927.7" cy="48.6" r="4.65"/>
<circle cx="928.2" cy="46.6" r="4.65"/>
<circle cx="880.8" cy="37.5" r="4.65"/>
<circle cx="882.2" cy="36.0" r="4.65"/>
<circle cx="898.4" cy="19.6" r="4.65"/>
<circle cx="897.4" cy="20.6" r="4.65"/>
<circle cx="883.8" cy="40.0" r="4.65"/>
<circle cx="884.4" cy="38.1" r="4.65"/>
<circle cx="916.3" cy="49.0" r="4.65"/>
<circle cx="915.9" cy="48.7" r="4.65"/>
<circle cx="879.1" cy="30.8" r="4.65"/>
<circle cx="879.9" cy="31.9" r="4.65"/>
<circle cx="896.9" cy="48.3" r="4.65"/>
<circle cx="898.7" cy="47.4" r="4.65"/>
<circle cx="929.9" cy="49.1" r="4.65"/>
<circle cx="930.5" cy="49.7" r="4.65"/>
<circle cx="893.1" cy="36.7" r="4.65"/>
<circle cx="893.5" cy="37.1" r="4.65"/>
<circle cx="895.1" cy="18.2" r="4.65"/>
<circle cx="896.2" cy="18.0" r="4.65"/>
<circle cx="904.8" cy="26.7" r="4.65"/>
<circle cx="905.9" cy="28.0" r="4.65"/>
<circle cx="910.9" cy="38.6" r="4.65"/>
<circle cx="909.7" cy="40.0" r="4.65"/>
<circle cx="899.9" cy="24.7" r="4.65"/>
<circle cx="898.6" cy="26.1" r="4.65"/>
<circle cx="923.6" cy="51.5" r="4.65"/>
<circle cx="924.8" cy="50.0" r="4.65"/>
<circle cx="924.0" cy="51.6" r="4.65"/>
<circle cx="922.0" cy="53.0" r="4.65"/>
<circle cx="888.4" cy="29.4" r="4.65"/>
<circle cx="887.4" cy="29.8" r="4.65"/>
<circle cx="890.1" cy="21.6" r="4.65"/>
<circle cx="888.7" cy="22.3" r="4.65"/>
<circle cx="884.1" cy="20.3" r="4.65"/>
<circle cx="885.5" cy="19.9" r="4.65"/>
<circle cx="893.6" cy="36.5" r="4.65"/>
<circle cx="895.3" cy="34.7" r="4.65"/>
<circle cx="907.5" cy="34.0" r="4.65"/>
<circle cx="906.6" cy="36.0" r="4.65"/>
<circle cx="927.8" cy="52.3" r="4.65"/>
<circle cx="929.5" cy="51.8" r="4.65"/>
<circle cx="892.9" cy="50.8" r="4.65"/>
<circle cx="894.4" cy="50.1" r="4.65"/>
<circle cx="879.0" cy="36.6" r="4.65"/>
<circle cx="880.0" cy="36.2" r="4.65"/>
<circle cx="897.1" cy="55.7" r="4.65"/>
<circle cx="896.3" cy="53.8" r="4.65"/>
<circle cx="903.9" cy="54.9" r="4.65"/>
<circle cx="904.2" cy="56.8" r="4.65"/>
<circle cx="904.1" cy="41.6" r="4.65"/>
<circle cx="904.1" cy="42.8" r="4.65"/>
<circle cx="894.1" cy="48.9" r="4.65"/>
<circle cx="896.2" cy="48.6" r="4.65"/>
<circle cx="910.7" cy="35.4" r="4.65"/>
<circle cx="911.3" cy="33.4" r="4.65"/>
<circle cx="887.4" cy="37.5" r="4.65"/>
<circle cx="886.7" cy="36.9" r="4.65"/>
<circle cx="882.2" cy="45.6" r="4.65"/>
<circle cx="882.0" cy="45.2" r="4.65"/>
<circle cx="885.5" cy="30.9" r="4.65"/>
<circle cx="883.7" cy="31.6" r="4.65"/>
<circle cx="985.9" cy="53.6" r="4.65"/>
<circle cx="983.9" cy="54.5" r="4.65"/>
<circle cx="983.1" cy="58.9" r="4.65"/>
<circle cx="982.0" cy="57.1" r="4.65"/>
<circle cx="993.7" cy="66.8" r="4.65"/>
<circle cx="995.0" cy="68.4" r="4.65"/>
<circle cx="1014.9" cy="16.2" r="4.65"/>
<circle cx="1013.0" cy="17.9" r="4.65"/>
<circle cx="998.2" cy="33.2" r="4.65"/>
<circle cx="999.5" cy="32.8" r="4.65"/>
<circle cx="1014.4" cy="25.0" r="4.65"/>
<circle cx="1013.7" cy="25.7" r="4.65"/>
<circle cx="997.7" cy="55.8" r="4.65"/>
<circle cx="996.7" cy="54.5" r="4.65"/>
<circle cx="985.6" cy="50.3" r="4.65"/>
<circle cx="986.1" cy="51.7" r="4.65"/>
<circle cx="1003.2" cy="35.0" r="4.65"/>
<circle cx="1004.3" cy="34.6" r="4.65"/>
<circle cx="995.0" cy="65.9" r="4.65"/>
<circle cx="996.2" cy="66.0" r="4.65"/>
<circle cx="1002.2" cy="39.4" r="4.65"/>
<circle cx="1000.9" cy="37.7" r="4.65"/>
<circle cx="996.6" cy="28.9" r="4.65"/>
<circle cx="995.4" cy="29.0" r="4.65"/>
<circle cx="993.6" cy="62.3" r="4.65"/>
<circle cx="995.3" cy="61.2" r="4.65"/>
<circle cx="992.2" cy="35.4" r="4.65"/>
<circle cx="993.5" cy="34.9" r="4.65"/>
<circle cx="985.6" cy="47.1" r="4.65"/>
<circle cx="986.9" cy="45.4" r="4.65"/>
<circle cx="1011.1" cy="30.1" r="4.65"/>
<circle cx="1009.3" cy="29.4" r="4.65"/>
<circle cx="994.2" cy="21.0" r="4.65"/>
<circle cx="995.2" cy="19.2" r="4.65"/>
<circle cx="997.0" cy="11.8" r="4.65"/>
<circle cx="997.8" cy="12.3" r="4.65"/>
<circle cx="1005.2" cy="24.4" r="4.65"/>
<circle cx="1006.7" cy="24.8" r="4.65"/>
<circle cx="1013.0" cy="28.8" r="4.65"/>
<circle cx="1012.5" cy="31.0" r="4.65"/>
<circle cx="989.6" cy="60.5" r="4.65"/>
<circle cx="990.5" cy="60.9" r="4.65"/>
<circle cx="1006.2" cy="15.9" r="4.65"/>
<circle cx="1006.1" cy="17.7" r="4.65"/>
<circle cx="987.7" cy="54.9" r="4.65"/>
<circle cx="989.0" cy="55.1" r="4.65"/>
<circle cx="1007.7" cy="21.5" r="4.65"/>
<circle cx="1008.7" cy="23.7" r="4.65"/>
<circle cx="990.1" cy="37.6" r="4.65"/>
<circle cx="991.2" cy="38.7" r="4.65"/>
<circle cx="1002.0" cy="25.3" r="4.65"/>
<circle cx="1000.5" cy="23.6" r="4.65"/>
<circle cx="990.5" cy="62.7" r="4.65"/>
<circle cx="988.7" cy="62.6" r="4.65"/>
<circle cx="992.3" cy="21.5" r="4.65"/>
<circle cx="991.3" cy="20.6" r="4.65"/>
<circle cx="996.2" cy="41.6" r="4.65"/>
<circle cx="998.0" cy="41.3" r="4.65"/>
<circle cx="982.2" cy="48.9" r="4.65"/>
<circle cx="983.2" cy="49.8" r="4.65"/>
<circle cx="1000.1" cy="28.6" r="4.65"/>
<circle cx="999.4" cy="28.5" r="4.65"/>
<circle cx="1000.2" cy="20.1" r="4.65"/>
<circle cx="1001.0" cy="18.9" r="4.65"/>
<circle cx="991.0" cy="70.1" r="4.65"/>
<circle cx="991.7" cy="68.2" r="4.65"/>
<circle cx="1008.2" cy="20.2" r="4.65"/>
<circle cx="1009.9" cy="21.0" r="4.65"/>
<circle cx="992.8" cy="44.1" r="4.65"/>
<circle cx="994.6" cy="42.6" r="4.65"/>
<circle cx="987.7" cy="57.5" r="4.65"/>
<circle cx="987.5" cy="58.2" r="4.65"/>
<circle cx="1010.4" cy="15.5" r="4.65"/>
<circle cx="1010.9" cy="16.8" r="4.65"/>
<circle cx="988.6" cy="12.0" r="4.65"/>
<circle cx="989.7" cy="13.6" r="4.65"/>
<circle cx="992.4" cy="19.3" r="4.65"/>
<circle cx="992.6" cy="18.0" r="4.65"/>
<circle cx="985.3" cy="56.2" r="4.65"/>
<circle cx="986.6" cy="54.4" r="4.65"/>
<circle cx="1005.1" cy="33.0" r="4.65"/>
<circle cx="1007.0" cy="31.8" r="4.65"/>
<circle cx="981.2" cy="50.4" r="4.65"/>
<circle cx="982.2" cy="51.9" r="4.65"/>
<circle cx="1006.8" cy="14.4" r="4.65"/>
<circle cx="1005.4" cy="13.5" r="4.65"/>
<circle cx="666.8" cy="17.2" r="4.65"/>
<circle cx="667.5" cy="16.4" r="4.65"/>
<circle cx="673.6" cy="23.7" r="4.65"/>
<circle cx="673.0" cy="25.8" r="4.65"/>
<circle cx="685.6" cy="22.4" r="4.65"/>
<circle cx="686.5" cy="23.3" r="4.65"/>
<circle cx="683.8" cy="29.1" r="4.65"/>
<circle cx="685.3" cy="27.0" r="4.65"/>
<circle cx="671.2" cy="21.1" r="4.65"/>
<circle cx="670.9" cy="21.8" r="4.65"/>
<circle cx="676.1" cy="18.0" r="4.65"/>
<circle cx="678.3" cy="20.0" r="4.65"/>
<circle cx="676.7" cy="23.0" r="4.65"/>
<circle cx="677.6" cy="23.3" r="4.65"/>
<circle cx="673.7" cy="22.7" r="4.65"/>
<circle cx="673.4" cy="22.7" r="4.65"/>
<circle cx="673.5" cy="34.2" r="4.65"/>
<circle cx="672.5" cy="33.2" r="4.65"/>
<circle cx="676.1" cy="14.3" r="4.65"/>
<circle cx="674.8" cy="13.6" r="4.65"/>
<circle cx="678.9" cy="20.1" r="4.65"/>
<circle cx="679.4" cy="17.9" r="4.65"/>
<circle cx="664.8" cy="24.0" r="4.65"/>
<circle cx="664.5" cy="25.2" r="4.65"/>
<circle cx="673.9" cy="16.3" r="4.65"/>
<circle cx="673.9" cy="16.4" r="4.65"/>
<circle cx="676.7" cy="21.7" r="4.65"/>
<circle cx="675.4" cy="21.5" r="4.65"/>
<circle cx="682.7" cy="20.5" r="4.65"/>
<circle cx="681.5" cy="21.1" r="4.65"/>
<circle cx="680.9" cy="25.6" r="4.65"/>
<circle cx="682.4" cy="25.0" r="4.65"/>
<circle cx="680.8" cy="15.8" r="4.65"/>
<circle cx="679.2" cy="13.9" r="4.65"/>
<circle cx="669.5" cy="13.8" r="4.65"/>
<circle cx="671.2" cy="15.4" r="4.65"/>
<circle cx="683.8" cy="13.9" r="4.65"/>
<circle cx="682.0" cy="13.5" r="4.65"/>
<circle cx="683.2" cy="30.6" r="4.65"/>
<circle cx="682.7" cy="29.2" r="4.65"/>
<circle cx="664.8" cy="18.5" r="4.65"/>
<circle cx="664.9" cy="19.4" r="4.65"/>
<circle cx="671.6" cy="19.3" r="4.65"/>
<circle cx="671.8" cy="18.5" r="4.65"/>
<circle cx="664.5" cy="22.2" r="4.65"/>
<circle cx="664.8" cy="22.9" r="4.65"/>
<circle cx="678.5" cy="13.4" r="4.65"/>
<circle cx="677.0" cy="15.0" r="4.65"/>
<circle cx="682.1" cy="26.2" r="4.65"/>
<circle cx="680.2" cy="27.1" r="4.65"/>
<circle cx="683.7" cy="20.3" r="4.65"/>
<circle cx="684.1" cy="22.0" r="4.65"/>
<circle cx="687.5" cy="20.5" r="4.65"/>
<circle cx="687.7" cy="20.4" r="4.65"/>
<circle cx="666.5" cy="27.6" r="4.65"/>
<circle cx="668.1" cy="29.3" r="4.65"/>
<circle cx="682.3" cy="15.8" r="4.65"/>
<circle cx="683.0" cy="18.0" r="4.65"/>
<circle cx="671.3" cy="25.4" r="4.65"/>
<circle cx="670.7" cy="26.2" r="4.65"/>
<circle cx="672.8" cy="19.6" r="4.65"/>
<circle cx="674.5" cy="18.6" r="4.65"/>
<circle cx="650.4" cy="123.1" r="4.65"/>
<circle cx="648.3" cy="123.5" r="4.65"/>
<circle cx="630.4" cy="136.6" r="4.65"/>
<circle cx="630.9" cy="136.6" r="4.65"/>
<circle cx="647.8" cy="131.8" r="4.65"/>
<circle cx="646.3" cy="133.4" r="4.65"/>
<circle cx="635.4" cy="144.3" r="4.65"/>
<circle cx="636.0" cy="144.1" r="4.65"/>
<circle cx="632.4" cy="135.0" r="4.65"/>
<circle cx="633.7" cy="134.8" r="4.65"/>
<circle cx="653.3" cy="128.6" r="4.65"/>
<circle cx="651.7" cy="130.8" r="4.65"/>
<circle cx="639.3" cy="133.1" r="4.65"/>
<circle cx="638.0" cy="133.9" r="4.65"/>
<circle cx="641.3" cy="140.0" r="4.65"/>
<circle cx="641.8" cy="140.4" r="4.65"/>
<circle cx="645.7" cy="137.4" r="4.65"/>
<circle cx="647.0" cy="136.0" r="4.65"/>
<circle cx="636.3" cy="131.9" r="4.65"/>
<circle cx="635.4" cy="132.3" r="4.65"/>
<circle cx="641.5" cy="134.0" r="4.65"/>
<circle cx="639.6" cy="136.0" r="4.65"/>
<circle cx="633.2" cy="130.7" r="4.65"/>
<circle cx="633.7" cy="130.9" r="4.65"/>
<circle cx="644.7" cy="132.2" r="4.65"/>
<circle cx="646.2" cy="130.8" r="4.65"/>
<circle cx="645.3" cy="141.6" r="4.65"/>
<circle cx="645.3" cy="141.0" r="4.65"/>
<circle cx="637.9" cy="123.9" r="4.65"/>
<circle cx="638.3" cy="124.0" r="4.65"/>
<circle cx="634.8" cy="125.2" r="4.65"/>
<circle cx="632.7" cy="123.3" r="4.65"/>
<circle cx="645.4" cy="129.4" r="4.65"/>
<circle cx="647.5" cy="127.5" r="4.65"/>
<circle cx="633.5" cy="140.6" r="4.65"/>
<circle cx="632.5" cy="142.5" r="4.65"/>
<circle cx="633.7" cy="139.4" r="4.65"/>
<circle cx="633.1" cy="138.2" r="4.65"/>
<circle cx="645.8" cy="127.5" r="4.65"/>
<circle cx="643.7" cy="127.0" r="4.65"/>
<circle cx="641.9" cy="122.4" r="4.65"/>
<circle cx="643.5" cy="124.5" r="4.65"/>
<circle cx="632.6" cy="126.4" r="4.65"/>
<circle cx="631.3" cy="125.1" r="4.65"/>
<circle cx="650.0" cy="130.2" r="4.65"/>
<circle cx="648.8" cy="132.3" r="4.65"/>
<circle cx="635.4" cy="139.5" r="4.65"/>
<circle cx="636.5" cy="138.0" r="4.65"/>
<circle cx="638.4" cy="124.7" r="4.65"/>
<circle cx="638.7" cy="126.7" r="4.65"/>
<circle cx="645.3" cy="125.4" r="4.65"/>
<circle cx="645.6" cy="123.2" r="4.65"/>
<circle cx="636.1" cy="140.4" r="4.65"/>
<circle cx="635.9" cy="141.2" r="4.65"/>
<circle cx="634.2" cy="129.3" r="4.65"/>
<circle cx="635.5" cy="128.9" r="4.65"/>
<circle cx="644.2" cy="135.8" r="4.65"/>
<circle cx="643.3" cy="133.7" r="4.65"/>
<circle cx="646.8" cy="129.3" r="4.65"/>
<circle cx="648.9" cy="129.8" r="4.65"/>
<circle cx="650.7" cy="126.6" r="4.65"/>
<circle cx="651.2" cy="127.2" r="4.65"/>
<circle cx="306.7" cy="40.6" r="4.65"/>
<circle cx="307.1" cy="40.5" r="4.65"/>
<circle cx="297.0" cy="28.7" r="4.65"/>
<circle cx="296.7" cy="29.3" r="4.65"/>
<circle cx="308.0" cy="37.0" r="4.65"/>
<circle cx="310.1" cy="39.0" r="4.65"/>
<circle cx="294.5" cy="37.3" r="4.65"/>
<circle cx="294.1" cy="37.5" r="4.65"/>
<circle cx="298.4" cy="40.0" r="4.65"/>
<circle cx="296.9" cy="38.8" r="4.65"/>
<circle cx="307.5" cy="34.6" r="4.65"/>
<circle cx="309.0" cy="34.5" r="4.65"/>
<circle cx="301.6" cy="23.6" r="4.65"/>
<circle cx="303.2" cy="22.3" r="4.65"/>
<circle cx="307.7" cy="26.8" r="4.65"/>
<circle cx="309.1" cy="25.6" r="4.65"/>
<circle cx="312.1" cy="26.8" r="4.65"/>
<circle cx="311.4" cy="28.4" r="4.65"/>
<circle cx="303.3" cy="32.9" r="4.65"/>
<circle cx="304.7" cy="30.8" r="4.65"/>
<circle cx="297.4" cy="31.6" r="4.65"/>
<circle cx="295.9" cy="31.5" r="4.65"/>
<circle cx="301.3" cy="35.4" r="4.65"/>
<circle cx="302.8" cy="34.2" r="4.65"/>
<circle cx="301.4" cy="33.9" r="4.65"/>
<circle cx="299.3" cy="32.3" r="4.65"/>
<circle cx="308.1" cy="22.1" r="4.65"/>
<circle cx="306.2" cy="24.3" r="4.65"/>
<circle cx="306.9" cy="48.0" r="4.65"/>
<circle cx="305.3" cy="45.8" r="4.65"/>
<circle cx="298.8" cy="25.4" r="4.65"/>
<circle cx="300.0" cy="27.0" r="4.65"/>
<circle cx="312.3" cy="37.2" r="4.65"/>
<circle cx="313.8" cy="37.1" r="4.65"/>
<circle cx="293.8" cy="36.9" r="4.65"/>
<circle cx="292.4" cy="35.6" r="4.65"/>
<circle cx="303.9" cy="43.7" r="4.65"/>
<circle cx="303.7" cy="42.8" r="4.65"/>
<circle cx="304.1" cy="38.0" r="4.65"/>
<circle cx="305.3" cy="36.5" r="4.65"/>
<circle cx="295.5" cy="26.2" r="4.65"/>
<circle cx="295.9" cy="26.6" r="4.65"/>
<circle cx="303.5" cy="27.3" r="4.65"/>
<circle cx="303.5" cy="28.0" r="4.65"/>
<circle cx="369.6" cy="55.1" r="4.65"/>
<circle cx="369.1" cy="53.9" r="4.65"/>
<circle cx="362.1" cy="55.9" r="4.65"/>
<circle cx="361.6" cy="55.8" r="4.65"/>
<circle cx="361.3" cy="90.2" r="4.65"/>
<circle cx="360.5" cy="89.4" r="4.65"/>
<circle cx="351.0" cy="53.4" r="4.65"/>
<circle cx="349.6" cy="54.4" r="4.65"/>
<circle cx="365.5" cy="80.6" r="4.65"/>
<circle cx="365.3" cy="81.3" r="4.65"/>
<circle cx="371.1" cy="57.1" r="4.65"/>
<circle cx="371.9" cy="58.9" r="4.65"/>
<circle cx="374.5" cy="80.0" r="4.65"/>
<circle cx="376.4" cy="78.2" r="4.65"/>
<circle cx="353.2" cy="73.0" r="4.65"/>
<circle cx="355.0" cy="72.2" r="4.65"/>
<circle cx="379.4" cy="66.0" r="4.65"/>
<circle cx="377.9" cy="64.4" r="4.65"/>
<circle cx="361.3" cy="60.2" r="4.65"/>
<circle cx="359.9" cy="58.2" r="4.65"/>
<circle cx="373.4" cy="52.1" r="4.65"/>
<circle cx="371.9" cy="53.8" r="4.65"/>
<circle cx="357.1" cy="79.5" r="4.65"/>
<circle cx="357.6" cy="80.4" r="4.65"/>
<circle cx="374.6" cy="66.3" r="4.65"/>
<circle cx="376.0" cy="65.7" r="4.65"/>
<circle cx="364.5" cy="91.3" r="4.65"/>
<circle cx="365.0" cy="90.3" r="4.65"/>
<circle cx="373.3" cy="72.5" r="4.65"/>
<circle cx="374.6" cy="72.2" r="4.65"/>
<circle cx="365.0" cy="66.3" r="4.65"/>
<circle cx="366.9" cy="68.3" r="4.65"/>
<circle cx="360.4" cy="79.4" r="4.65"/>
<circle cx="362.0" cy="80.2" r="4.65"/>
<circle cx="357.7" cy="55.5" r="4.65"/>
<circle cx="356.4" cy="56.8" r="4.65"/>
<circle cx="360.1" cy="75.0" r="4.65"/>
<circle cx="361.2" cy="73.9" r="4.65"/>
<circle cx="371.1" cy="73.3" r="4.65"/>
<circle cx="372.3" cy="71.3" r="4.65"/>
<circle cx="359.2" cy="62.8" r="4.65"/>
<circle cx="359.4" cy="63.6" r="4.65"/>
<circle cx="355.0" cy="53.8" r="4.65"/>
<circle cx="353.3" cy="54.9" r="4.65"/>
<circle cx="382.8" cy="67.6" r="4.65"/>
<circle cx="381.3" cy="68.5" r="4.65"/>
<circle cx="358.2" cy="72.8" r="4.65"/>
<circle cx="357.5" cy="71.4" r="4.65"/>
<circle cx="359.4" cy="86.9" r="4.65"/>
<circle cx="357.9" cy="86.5" r="4.65"/>
<circle cx="358.8" cy="76.8" r="4.65"/>
<circle cx="358.4" cy="75.1" r="4.65"/>
<circle cx="366.3" cy="71.6" r="4.65"/>
<circle cx="365.9" cy="72.5" r="4.65"/>
<circle cx="379.9" cy="66.8" r="4.65"/>
<circle cx="380.8" cy="66.2" r="4.65"/>
<circle cx="363.1" cy="60.7" r="4.65"/>
<circle cx="364.4" cy="62.7" r="4.65"/>
<circle cx="382.8" cy="64.2" r="4.65"/>
<circle cx="381.1" cy="63.1" r="4.65"/>
<circle cx="367.2" cy="90.9" r="4.65"/>
<circle cx="368.2" cy="90.8" r="4.65"/>
<circle cx="350.4" cy="56.0" r="4.65"/>
<circle cx="350.8" cy="58.1" r="4.65"/>
<circle cx="363.6" cy="83.3" r="4.65"/>
<circle cx="364.9" cy="83.9" r="4.65"/>
<circle cx="377.9" cy="69.7" r="4.65"/>
<circle cx="378.9" cy="71.6" r="4.65"/>
<circle cx="361.0" cy="79.6" r="4.65"/>
<circle cx="359.7" cy="78.9" r="4.65"/>
<circle cx="357.2" cy="66.3" r="4.65"/>
<circle cx="355.7" cy="64.3" r="4.65"/>
<circle cx="369.9" cy="77.5" r="4.65"/>
<circle cx="371.8" cy="75.7" r="4.65"/>
<circle cx="382.4" cy="69.5" r="4.65"/>
<circle cx="381.0" cy="70.8" r="4.65"/>
<circle cx="355.1" cy="79.9" r="4.65"/>
<circle cx="354.6" cy="79.6" r="4.65"/>
<circle cx="363.1" cy="51.5" r="4.65"/>
<circle cx="361.2" cy="50.7" r="4.65"/>
<circle cx="375.0" cy="55.1" r="4.65"/>
<circle cx="376.2" cy="57.3" r="4.65"/>
<circle cx="365.1" cy="75.8" r="4.65"/>
<circle cx="363.2" cy="77.9" r="4.65"/>
<circle cx="378.6" cy="77.7" r="4.65"/>
<circle cx="377.5" cy="76.1" r="4.65"/>
<circle cx="355.2" cy="77.4" r="4.65"/>
<circle cx="355.5" cy="75.7" r="4.65"/>
<circle cx="364.4" cy="55.4" r="4.65"/>
<circle cx="365.6" cy="57.0" r="4.65"/>
<circle cx="357.0" cy="65.5" r="4.65"/>
<circle cx="356.5" cy="66.8" r="4.65"/>
<circle cx="376.1" cy="61.6" r="4.65"/>
<circle cx="374.6" cy="60.7" r="4.65"/>
<circle cx="369.5" cy="89.8" r="4.65"/>
<circle cx="370.4" cy="88.0" r="4.65"/>
<circle cx="355.2" cy="51.9" r="4.65"/>
<circle cx="354.5" cy="52.1" r="4.65"/>
<circle cx="373.7" cy="78.3" r="4.65"/>
<circle cx="373.2" cy="79.4" r="4.65"/>
<circle cx="368.2" cy="57.5" r="4.65"/>
<circle cx="368.4" cy="59.4" r="4.65"/>
<circle cx="357.4" cy="50.2" r="4.65"/>
<circle cx="358.6" cy="50.0" r="4.65"/>
<circle cx="368.4" cy="85.5" r="4.65"/>
<circle cx="370.1" cy="85.0" r="4.65"/>
<circle cx="382.7" cy="74.7" r="4.65"/>
<circle cx="380.5" cy="74.3" r="4.65"/>
<circle cx="364.3" cy="64.9" r="4.65"/>
<circle cx="362.6" cy="64.6" r="4.65"/>
<circle cx="420.6" cy="77.3" r="4.65"/>
<circle cx="422.0" cy="76.7" r="4.65"/>
<circle cx="412.0" cy="75.7" r="4.65"/>
<circle cx="410.5" cy="76.8" r="4.65"/>
<circle cx="424.2" cy="77.6" r="4.65"/>
<circle cx="424.1" cy="79.5" r="4.65"/>
<circle cx="430.7" cy="79.1" r="4.65"/>
<circle cx="428.5" cy="80.5" r="4.65"/>
<circle cx="410.8" cy="82.2" r="4.65"/>
<circle cx="408.6" cy="80.0" r="4.65"/>
<circle cx="419.0" cy="93.5" r="4.65"/>
<circle cx="417.0" cy="93.7" r="4.65"/>
<circle cx="422.3" cy="72.6" r="4.65"/>
<circle cx="422.5" cy="71.0" r="4.65"/>
<circle cx="426.0" cy="75.0" r="4.65"/>
<circle cx="426.5" cy="74.8" r="4.65"/>
<circle cx="420.8" cy="91.9" r="4.65"/>
<circle cx="420.9" cy="92.1" r="4.65"/>
<circle cx="431.4" cy="86.1" r="4.65"/>
<circle cx="429.4" cy="85.8" r="4.65"/>
<circle cx="422.8" cy="93.6" r="4.65"/>
<circle cx="424.5" cy="93.1" r="4.65"/>
<circle cx="409.9" cy="74.6" r="4.65"/>
<circle cx="407.9" cy="76.5" r="4.65"/>
<circle cx="418.0" cy="90.5" r="4.65"/>
<circle cx="417.3" cy="88.4" r="4.65"/>
<circle cx="434.5" cy="88.6" r="4.65"/>
<circle cx="433.6" cy="90.1" r="4.65"/>
<circle cx="429.8" cy="91.8" r="4.65"/>
<circle cx="428.3" cy="92.4" r="4.65"/>
<circle cx="418.3" cy="71.6" r="4.65"/>
<circle cx="418.5" cy="72.3" r="4.65"/>
<circle cx="432.5" cy="94.5" r="4.65"/>
<circle cx="433.9" cy="92.5" r="4.65"/>
<circle cx="411.6" cy="90.2" r="4.65"/>
<circle cx="412.8" cy="89.1" r="4.65"/>
<circle cx="417.1" cy="78.5" r="4.65"/>
<circle cx="418.0" cy="77.9" r="4.65"/>
<circle cx="409.1" cy="87.6" r="4.65"/>
<circle cx="408.7" cy="88.2" r="4.65"/>
<circle cx="415.3" cy="75.8" r="4.65"/>
<circle cx="413.3" cy="75.7" r="4.65"/>
<circle cx="424.3" cy="91.2" r="4.65"/>
<circle cx="423.9" cy="90.8" r="4.65"/>
<circle cx="412.1" cy="73.8" r="4.65"/>
<circle cx="410.7" cy="71.9" r="4.65"/>
<circle cx="415.0" cy="80.3" r="4.65"/>
<circle cx="414.5" cy="78.4" r="4.65"/>
<circle cx="432.8" cy="90.9" r="4.65"/>
<circle cx="430.9" cy="92.4" r="4.65"/>
<circle cx="430.3" cy="78.4" r="4.65"/>
<circle cx="429.2" cy="77.5" r="4.65"/>
<circle cx="423.5" cy="84.8" r="4.65"/>
<circle cx="421.5" cy="87.0" r="4.65"/>
<circle cx="409.4" cy="85.8" r="4.65"/>
<circle cx="411.2" cy="87.4" r="4.65"/>
<circle cx="417.7" cy="75.7" r="4.65"/>
<circle cx="419.4" cy="75.1" r="4.65"/>
<circle cx="431.5" cy="91.4" r="4.65"/>
<circle cx="430.0" cy="89.2" r="4.65"/>
<circle cx="419.8" cy="70.0" r="4.65"/>
<circle cx="420.6" cy="69.7" r="4.65"/>
<circle cx="424.9" cy="90.7" r="4.65"/>
<circle cx="426.7" cy="90.4" r="4.65"/>
<circle cx="415.8" cy="70.9" r="4.65"/>
<circle cx="416.2" cy="70.3" r="4.65"/>
<circle cx="410.3" cy="81.1" r="4.65"/>
<circle cx="410.9" cy="80.5" r="4.65"/>
<circle cx="422.1" cy="84.1" r="4.65"/>
<circle cx="421.8" cy="84.1" r="4.65"/>
<circle cx="414.4" cy="74.0" r="4.65"/>
<circle cx="415.1" cy="73.0" r="4.65"/>
<circle cx="413.5" cy="90.3" r="4.65"/>
<circle cx="414.9" cy="88.2" r="4.65"/>
<circle cx="420.9" cy="88.9" r="4.65"/>
<circle cx="419.5" cy="89.3" r="4.65"/>
<circle cx="422.2" cy="73.7" r="4.65"/>
<circle cx="422.1" cy="74.1" r="4.65"/>
<circle cx="414.0" cy="90.9" r="4.65"/>
<circle cx="414.1" cy="91.1" r="4.65"/>
<circle cx="431.7" cy="88.2" r="4.65"/>
<circle cx="432.4" cy="86.9" r="4.65"/>
<circle cx="180.9" cy="312.5" r="4.65"/>
<circle cx="179.0" cy="312.3" r="4.65"/>
<circle cx="168.5" cy="309.3" r="4.65"/>
<circle cx="168.2" cy="311.3" r="4.65"/>
<circle cx="175.8" cy="322.0" r="4.65"/>
<circle cx="174.4" cy="323.5" r="4.65"/>
<circle cx="183.5" cy="328.6" r="4.65"/>
<circle cx="183.4" cy="327.4" r="4.65"/>
<circle cx="178.9" cy="324.7" r="4.65"/>
<circle cx="179.9" cy="324.5" r="4.65"/>
<circle cx="174.9" cy="325.0" r="4.65"/>
<circle cx="174.8" cy="327.0" r="4.65"/>
<circle cx="171.5" cy="320.3" r="4.65"/>
<circle cx="171.2" cy="319.8" r="4.65"/>
<circle cx="184.0" cy="326.7" r="4.65"/>
<circle cx="184.2" cy="324.6" r="4.65"/>
<circle cx="179.4" cy="315.0" r="4.65"/>
<circle cx="178.2" cy="316.5" r="4.65"/>
<circle cx="172.1" cy="315.4" r="4.65"/>
<circle cx="173.5" cy="316.9" r="4.65"/>
<circle cx="185.3" cy="322.2" r="4.65"/>
<circle cx="185.7" cy="322.8" r="4.65"/>
<circle cx="180.4" cy="317.4" r="4.65"/>
<circle cx="181.9" cy="315.3" r="4.65"/>
<circle cx="184.6" cy="313.6" r="4.65"/>
<circle cx="184.2" cy="315.0" r="4.65"/>
<circle cx="170.6" cy="325.0" r="4.65"/>
<circle cx="171.8" cy="325.0" r="4.65"/>
<circle cx="168.4" cy="315.1" r="4.65"/>
<circle cx="169.6" cy="315.6" r="4.65"/>
<circle cx="179.8" cy="329.2" r="4.65"/>
<circle cx="177.6" cy="330.2" r="4.65"/>
<circle cx="169.2" cy="320.8" r="4.65"/>
<circle cx="167.6" cy="321.5" r="4.65"/>
<circle cx="178.1" cy="307.9" r="4.65"/>
<circle cx="177.0" cy="307.7" r="4.65"/>
<circle cx="188.0" cy="328.0" r="4.65"/>
<circle cx="186.3" cy="327.6" r="4.65"/>
<circle cx="178.4" cy="327.5" r="4.65"/>
<circle cx="177.4" cy="327.4" r="4.65"/>
<circle cx="169.8" cy="318.7" r="4.65"/>
<circle cx="169.3" cy="318.5" r="4.65"/>
<circle cx="184.2" cy="320.3" r="4.65"/>
<circle cx="183.9" cy="321.1" r="4.65"/>
<circle cx="169.7" cy="320.2" r="4.65"/>
<circle cx="171.3" cy="322.1" r="4.65"/>
<circle cx="166.3" cy="315.4" r="4.65"/>
<circle cx="165.8" cy="317.2" r="4.65"/>
<circle cx="182.7" cy="312.4" r="4.65"/>
<circle cx="181.0" cy="310.2" r="4.65"/>
<circle cx="173.7" cy="310.7" r="4.65"/>
<circle cx="174.9" cy="312.3" r="4.65"/>
<circle cx="186.8" cy="316.6" r="4.65"/>
<circle cx="185.8" cy="317.9" r="4.65"/>
<circle cx="186.5" cy="316.2" r="4.65"/>
<circle cx="186.9" cy="314.3" r="4.65"/>
<circle cx="182.0" cy="324.7" r="4.65"/>
<circle cx="182.4" cy="323.2" r="4.65"/>
<circle cx="178.2" cy="313.0" r="4.65"/>
<circle cx="176.7" cy="314.0" r="4.65"/>
<circle cx="174.8" cy="309.1" r="4.65"/>
<circle cx="174.2" cy="308.9" r="4.65"/>
<circle cx="185.8" cy="330.0" r="4.65"/>
<circle cx="184.1" cy="330.3" r="4.65"/>
<circle cx="191.1" cy="325.0" r="4.65"/>
<circle cx="189.8" cy="325.4" r="4.65"/>
<circle cx="182.1" cy="328.4" r="4.65"/>
<circle cx="181.4" cy="329.3" r="4.65"/>
<circle cx="175.6" cy="319.6" r="4.65"/>
<circle cx="174.2" cy="320.1" r="4.65"/>
<circle cx="170.5" cy="319.1" r="4.65"/>
<circle cx="171.2" cy="317.4" r="4.65"/>
<circle cx="176.1" cy="317.7" r="4.65"/>
<circle cx="176.8" cy="318.2" r="4.65"/>
<circle cx="183.0" cy="310.3" r="4.65"/>
<circle cx="184.4" cy="311.9" r="4.65"/>
<circle cx="179.7" cy="319.4" r="4.65"/>
<circle cx="180.3" cy="317.5" r="4.65"/>
<circle cx="176.2" cy="323.5" r="4.65"/>
<circle cx="176.2" cy="325.0" r="4.65"/>
<circle cx="177.0" cy="319.3" r="4.65"/>
<circle cx="178.8" cy="320.3" r="4.65"/>
<circle cx="170.1" cy="309.8" r="4.65"/>
<circle cx="170.5" cy="309.3" r="4.65"/>
<circle cx="186.2" cy="321.9" r="4.65"/>
<circle cx="188.2" cy="323.1" r="4.65"/>
<circle cx="166.2" cy="312.5" r="4.65"/>
<circle cx="165.8" cy="314.0" r="4.65"/>
<circle cx="170.8" cy="313.2" r="4.65"/>
<circle cx="171.8" cy="312.9" r="4.65"/>
<circle cx="170.6" cy="322.4" r="4.65"/>
<circle cx="168.7" cy="324.3" r="4.65"/>
<circle cx="189.9" cy="318.4" r="4.65"/>
<circle cx="188.7" cy="319.3" r="4.65"/>
<circle cx="180.4" cy="313.1" r="4.65"/>
<circle cx="181.7" cy="313.0" r="4.65"/>
<circle cx="172.5" cy="316.2" r="4.65"/>
<circle cx="174.1" cy="314.5" r="4.65"/>
<circle cx="178.9" cy="329.3" r="4.65"/>
<circle cx="180.0" cy="327.3" r="4.65"/>
<circle cx="183.1" cy="317.1" r="4.65"/>
<circle cx="182.7" cy="317.4" r="4.65"/>
<circle cx="187.4" cy="324.6" r="4.65"/>
<circle cx="187.0" cy="325.1" r="4.65"/>
<circle cx="178.6" cy="309.4" r="4.65"/>
<circle cx="178.2" cy="309.7" r="4.65"/>
<circle cx="176.9" cy="322.0" r="4.65"/>
<circle cx="177.1" cy="322.7" r="4.65"/>
<circle cx="181.0" cy="321.4" r="4.65"/>
<circle cx="180.4" cy="322.2" r="4.65"/>
<circle cx="166.2" cy="315.4" r="4.65"/>
<circle cx="168.3" cy="313.6" r="4.65"/>
<circle cx="186.2" cy="318.7" r="4.65"/>
<circle cx="186.2" cy="320.6" r="4.65"/>
<circle cx="180.3" cy="318.1" r="4.65"/>
<circle cx="181.8" cy="320.1" r="4.65"/>
<circle cx="187.5" cy="318.0" r="4.65"/>
<circle cx="188.5" cy="316.3" r="4.65"/>
<circle cx="185.4" cy="327.8" r="4.65"/>
<circle cx="186.8" cy="329.9" r="4.65"/>
<circle cx="171.0" cy="312.8" r="4.65"/>
<circle cx="173.1" cy="311.1" r="4.65"/>
<circle cx="176.8" cy="316.0" r="4.65"/>
<circle cx="175.7" cy="316.3" r="4.65"/>
<circle cx="169.0" cy="321.4" r="4.65"/>
<circle cx="167.1" cy="319.3" r="4.65"/>
<circle cx="183.0" cy="326.5" r="4.65"/>
<circle cx="182.1" cy="325.4" r="4.65"/>
<circle cx="177.3" cy="308.3" r="4.65"/>
<circle cx="176.1" cy="310.4" r="4.65"/>
<circle cx="175.6" cy="320.0" r="4.65"/>
<circle cx="176.5" cy="320.4" r="4.65"/>
<circle cx="181.9" cy="316.4" r="4.65"/>
<circle cx="179.7" cy="314.8" r="4.65"/>
<circle cx="166.6" cy="316.1" r="4.65"/>
<circle cx="167.4" cy="315.7" r="4.65"/>
<circle cx="166.2" cy="312.4" r="4.65"/>
<circle cx="166.0" cy="311.7" r="4.65"/>
<circle cx="177.9" cy="328.9" r="4.65"/>
<circle cx="175.7" cy="329.0" r="4.65"/>
<circle cx="189.3" cy="349.9" r="4.65"/>
<circle cx="188.1" cy="350.7" r="4.65"/>
<circle cx="159.3" cy="338.7" r="4.65"/>
<circle cx="160.1" cy="337.4" r="4.65"/>
<circle cx="181.8" cy="353.4" r="4.65"/>
<circle cx="182.1" cy="352.4" r="4.65"/>
<circle cx="175.5" cy="339.2" r="4.65"/>
<circle cx="173.5" cy="339.8" r="4.65"/>
<circle cx="158.2" cy="341.4" r="4.65"/>
<circle cx="158.8" cy="340.4" r="4.65"/>
<circle cx="156.9" cy="344.2" r="4.65"/>
<circle cx="157.2" cy="345.6" r="4.65"/>
<circle cx="187.6" cy="355.2" r="4.65"/>
<circle cx="189.2" cy="354.3" r="4.65"/>
<circle cx="170.6" cy="348.1" r="4.65"/>
<circle cx="169.9" cy="350.2" r="4.65"/>
<circle cx="154.2" cy="346.6" r="4.65"/>
<circle cx="152.9" cy="345.3" r="4.65"/>
<circle cx="182.6" cy="338.9" r="4.65"/>
<circle cx="181.2" cy="338.6" r="4.65"/>
<circle cx="182.6" cy="342.0" r="4.65"/>
<circle cx="184.5" cy="343.0" r="4.65"/>
<circle cx="174.8" cy="350.1" r="4.65"/>
<circle cx="173.3" cy="349.3" r="4.65"/>
<circle cx="189.5" cy="347.0" r="4.65"/>
<circle cx="191.7" cy="345.3" r="4.65"/>
<circle cx="180.7" cy="356.1" r="4.65"/>
<circle cx="181.1" cy="356.4" r="4.65"/>
<circle cx="185.4" cy="345.8" r="4.65"/>
<circle cx="183.7" cy="345.3" r="4.65"/>
<circle cx="148.0" cy="344.9" r="4.65"/>
<circle cx="146.5" cy="343.1" r="4.65"/>
<circle cx="152.5" cy="346.3" r="4.65"/>
<circle cx="153.1" cy="347.8" r="4.65"/>
<circle cx="153.0" cy="350.2" r="4.65"/>
<circle cx="154.4" cy="351.7" r="4.65"/>
<circle cx="188.7" cy="351.1" r="4.65"/>
<circle cx="190.3" cy="350.0" r="4.65"/>
<circle cx="170.0" cy="336.2" r="4.65"/>
<circle cx="168.9" cy="338.2" r="4.65"/>
<circle cx="161.5" cy="348.2" r="4.65"/>
<circle cx="161.5" cy="348.9" r="4.65"/>
<circle cx="177.7" cy="351.2" r="4.65"/>
<circle cx="176.3" cy="350.6" r="4.65"/>
<circle cx="150.7" cy="339.3" r="4.65"/>
<circle cx="151.7" cy="338.6" r="4.65"/>
<circle cx="145.3" cy="345.5" r="4.65"/>
<circle cx="145.0" cy="345.9" r="4.65"/>
<circle cx="188.0" cy="342.4" r="4.65"/>
<circle cx="186.2" cy="341.3" r="4.65"/>
<circle cx="166.1" cy="349.7" r="4.65"/>
<circle cx="167.0" cy="351.2" r="4.65"/>
<circle cx="185.4" cy="349.7" r="4.65"/>
<circle cx="183.3" cy="347.9" r="4.65"/>
<circle cx="183.7" cy="354.8" r="4.65"/>
<circle cx="185.6" cy="353.9" r="4.65"/>
<circle cx="190.6" cy="359.9" r="4.65"/>
<circle cx="189.0" cy="358.0" r="4.65"/>
<circle cx="174.3" cy="354.1" r="4.65"/>
<circle cx="174.2" cy="356.1" r="4.65"/>
<circle cx="171.3" cy="340.0" r="4.65"/>
<circle cx="171.2" cy="341.5" r="4.65"/>
<circle cx="179.4" cy="355.1" r="4.65"/>
<circle cx="178.2" cy="354.6" r="4.65"/>
<circle cx="173.4" cy="345.2" r="4.65"/>
<circle cx="175.2" cy="344.3" r="4.65"/>
<circle cx="151.5" cy="335.2" r="4.65"/>
<circle cx="149.6" cy="336.1" r="4.65"/>
<circle cx="176.8" cy="346.9" r="4.65"/>
<circle cx="176.2" cy="347.7" r="4.65"/>
<circle cx="181.6" cy="340.8" r="4.65"/>
<circle cx="181.7" cy="341.3" r="4.65"/>
<circle cx="189.9" cy="344.7" r="4.65"/>
<circle cx="188.6" cy="344.2" r="4.65"/>
<circle cx="179.0" cy="345.2" r="4.65"/>
<circle cx="178.2" cy="344.6" r="4.65"/>
<circle cx="149.6" cy="337.6" r="4.65"/>
<circle cx="148.0" cy="339.6" r="4.65"/>
<circle cx="164.3" cy="338.5" r="4.65"/>
<circle cx="165.5" cy="338.4" r="4.65"/>
<circle cx="166.2" cy="348.7" r="4.65"/>
<circle cx="164.3" cy="350.2" r="4.65"/>
<circle cx="163.4" cy="342.6" r="4.65"/>
<circle cx="164.7" cy="343.5" r="4.65"/>
<circle cx="150.0" cy="351.4" r="4.65"/>
<circle cx="148.4" cy="350.6" r="4.65"/>
<circle cx="186.3" cy="341.3" r="4.65"/>
<circle cx="184.8" cy="339.4" r="4.65"/>
<circle cx="168.5" cy="347.3" r="4.65"/>
<circle cx="170.6" cy="347.0" r="4.65"/>
<circle cx="174.6" cy="353.6" r="4.65"/>
<circle cx="174.0" cy="353.0" r="4.65"/>
<circle cx="156.7" cy="349.3" r="4.65"/>
<circle cx="156.8" cy="348.3" r="4.65"/>
<circle cx="191.4" cy="358.8" r="4.65"/>
<circle cx="191.6" cy="358.8" r="4.65"/>
<circle cx="179.1" cy="351.5" r="4.65"/>
<circle cx="179.5" cy="352.1" r="4.65"/>
<circle cx="190.3" cy="356.8" r="4.65"/>
<circle cx="191.4" cy="355.5" r="4.65"/>
<circle cx="188.9" cy="345.2" r="4.65"/>
<circle cx="186.9" cy="347.3" r="4.65"/>
<circle cx="157.8" cy="336.8" r="4.65"/>
<circle cx="157.2" cy="336.6" r="4.65"/>
<circle cx="163.9" cy="355.8" r="4.65"/>
<circle cx="164.9" cy="354.3" r="4.65"/>
<circle cx="166.6" cy="340.5" r="4.65"/>
<circle cx="167.2" cy="341.7" r="4.65"/>
<circle cx="186.6" cy="358.1" r="4.65"/>
<circle cx="186.3" cy="359.8" r="4.65"/>
<circle cx="163.4" cy="355.9" r="4.65"/>
<circle cx="162.3" cy="354.1" r="4.65"/>
<circle cx="169.9" cy="346.6" r="4.65"/>
<circle cx="169.8" cy="344.6" r="4.65"/>
<circle cx="178.8" cy="356.3" r="4.65"/>
<circle cx="178.6" cy="357.7" r="4.65"/>
<circle cx="172.3" cy="342.1" r="4.65"/>
<circle cx="173.9" cy="342.1" r="4.65"/>
<circle cx="172.8" cy="353.1" r="4.65"/>
<circle cx="170.8" cy="353.6" r="4.65"/>
<circle cx="162.0" cy="341.1" r="4.65"/>
<circle cx="163.0" cy="339.3" r="4.65"/>
<circle cx="191.0" cy="343.1" r="4.65"/>
<circle cx="190.8" cy="342.7" r="4.65"/>
<circle cx="148.3" cy="342.5" r="4.65"/>
<circle cx="149.2" cy="344.7" r="4.65"/>
<circle cx="156.3" cy="348.5" r="4.65"/>
<circle cx="157.9" cy="350.2" r="4.65"/>
<circle cx="182.6" cy="346.5" r="4.65"/>
<circle cx="180.8" cy="344.7" r="4.65"/>
<circle cx="157.6" cy="339.4" r="4.65"/>
<circle cx="156.2" cy="340.7" r="4.65"/>
<circle cx="153.7" cy="338.0" r="4.65"/>
<circle cx="153.7" cy="337.2" r="4.65"/>
<circle cx="176.3" cy="342.5" r="4.65"/>
<circle cx="176.5" cy="340.9" r="4.65"/>
<circle cx="153.5" cy="338.2" r="4.65"/>
<circle cx="153.3" cy="340.3" r="4.65"/>
<circle cx="189.4" cy="339.7" r="4.65"/>
<circle cx="188.9" cy="339.2" r="4.65"/>
<circle cx="159.1" cy="341.5" r="4.65"/>
<circle cx="160.8" cy="341.4" r="4.65"/>
<circle cx="165.2" cy="346.4" r="4.65"/>
<circle cx="166.7" cy="347.9" r="4.65"/>
<circle cx="180.4" cy="349.8" r="4.65"/>
<circle cx="180.6" cy="347.6" r="4.65"/>
<circle cx="157.9" cy="352.3" r="4.65"/>
<circle cx="158.7" cy="353.4" r="4.65"/>
<circle cx="158.5" cy="345.3" r="4.65"/>
<circle cx="160.1" cy="346.7" r="4.65"/>
<circle cx="170.6" cy="345.0" r="4.65"/>
<circle cx="172.4" cy="344.2" r="4.65"/>
<circle cx="191.2" cy="362.7" r="4.65"/>
<circle cx="191.6" cy="361.8" r="4.65"/>
<circle cx="191.0" cy="344.7" r="4.65"/>
<circle cx="189.4" cy="346.8" r="4.65"/>
<circle cx="171.9" cy="345.2" r="4.65"/>
<circle cx="173.4" cy="346.6" r="4.65"/>
<circle cx="169.2" cy="356.8" r="4.65"/>
<circle cx="169.4" cy="355.8" r="4.65"/>
<circle cx="179.0" cy="338.8" r="4.65"/>
<circle cx="178.7" cy="339.2" r="4.65"/>
<circle cx="174.3" cy="358.5" r="4.65"/>
<circle cx="175.8" cy="357.7" r="4.65"/>
<circle cx="158.3" cy="342.1" r="4.65"/>
<circle cx="158.7" cy="343.6" r="4.65"/>
<circle cx="189.9" cy="353.0" r="4.65"/>
<circle cx="191.3" cy="352.9" r="4.65"/>
<circle cx="183.1" cy="352.1" r="4.65"/>
<circle cx="184.2" cy="351.8" r="4.65"/>
<circle cx="162.3" cy="346.2" r="4.65"/>
<circle cx="164.2" cy="346.9" r="4.65"/>
<circle cx="184.9" cy="358.6" r="4.65"/>
<circle cx="184.0" cy="358.8" r="4.65"/>
<circle cx="151.2" cy="342.0" r="4.65"/>
<circle cx="151.4" cy="342.7" r="4.65"/>
<circle cx="179.7" cy="348.0" r="4.65"/>
<circle cx="181.6" cy="350.0" r="4.65"/>
<circle cx="151.0" cy="351.2" r="4.65"/>
<circle cx="152.6" cy="353.4" r="4.65"/>
<circle cx="185.0" cy="355.5" r="4.65"/>
<circle cx="186.4" cy="356.1" r="4.65"/>
<circle cx="193.0" cy="338.3" r="4.65"/>
<circle cx="192.8" cy="339.8" r="4.65"/>
<circle cx="161.4" cy="346.3" r="4.65"/>
<circle cx="162.3" cy="344.8" r="4.65"/>
<circle cx="152.1" cy="347.0" r="4.65"/>
<circle cx="150.0" cy="348.5" r="4.65"/>
<circle cx="178.4" cy="343.4" r="4.65"/>
<circle cx="179.1" cy="342.2" r="4.65"/>
<circle cx="172.8" cy="357.0" r="4.65"/>
<circle cx="171.7" cy="356.4" r="4.65"/>
<circle cx="176.6" cy="348.7" r="4.65"/>
<circle cx="178.4" cy="348.3" r="4.65"/>
<circle cx="153.0" cy="347.3" r="4.65"/>
<circle cx="155.1" cy="346.2" r="4.65"/>
<circle cx="188.3" cy="360.1" r="4.65"/>
<circle cx="188.5" cy="361.5" r="4.65"/>
<circle cx="187.9" cy="341.4" r="4.65"/>
<circle cx="188.9" cy="341.6" r="4.65"/>
<circle cx="156.2" cy="345.4" r="4.65"/>
<circle cx="154.8" cy="343.2" r="4.65"/>
<circle cx="165.2" cy="346.4" r="4.65"/>
<circle cx="167.3" cy="344.7" r="4.65"/>
<circle cx="192.1" cy="350.7" r="4.65"/>
<circle cx="192.8" cy="351.0" r="4.65"/>
<circle cx="185.2" cy="354.8" r="4.65"/>
<circle cx="183.6" cy="356.3" r="4.65"/>
<circle cx="157.7" cy="351.8" r="4.65"/>
<circle cx="155.7" cy="353.8" r="4.65"/>
<circle cx="165.8" cy="356.0" r="4.65"/>
<circle cx="167.1" cy="356.4" r="4.65"/>
<circle cx="285.3" cy="88.3" r="4.65"/>
<circle cx="293.7" cy="89.2" r="4.65"/>
<circle cx="306.9" cy="93.2" r="4.65"/>
<circle cx="292.4" cy="98.5" r="4.65"/>
<circle cx="304.2" cy="98.5" r="4.65"/>
<circle cx="317.8" cy="102.0" r="4.65"/>
<circle cx="303.8" cy="103.7" r="4.65"/>
<circle cx="280.5" cy="109.9" r="4.65"/>
<circle cx="291.0" cy="109.4" r="4.65"/>
<circle cx="277.0" cy="117.8" r="4.65"/>
<circle cx="306.9" cy="115.6" r="4.65"/>
<circle cx="264.2" cy="122.2" r="4.65"/>
<circle cx="316.1" cy="119.6" r="4.65"/>
<circle cx="299.4" cy="121.9" r="4.65"/>
<circle cx="299.8" cy="123.1" r="4.65"/>
<circle cx="286.6" cy="125.3" r="4.65"/>
<circle cx="292.4" cy="117.7" r="4.65"/>
<circle cx="293.7" cy="118.7" r="4.65"/>
<circle cx="309.5" cy="109.0" r="4.65"/>
<circle cx="296.5" cy="130.0" r="4.65"/>
<circle cx="295.4" cy="131.0" r="4.65"/>
<circle cx="303.8" cy="129.5" r="4.65"/>
<circle cx="304.2" cy="128.8" r="4.65"/>
<circle cx="267.3" cy="134.9" r="4.65"/>
<circle cx="276.1" cy="140.6" r="4.65"/>
<circle cx="284.0" cy="145.5" r="4.65"/>
<circle cx="291.0" cy="137.6" r="4.65"/>
<circle cx="297.2" cy="151.6" r="4.65"/>
<circle cx="315.6" cy="132.7" r="4.65"/>
<circle cx="306.1" cy="138.9" r="4.65"/>
<circle cx="306.0" cy="137.1" r="4.65"/>
<circle cx="298.9" cy="143.8" r="4.65"/>
<circle cx="298.9" cy="144.2" r="4.65"/>
<circle cx="306.9" cy="141.5" r="4.65"/>
<circle cx="276.1" cy="145.9" r="4.65"/>
<circle cx="295.4" cy="147.2" r="4.65"/>
<circle cx="342.9" cy="88.8" r="4.65"/>
<circle cx="338.9" cy="102.9" r="4.65"/>
<circle cx="338.1" cy="109.9" r="4.65"/>
<circle cx="327.9" cy="117.4" r="4.65"/>
<circle cx="339.4" cy="125.7" r="4.65"/>
<circle cx="324.4" cy="127.9" r="4.65"/>
<circle cx="331.5" cy="130.5" r="4.65"/>
<circle cx="320.0" cy="142.4" r="4.65"/>
<circle cx="324.4" cy="152.1" r="4.65"/>
<circle cx="319.6" cy="150.9" r="4.65"/>
<circle cx="319.2" cy="152.1" r="4.65"/>
<circle cx="341.1" cy="147.7" r="4.65"/>
<circle cx="346.6" cy="110.2" r="4.65"/>
<circle cx="359.5" cy="110.8" r="4.65"/>
<circle cx="352.5" cy="115.5" r="4.65"/>
<circle cx="363.0" cy="121.4" r="4.65"/>
<circle cx="372.4" cy="126.1" r="4.65"/>
<circle cx="380.6" cy="111.4" r="4.65"/>
<circle cx="382.8" cy="120.9" r="4.65"/>
<circle cx="381.2" cy="121.4" r="4.65"/>
<circle cx="391.2" cy="122.0" r="4.65"/>
<circle cx="373.6" cy="103.2" r="4.65"/>
<circle cx="398.2" cy="103.8" r="4.65"/>
<circle cx="400.6" cy="115.5" r="4.65"/>
<circle cx="408.3" cy="121.5" r="4.65"/>
<circle cx="408.8" cy="120.8" r="4.65"/>
<circle cx="417.0" cy="120.2" r="4.65"/>
<circle cx="425.2" cy="123.7" r="4.65"/>
<circle cx="409.9" cy="129.0" r="4.65"/>
<circle cx="395.9" cy="134.8" r="4.65"/>
<circle cx="378.3" cy="138.9" r="4.65"/>
<circle cx="368.9" cy="134.8" r="4.65"/>
<circle cx="361.3" cy="132.5" r="4.65"/>
<circle cx="356.0" cy="126.6" r="4.65"/>
<circle cx="346.1" cy="139.5" r="4.65"/>
<circle cx="349.0" cy="154.2" r="4.65"/>
<circle cx="359.5" cy="158.9" r="4.65"/>
<circle cx="370.1" cy="151.3" r="4.65"/>
<circle cx="371.8" cy="158.9" r="4.65"/>
<circle cx="344.9" cy="163.0" r="4.65"/>
<circle cx="330.0" cy="166.0" r="4.65"/>
<circle cx="331.4" cy="165.3" r="4.65"/>
<circle cx="323.2" cy="167.7" r="4.65"/>
<circle cx="334.9" cy="171.2" r="4.65"/>
<circle cx="325.8" cy="158.2" r="4.65"/>
<circle cx="324.4" cy="158.9" r="4.65"/>
<circle cx="387.7" cy="130.2" r="4.65"/>
<circle cx="391.2" cy="145.4" r="4.65"/>
<circle cx="402.9" cy="144.8" r="4.65"/>
<circle cx="412.3" cy="144.2" r="4.65"/>
<circle cx="387.7" cy="154.8" r="4.65"/>
<circle cx="400.0" cy="153.7" r="4.65"/>
<circle cx="398.2" cy="153.6" r="4.65"/>
<circle cx="406.4" cy="155.4" r="4.65"/>
<circle cx="415.8" cy="151.3" r="4.65"/>
<circle cx="399.3" cy="163.4" r="4.65"/>
<circle cx="398.2" cy="163.6" r="4.65"/>
<circle cx="406.0" cy="162.0" r="4.65"/>
<circle cx="406.4" cy="163.0" r="4.65"/>
<circle cx="395.9" cy="168.8" r="4.65"/>
<circle cx="411.1" cy="168.8" r="4.65"/>
<circle cx="359.5" cy="174.7" r="4.65"/>
<circle cx="370.7" cy="172.9" r="4.65"/>
<circle cx="376.5" cy="176.4" r="4.65"/>
<circle cx="366.9" cy="181.1" r="4.65"/>
<circle cx="368.9" cy="182.3" r="4.65"/>
<circle cx="363.6" cy="180.6" r="4.65"/>
<circle cx="596.7" cy="9.1" r="4.65"/>
<circle cx="600.2" cy="19.6" r="4.65"/>
<circle cx="588.5" cy="19.1" r="4.65"/>
<circle cx="584.4" cy="24.3" r="4.65"/>
<circle cx="595.5" cy="26.7" r="4.65"/>
<circle cx="609.0" cy="34.3" r="4.65"/>
<circle cx="600.2" cy="43.1" r="4.65"/>
<circle cx="611.3" cy="47.8" r="4.65"/>
<circle cx="605.7" cy="51.4" r="4.65"/>
<circle cx="603.7" cy="51.3" r="4.65"/>
<circle cx="596.1" cy="55.4" r="4.65"/>
<circle cx="616.6" cy="70.0" r="4.65"/>
<circle cx="592.6" cy="67.1" r="4.65"/>
<circle cx="597.3" cy="79.4" r="4.65"/>
<circle cx="582.0" cy="81.8" r="4.65"/>
<circle cx="572.7" cy="79.4" r="4.65"/>
<circle cx="569.1" cy="89.4" r="4.65"/>
<circle cx="548.0" cy="90.6" r="4.65"/>
<circle cx="537.5" cy="88.8" r="4.65"/>
<circle cx="508.8" cy="91.7" r="4.65"/>
<circle cx="515.2" cy="74.1" r="4.65"/>
<circle cx="508.8" cy="69.5" r="4.65"/>
<circle cx="511.7" cy="58.9" r="4.65"/>
<circle cx="524.6" cy="44.3" r="4.65"/>
<circle cx="535.7" cy="40.7" r="4.65"/>
<circle cx="541.0" cy="44.8" r="4.65"/>
<circle cx="546.9" cy="40.2" r="4.65"/>
<circle cx="556.3" cy="23.8" r="4.65"/>
<circle cx="569.1" cy="23.2" r="4.65"/>
<circle cx="571.5" cy="30.2" r="4.65"/>
<circle cx="560.9" cy="35.5" r="4.65"/>
<circle cx="585.0" cy="33.7" r="4.65"/>
<circle cx="558.0" cy="47.8" r="4.65"/>
<circle cx="571.5" cy="48.4" r="4.65"/>
<circle cx="583.2" cy="49.5" r="4.65"/>
<circle cx="593.8" cy="49.5" r="4.65"/>
<circle cx="570.3" cy="55.4" r="4.65"/>
<circle cx="584.4" cy="62.4" r="4.65"/>
<circle cx="568.0" cy="68.3" r="4.65"/>
<circle cx="559.2" cy="67.7" r="4.65"/>
<circle cx="548.6" cy="64.2" r="4.65"/>
<circle cx="531.1" cy="65.4" r="4.65"/>
<circle cx="534.0" cy="54.2" r="4.65"/>
<circle cx="532.2" cy="74.7" r="4.65"/>
<circle cx="552.6" cy="79.3" r="4.65"/>
<circle cx="552.7" cy="77.7" r="4.65"/>
<circle cx="561.5" cy="78.2" r="4.65"/>
<circle cx="519.9" cy="65.9" r="4.65"/>
<circle cx="519.9" cy="49.5" r="4.65"/>
<circle cx="584.4" cy="77.1" r="4.65"/>
<circle cx="545.7" cy="98.4" r="4.65"/>
<circle cx="568.6" cy="94.3" r="4.65"/>
<circle cx="588.5" cy="96.6" r="4.65"/>
<circle cx="548.0" cy="83.7" r="4.65"/>
<circle cx="544.5" cy="72.6" r="4.65"/>
<circle cx="279.3" cy="324.4" r="4.65"/>
<circle cx="285.7" cy="332.4" r="4.65"/>
<circle cx="267.3" cy="336.5" r="4.65"/>
<circle cx="252.1" cy="336.5" r="4.65"/>
<circle cx="234.3" cy="338.8" r="4.65"/>
<circle cx="242.5" cy="341.8" r="4.65"/>
<circle cx="226.0" cy="349.2" r="4.65"/>
<circle cx="211.4" cy="351.7" r="4.65"/>
<circle cx="219.5" cy="357.5" r="4.65"/>
<circle cx="219.0" cy="355.5" r="4.65"/>
<circle cx="231.7" cy="356.2" r="4.65"/>
<circle cx="248.2" cy="358.1" r="4.65"/>
<circle cx="263.5" cy="353.0" r="4.65"/>
<circle cx="274.3" cy="360.6" r="4.65"/>
<circle cx="220.9" cy="363.8" r="4.65"/>
<circle cx="239.4" cy="364.4" r="4.65"/>
<circle cx="255.9" cy="361.9" r="4.65"/>
<circle cx="263.5" cy="370.8" r="4.65"/>
<circle cx="253.3" cy="375.9" r="4.65"/>
<circle cx="244.4" cy="382.8" r="4.65"/>
<circle cx="224.1" cy="384.7" r="4.65"/>
<circle cx="233.0" cy="384.7" r="4.65"/>
<circle cx="210.2" cy="377.1" r="4.65"/>
<circle cx="202.0" cy="379.8" r="4.65"/>
<circle cx="202.5" cy="380.9" r="4.65"/>
<circle cx="209.3" cy="387.8" r="4.65"/>
<circle cx="207.6" cy="389.2" r="4.65"/>
<circle cx="212.7" cy="396.2" r="4.65"/>
<circle cx="233.0" cy="393.0" r="4.65"/>
<circle cx="243.2" cy="394.9" r="4.65"/>
<circle cx="253.3" cy="396.2" r="4.65"/>
<circle cx="259.7" cy="385.4" r="4.65"/>
<circle cx="271.1" cy="380.3" r="4.65"/>
<circle cx="274.9" cy="384.1" r="4.65"/>
<circle cx="281.1" cy="376.2" r="4.65"/>
<circle cx="280.0" cy="375.9" r="4.65"/>
<circle cx="283.2" cy="368.7" r="4.65"/>
<circle cx="281.2" cy="367.0" r="4.65"/>
<circle cx="290.1" cy="362.5" r="4.65"/>
<circle cx="291.4" cy="375.2" r="4.65"/>
<circle cx="300.3" cy="384.7" r="4.65"/>
<circle cx="306.6" cy="368.2" r="4.65"/>
<circle cx="317.4" cy="369.5" r="4.65"/>
<circle cx="320.0" cy="383.5" r="4.65"/>
<circle cx="311.1" cy="385.4" r="4.65"/>
<circle cx="311.7" cy="394.9" r="4.65"/>
<circle cx="288.9" cy="407.6" r="4.65"/>
<circle cx="254.0" cy="407.6" r="4.65"/>
<circle cx="263.5" cy="411.4" r="4.65"/>
<circle cx="234.3" cy="413.9" r="4.65"/>
<circle cx="210.2" cy="407.6" r="4.65"/>
<circle cx="202.5" cy="370.8" r="4.65"/>
<circle cx="202.5" cy="393.6" r="4.65"/>
<circle cx="297.8" cy="417.8" r="4.65"/>
<circle cx="149.7" cy="342.2" r="4.65"/>
<circle cx="156.9" cy="345.3" r="4.65"/>
<circle cx="156.3" cy="347.1" r="4.65"/>
<circle cx="139.3" cy="352.0" r="4.65"/>
<circle cx="132.2" cy="354.2" r="4.65"/>
<circle cx="149.7" cy="356.4" r="4.65"/>
<circle cx="158.7" cy="353.6" r="4.65"/>
<circle cx="160.6" cy="353.7" r="4.65"/>
<circle cx="172.9" cy="349.3" r="4.65"/>
<circle cx="171.6" cy="350.9" r="4.65"/>
<circle cx="180.0" cy="348.7" r="4.65"/>
<circle cx="180.3" cy="350.4" r="4.65"/>
<circle cx="191.8" cy="352.6" r="4.65"/>
<circle cx="178.7" cy="359.7" r="4.65"/>
<circle cx="187.4" cy="343.3" r="4.65"/>
<circle cx="198.9" cy="360.8" r="4.65"/>
<circle cx="172.1" cy="369.5" r="4.65"/>
<circle cx="185.3" cy="372.3" r="4.65"/>
<circle cx="190.7" cy="366.8" r="4.65"/>
<circle cx="150.2" cy="371.7" r="4.65"/>
<circle cx="157.9" cy="381.0" r="4.65"/>
<circle cx="150.8" cy="388.1" r="4.65"/>
<circle cx="162.1" cy="384.0" r="4.65"/>
<circle cx="162.8" cy="386.0" r="4.65"/>
<circle cx="153.5" cy="395.3" r="4.65"/>
<circle cx="161.6" cy="392.6" r="4.65"/>
<circle cx="162.3" cy="392.5" r="4.65"/>
<circle cx="170.5" cy="392.5" r="4.65"/>
<circle cx="171.5" cy="385.5" r="4.65"/>
<circle cx="172.7" cy="384.3" r="4.65"/>
<circle cx="178.0" cy="387.5" r="4.65"/>
<circle cx="179.8" cy="388.7" r="4.65"/>
<circle cx="188.5" cy="387.6" r="4.65"/>
<circle cx="181.4" cy="398.0" r="4.65"/>
<circle cx="198.0" cy="387.8" r="4.65"/>
<circle cx="198.9" cy="388.1" r="4.65"/>
<circle cx="173.2" cy="404.0" r="4.65"/>
<circle cx="160.6" cy="410.6" r="4.65"/>
<circle cx="148.6" cy="406.7" r="4.65"/>
<circle cx="137.1" cy="406.7" r="4.65"/>
<circle cx="134.9" cy="390.9" r="4.65"/>
<circle cx="138.2" cy="429.2" r="4.65"/>
<circle cx="205.5" cy="412.8" r="4.65"/>
<circle cx="202.2" cy="418.8" r="4.65"/>
<circle cx="179.2" cy="426.4" r="4.65"/>
<circle cx="170.5" cy="430.8" r="4.65"/>
<circle cx="184.7" cy="434.1" r="4.65"/>
<circle cx="167.9" cy="446.8" r="4.65"/>
<circle cx="179.7" cy="447.4" r="4.65"/>
<circle cx="185.0" cy="465.2" r="4.65"/>
<circle cx="178.4" cy="473.0" r="4.65"/>
<circle cx="173.8" cy="482.2" r="4.65"/>
<circle cx="178.4" cy="490.8" r="4.65"/>
<circle cx="182.3" cy="500.0" r="4.65"/>
<circle cx="198.7" cy="498.6" r="4.65"/>
<circle cx="206.6" cy="490.8" r="4.65"/>
<circle cx="223.0" cy="489.4" r="4.65"/>
<circle cx="225.7" cy="500.6" r="4.65"/>
<circle cx="235.5" cy="509.8" r="4.65"/>
<circle cx="231.6" cy="519.7" r="4.65"/>
<circle cx="256.5" cy="522.3" r="4.65"/>
<circle cx="276.2" cy="519.0" r="4.65"/>
<circle cx="274.2" cy="503.9" r="4.65"/>
<circle cx="278.2" cy="468.4" r="4.65"/>
<circle cx="267.7" cy="466.5" r="4.65"/>
<circle cx="276.2" cy="439.5" r="4.65"/>
<circle cx="270.3" cy="424.4" r="4.65"/>
<circle cx="284.1" cy="424.4" r="4.65"/>
<circle cx="254.6" cy="469.1" r="4.65"/>
<circle cx="259.8" cy="449.4" r="4.65"/>
<circle cx="14.3" cy="607.6" r="4.65"/>
<circle cx="13.3" cy="608.2" r="4.65"/>
<circle cx="22.4" cy="616.5" r="4.65"/>
<circle cx="21.6" cy="614.8" r="4.65"/>
<circle cx="13.5" cy="621.3" r="4.65"/>
<circle cx="14.9" cy="619.8" r="4.65"/>
<circle cx="16.2" cy="601.7" r="4.65"/>
<circle cx="15.8" cy="600.7" r="4.65"/>
<circle cx="24.9" cy="599.9" r="4.65"/>
<circle cx="7.9" cy="604.5" r="4.65"/>
<circle cx="7.5" cy="604.9" r="4.65"/>
<circle cx="24.1" cy="605.1" r="4.65"/>
<circle cx="25.7" cy="606.5" r="4.65"/>
<circle cx="3.7" cy="609.4" r="4.65"/>
<circle cx="5.0" cy="610.7" r="4.65"/>
<circle cx="10.2" cy="610.4" r="4.65"/>
<circle cx="11.6" cy="611.5" r="4.65"/>
<circle cx="20.2" cy="611.8" r="4.65"/>
<circle cx="19.9" cy="610.7" r="4.65"/>
<circle cx="28.6" cy="614.6" r="4.65"/>
<circle cx="27.4" cy="613.2" r="4.65"/>
<circle cx="5.1" cy="619.5" r="4.65"/>
<circle cx="6.6" cy="618.2" r="4.65"/>
<circle cx="17.0" cy="615.6" r="4.65"/>
<circle cx="18.3" cy="617.3" r="4.65"/>
<circle cx="31.5" cy="619.0" r="4.65"/>
<circle cx="9.9" cy="624.3" r="4.65"/>
<circle cx="10.8" cy="624.0" r="4.65"/>
<circle cx="19.8" cy="622.8" r="4.65"/>
<circle cx="21.6" cy="624.0" r="4.65"/>
<circle cx="16.2" cy="626.1" r="4.65"/>
<circle cx="16.6" cy="624.8" r="4.65"/>
<circle cx="29.9" cy="633.9" r="4.65"/>
<circle cx="44.0" cy="606.5" r="4.65"/>
<circle cx="55.6" cy="600.7" r="4.65"/>
<circle cx="52.7" cy="610.3" r="4.65"/>
<circle cx="53.1" cy="610.7" r="4.65"/>
<circle cx="66.4" cy="607.4" r="4.65"/>
<circle cx="73.9" cy="607.4" r="4.65"/>
<circle cx="78.3" cy="610.7" r="4.65"/>
<circle cx="78.9" cy="612.4" r="4.65"/>
<circle cx="62.1" cy="611.6" r="4.65"/>
<circle cx="60.6" cy="609.9" r="4.65"/>
<circle cx="51.5" cy="618.6" r="4.65"/>
<circle cx="50.6" cy="619.0" r="4.65"/>
<circle cx="58.7" cy="615.7" r="4.65"/>
<circle cx="58.9" cy="616.5" r="4.65"/>
<circle cx="72.0" cy="617.9" r="4.65"/>
<circle cx="71.4" cy="617.3" r="4.65"/>
<circle cx="79.7" cy="619.0" r="4.65"/>
<circle cx="55.7" cy="627.1" r="4.65"/>
<circle cx="56.4" cy="625.6" r="4.65"/>
<circle cx="64.8" cy="622.8" r="4.65"/>
<circle cx="63.9" cy="624.0" r="4.65"/>
<circle cx="73.0" cy="628.1" r="4.65"/>
<circle cx="64.3" cy="630.5" r="4.65"/>
<circle cx="63.1" cy="629.8" r="4.65"/>
<circle cx="68.7" cy="624.0" r="4.65"/>
<circle cx="69.7" cy="624.8" r="4.65"/>
<circle cx="135.8" cy="600.7" r="4.65"/>
<circle cx="147.7" cy="602.4" r="4.65"/>
<circle cx="131.1" cy="610.7" r="4.65"/>
<circle cx="142.9" cy="606.5" r="4.65"/>
<circle cx="141.9" cy="608.2" r="4.65"/>
<circle cx="156.0" cy="613.2" r="4.65"/>
<circle cx="137.8" cy="617.3" r="4.65"/>
<circle cx="146.7" cy="618.0" r="4.65"/>
<circle cx="146.9" cy="616.2" r="4.65"/>
<circle cx="357.5" cy="382.3" r="4.65"/>
<circle cx="357.1" cy="388.1" r="4.65"/>
<circle cx="358.1" cy="388.1" r="4.65"/>
<circle cx="366.8" cy="397.8" r="4.65"/>
<circle cx="365.1" cy="396.3" r="4.65"/>
<circle cx="366.9" cy="399.8" r="4.65"/>
<circle cx="375.7" cy="398.2" r="4.65"/>
<circle cx="374.5" cy="398.1" r="4.65"/>
<circle cx="372.2" cy="377.6" r="4.65"/>
<circle cx="344.6" cy="386.9" r="4.65"/>
<circle cx="352.2" cy="384.8" r="4.65"/>
<circle cx="350.5" cy="385.8" r="4.65"/>
<circle cx="355.2" cy="394.0" r="4.65"/>
<circle cx="367.5" cy="377.9" r="4.65"/>
<circle cx="377.7" cy="381.7" r="4.65"/>
<circle cx="366.6" cy="388.7" r="4.65"/>
<circle cx="377.7" cy="390.8" r="4.65"/>
<circle cx="320.8" cy="69.1" r="4.65"/>
<circle cx="336.5" cy="62.2" r="4.65"/>
<circle cx="387.3" cy="83.8" r="4.65"/>
<circle cx="298.4" cy="57.1" r="4.65"/>
<circle cx="294.6" cy="60.4" r="4.65"/>
<circle cx="303.7" cy="20.3" r="4.65"/>
<circle cx="302.2" cy="20.7" r="4.65"/>
<circle cx="305.9" cy="24.9" r="4.65"/>
<circle cx="305.3" cy="24.5" r="4.65"/>
<circle cx="288.4" cy="32.2" r="4.65"/>
<circle cx="294.4" cy="36.7" r="4.65"/>
<circle cx="295.3" cy="36.0" r="4.65"/>
<circle cx="304.2" cy="32.6" r="4.65"/>
<circle cx="303.7" cy="30.6" r="4.65"/>
<circle cx="312.8" cy="32.7" r="4.65"/>
<circle cx="312.2" cy="32.9" r="4.65"/>
<circle cx="297.9" cy="44.4" r="4.65"/>
<circle cx="298.4" cy="42.9" r="4.65"/>
<circle cx="305.4" cy="39.7" r="4.65"/>
<circle cx="306.0" cy="39.1" r="4.65"/>
<circle cx="321.3" cy="9.2" r="4.65"/>
<circle cx="310.3" cy="19.5" r="4.65"/>
<circle cx="309.5" cy="17.6" r="4.65"/>
<circle cx="321.7" cy="23.4" r="4.65"/>
<circle cx="295.3" cy="24.1" r="4.65"/>
<circle cx="308.3" cy="26.7" r="4.65"/>
<circle cx="309.5" cy="26.0" r="4.65"/>
<circle cx="291.9" cy="35.2" r="4.65"/>
<circle cx="315.2" cy="39.8" r="4.65"/>
<circle cx="304.5" cy="44.8" r="4.65"/>
<circle cx="365.9" cy="53.2" r="4.65"/>
<circle cx="367.2" cy="52.7" r="4.65"/>
<circle cx="371.6" cy="49.7" r="4.65"/>
<circle cx="354.7" cy="61.0" r="4.65"/>
<circle cx="354.0" cy="60.0" r="4.65"/>
<circle cx="362.1" cy="58.2" r="4.65"/>
<circle cx="360.6" cy="59.2" r="4.65"/>
<circle cx="367.2" cy="64.5" r="4.65"/>
<circle cx="365.8" cy="65.1" r="4.65"/>
<circle cx="374.2" cy="64.3" r="4.65"/>
<circle cx="374.6" cy="65.8" r="4.65"/>
<circle cx="360.8" cy="66.0" r="4.65"/>
<circle cx="360.6" cy="68.0" r="4.65"/>
<circle cx="372.3" cy="74.6" r="4.65"/>
<circle cx="373.1" cy="73.9" r="4.65"/>
<circle cx="378.5" cy="73.3" r="4.65"/>
<circle cx="377.5" cy="74.6" r="4.65"/>
<circle cx="361.8" cy="81.7" r="4.65"/>
<circle cx="360.6" cy="82.0" r="4.65"/>
<circle cx="367.5" cy="88.8" r="4.65"/>
<circle cx="368.7" cy="87.8" r="4.65"/>
<circle cx="372.6" cy="92.1" r="4.65"/>
<circle cx="371.6" cy="92.2" r="4.65"/>
<circle cx="357.7" cy="46.4" r="4.65"/>
<circle cx="347.5" cy="53.0" r="4.65"/>
<circle cx="358.6" cy="54.2" r="4.65"/>
<circle cx="358.4" cy="53.8" r="4.65"/>
<circle cx="372.2" cy="59.6" r="4.65"/>
<circle cx="371.6" cy="58.5" r="4.65"/>
<circle cx="381.9" cy="58.4" r="4.65"/>
<circle cx="380.8" cy="59.6" r="4.65"/>
<circle cx="379.6" cy="66.1" r="4.65"/>
<circle cx="381.5" cy="67.7" r="4.65"/>
<circle cx="355.9" cy="72.4" r="4.65"/>
<circle cx="364.6" cy="73.9" r="4.65"/>
<circle cx="365.4" cy="73.5" r="4.65"/>
<circle cx="373.8" cy="82.4" r="4.65"/>
<circle cx="372.0" cy="82.7" r="4.65"/>
<circle cx="378.8" cy="86.6" r="4.65"/>
<circle cx="379.3" cy="86.4" r="4.65"/>
<circle cx="361.7" cy="87.1" r="4.65"/>
<circle cx="359.9" cy="86.7" r="4.65"/>
<circle cx="352.9" cy="87.8" r="4.65"/>
<circle cx="362.4" cy="95.4" r="4.65"/>
<circle cx="363.2" cy="94.4" r="4.65"/>
<circle cx="405.9" cy="73.6" r="4.65"/>
<circle cx="417.3" cy="75.5" r="4.65"/>
<circle cx="415.3" cy="74.4" r="4.65"/>
<circle cx="421.9" cy="76.2" r="4.65"/>
<circle cx="422.3" cy="77.5" r="4.65"/>
<circle cx="429.2" cy="70.5" r="4.65"/>
<circle cx="429.4" cy="72.0" r="4.65"/>
<circle cx="417.0" cy="82.0" r="4.65"/>
<circle cx="418.4" cy="82.2" r="4.65"/>
<circle cx="433.9" cy="81.4" r="4.65"/>
<circle cx="432.5" cy="80.6" r="4.65"/>
<circle cx="436.9" cy="81.7" r="4.65"/>
<circle cx="437.2" cy="79.8" r="4.65"/>
<circle cx="437.5" cy="82.8" r="4.65"/>
<circle cx="438.8" cy="83.8" r="4.65"/>
<circle cx="402.7" cy="85.6" r="4.65"/>
<circle cx="403.6" cy="85.3" r="4.65"/>
<circle cx="404.4" cy="92.7" r="4.65"/>
<circle cx="402.8" cy="93.1" r="4.65"/>
<circle cx="418.2" cy="91.7" r="4.65"/>
<circle cx="416.9" cy="90.0" r="4.65"/>
<circle cx="420.8" cy="93.9" r="4.65"/>
<circle cx="432.4" cy="89.2" r="4.65"/>
<circle cx="432.5" cy="87.7" r="4.65"/>
<circle cx="438.0" cy="93.0" r="4.65"/>
<circle cx="436.4" cy="93.1" r="4.65"/>
<circle cx="463.0" cy="63.4" r="4.65"/>
<circle cx="429.4" cy="54.8" r="4.65"/>
<circle cx="412.2" cy="67.7" r="4.65"/>
<circle cx="421.4" cy="69.2" r="4.65"/>
<circle cx="422.7" cy="70.9" r="4.65"/>
<circle cx="410.4" cy="83.6" r="4.65"/>
<circle cx="411.4" cy="83.8" r="4.65"/>
<circle cx="406.3" cy="89.3" r="4.65"/>
<circle cx="408.3" cy="90.0" r="4.65"/>
<circle cx="426.2" cy="91.3" r="4.65"/>
<circle cx="426.2" cy="92.0" r="4.65"/>
<circle cx="411.6" cy="97.7" r="4.65"/>
<circle cx="410.6" cy="97.4" r="4.65"/>
<circle cx="435.6" cy="100.2" r="4.65"/>
<circle cx="443.8" cy="71.2" r="4.65"/>
<circle cx="446.2" cy="63.4" r="4.65"/>
<circle cx="455.2" cy="65.0" r="4.65"/>
<circle cx="454.4" cy="50.5" r="4.65"/>
<circle cx="462.2" cy="49.4" r="4.65"/>
<circle cx="466.1" cy="57.2" r="4.65"/>
<circle cx="445.1" cy="81.2" r="4.65"/>
<circle cx="445.0" cy="80.6" r="4.65"/>
<circle cx="454.4" cy="79.8" r="4.65"/>
<circle cx="454.0" cy="88.0" r="4.65"/>
<circle cx="468.5" cy="81.3" r="4.65"/>
<circle cx="482.5" cy="55.4" r="4.65"/>
<circle cx="495.2" cy="71.1" r="4.65"/>
<circle cx="132.0" cy="82.5" r="4.65"/>
<circle cx="165.0" cy="74.2" r="4.65"/>
<circle cx="172.6" cy="76.4" r="4.65"/>
<circle cx="172.2" cy="76.8" r="4.65"/>
<circle cx="156.6" cy="84.4" r="4.65"/>
<circle cx="160.1" cy="80.4" r="4.65"/>
<circle cx="161.5" cy="80.1" r="4.65"/>
<circle cx="165.5" cy="82.1" r="4.65"/>
<circle cx="167.3" cy="84.0" r="4.65"/>
<circle cx="174.5" cy="81.9" r="4.65"/>
<circle cx="175.2" cy="83.0" r="4.65"/>
<circle cx="161.5" cy="88.5" r="4.65"/>
<circle cx="160.5" cy="89.8" r="4.65"/>
<circle cx="165.0" cy="94.7" r="4.65"/>
<circle cx="172.8" cy="94.7" r="4.65"/>
<circle cx="173.9" cy="89.6" r="4.65"/>
<circle cx="174.2" cy="88.9" r="4.65"/>
<circle cx="192.7" cy="89.8" r="4.65"/>
<circle cx="559.7" cy="115.5" r="4.65"/>
<circle cx="573.2" cy="115.5" r="4.65"/>
<circle cx="609.6" cy="104.6" r="4.65"/>
<circle cx="613.4" cy="111.7" r="4.65"/>
<circle cx="610.1" cy="129.7" r="4.65"/>
<circle cx="627.4" cy="122.4" r="4.65"/>
<circle cx="634.5" cy="122.2" r="4.65"/>
<circle cx="634.9" cy="121.0" r="4.65"/>
<circle cx="641.5" cy="129.3" r="4.65"/>
<circle cx="643.0" cy="130.6" r="4.65"/>
<circle cx="650.2" cy="125.8" r="4.65"/>
<circle cx="651.1" cy="126.3" r="4.65"/>
<circle cx="636.2" cy="130.4" r="4.65"/>
<circle cx="635.9" cy="131.6" r="4.65"/>
<circle cx="625.6" cy="139.8" r="4.65"/>
<circle cx="644.7" cy="140.3" r="4.65"/>
<circle cx="644.5" cy="139.5" r="4.65"/>
<circle cx="645.4" cy="146.1" r="4.65"/>
<circle cx="644.8" cy="144.8" r="4.65"/>
<circle cx="648.8" cy="137.7" r="4.65"/>
<circle cx="650.5" cy="137.0" r="4.65"/>
<circle cx="640.2" cy="118.8" r="4.65"/>
<circle cx="651.1" cy="118.1" r="4.65"/>
<circle cx="641.4" cy="125.1" r="4.65"/>
<circle cx="640.5" cy="123.8" r="4.65"/>
<circle cx="627.0" cy="129.5" r="4.65"/>
<circle cx="651.2" cy="131.4" r="4.65"/>
<circle cx="652.6" cy="133.1" r="4.65"/>
<circle cx="639.5" cy="137.9" r="4.65"/>
<circle cx="638.4" cy="137.3" r="4.65"/>
<circle cx="631.3" cy="140.5" r="4.65"/>
<circle cx="637.4" cy="148.8" r="4.65"/>
<circle cx="638.8" cy="147.3" r="4.65"/>
<circle cx="629.2" cy="150.8" r="4.65"/>
<circle cx="671.9" cy="8.6" r="4.65"/>
<circle cx="677.8" cy="8.7" r="4.65"/>
<circle cx="677.0" cy="8.2" r="4.65"/>
<circle cx="673.3" cy="12.9" r="4.65"/>
<circle cx="672.3" cy="12.5" r="4.65"/>
<circle cx="686.1" cy="12.7" r="4.65"/>
<circle cx="686.7" cy="14.5" r="4.65"/>
<circle cx="690.0" cy="19.6" r="4.65"/>
<circle cx="690.6" cy="19.1" r="4.65"/>
<circle cx="661.7" cy="18.8" r="4.65"/>
<circle cx="665.9" cy="30.0" r="4.65"/>
<circle cx="667.2" cy="31.2" r="4.65"/>
<circle cx="682.8" cy="36.7" r="4.65"/>
<circle cx="689.1" cy="28.9" r="4.65"/>
<circle cx="690.6" cy="28.9" r="4.65"/>
<circle cx="681.6" cy="18.9" r="4.65"/>
<circle cx="679.7" cy="18.0" r="4.65"/>
<circle cx="680.1" cy="14.0" r="4.65"/>
<circle cx="682.0" cy="14.5" r="4.65"/>
<circle cx="669.9" cy="17.1" r="4.65"/>
<circle cx="669.1" cy="18.8" r="4.65"/>
<circle cx="660.9" cy="24.7" r="4.65"/>
<circle cx="659.8" cy="25.8" r="4.65"/>
<circle cx="686.9" cy="25.4" r="4.65"/>
<circle cx="687.1" cy="24.2" r="4.65"/>
<circle cx="670.6" cy="26.1" r="4.65"/>
<circle cx="669.1" cy="27.7" r="4.65"/>
<circle cx="677.1" cy="33.5" r="4.65"/>
<circle cx="675.8" cy="32.0" r="4.65"/>
<circle cx="685.3" cy="33.5" r="4.65"/>
<circle cx="684.0" cy="32.4" r="4.65"/>
<circle cx="671.9" cy="39.8" r="4.65"/>
<circle cx="697.7" cy="30.5" r="4.65"/>
<circle cx="718.8" cy="13.7" r="4.65"/>
<circle cx="718.8" cy="27.0" r="4.65"/>
<circle cx="756.5" cy="11.8" r="4.65"/>
<circle cx="763.9" cy="10.1" r="4.65"/>
<circle cx="764.4" cy="10.8" r="4.65"/>
<circle cx="745.8" cy="17.3" r="4.65"/>
<circle cx="747.6" cy="17.7" r="4.65"/>
<circle cx="772.5" cy="16.4" r="4.65"/>
<circle cx="773.3" cy="17.7" r="4.65"/>
<circle cx="779.0" cy="23.2" r="4.65"/>
<circle cx="777.2" cy="21.7" r="4.65"/>
<circle cx="746.9" cy="25.8" r="4.65"/>
<circle cx="745.7" cy="26.6" r="4.65"/>
<circle cx="778.7" cy="28.3" r="4.65"/>
<circle cx="780.2" cy="28.6" r="4.65"/>
<circle cx="768.6" cy="31.9" r="4.65"/>
<circle cx="770.3" cy="32.5" r="4.65"/>
<circle cx="750.0" cy="33.8" r="4.65"/>
<circle cx="749.6" cy="34.5" r="4.65"/>
<circle cx="766.7" cy="34.8" r="4.65"/>
<circle cx="767.3" cy="35.5" r="4.65"/>
<circle cx="776.5" cy="33.6" r="4.65"/>
<circle cx="775.2" cy="35.5" r="4.65"/>
<circle cx="754.8" cy="41.8" r="4.65"/>
<circle cx="753.6" cy="41.4" r="4.65"/>
<circle cx="777.4" cy="42.2" r="4.65"/>
<circle cx="777.2" cy="41.4" r="4.65"/>
<circle cx="786.1" cy="47.3" r="4.65"/>
<circle cx="743.7" cy="52.7" r="4.65"/>
<circle cx="745.7" cy="51.2" r="4.65"/>
<circle cx="757.6" cy="48.9" r="4.65"/>
<circle cx="758.5" cy="49.3" r="4.65"/>
<circle cx="771.3" cy="50.9" r="4.65"/>
<circle cx="771.3" cy="49.3" r="4.65"/>
<circle cx="788.0" cy="57.1" r="4.65"/>
<circle cx="788.9" cy="63.2" r="4.65"/>
<circle cx="790.0" cy="63.1" r="4.65"/>
<circle cx="751.6" cy="58.0" r="4.65"/>
<circle cx="749.6" cy="59.1" r="4.65"/>
<circle cx="754.1" cy="65.7" r="4.65"/>
<circle cx="753.6" cy="67.0" r="4.65"/>
<circle cx="778.2" cy="60.1" r="4.65"/>
<circle cx="766.6" cy="68.7" r="4.65"/>
<circle cx="766.4" cy="69.0" r="4.65"/>
<circle cx="781.4" cy="71.0" r="4.65"/>
<circle cx="781.1" cy="72.9" r="4.65"/>
<circle cx="760.2" cy="76.5" r="4.65"/>
<circle cx="761.4" cy="74.9" r="4.65"/>
<circle cx="766.1" cy="79.0" r="4.65"/>
<circle cx="767.3" cy="79.8" r="4.65"/>
<circle cx="779.2" cy="77.8" r="4.65"/>
<circle cx="777.2" cy="78.8" r="4.65"/>
<circle cx="740.1" cy="59.8" r="4.65"/>
<circle cx="739.8" cy="60.1" r="4.65"/>
<circle cx="735.8" cy="74.9" r="4.65"/>
<circle cx="779.2" cy="82.8" r="4.65"/>
<circle cx="790.0" cy="69.5" r="4.65"/>
<circle cx="792.0" cy="69.0" r="4.65"/>
<circle cx="769.8" cy="8.9" r="4.65"/>
<circle cx="781.6" cy="9.9" r="4.65"/>
<circle cx="756.5" cy="19.0" r="4.65"/>
<circle cx="756.5" cy="17.2" r="4.65"/>
<circle cx="768.3" cy="17.5" r="4.65"/>
<circle cx="766.4" cy="19.2" r="4.65"/>
<circle cx="751.9" cy="23.5" r="4.65"/>
<circle cx="751.6" cy="24.1" r="4.65"/>
<circle cx="762.9" cy="27.8" r="4.65"/>
<circle cx="764.4" cy="26.1" r="4.65"/>
<circle cx="771.6" cy="26.1" r="4.65"/>
<circle cx="773.3" cy="26.1" r="4.65"/>
<circle cx="755.4" cy="32.8" r="4.65"/>
<circle cx="756.5" cy="32.5" r="4.65"/>
<circle cx="761.3" cy="43.3" r="4.65"/>
<circle cx="762.4" cy="41.9" r="4.65"/>
<circle cx="771.0" cy="42.6" r="4.65"/>
<circle cx="771.3" cy="43.8" r="4.65"/>
<circle cx="782.3" cy="45.3" r="4.65"/>
<circle cx="781.1" cy="46.8" r="4.65"/>
<circle cx="753.5" cy="47.3" r="4.65"/>
<circle cx="752.6" cy="48.3" r="4.65"/>
<circle cx="740.3" cy="53.2" r="4.65"/>
<circle cx="779.6" cy="52.7" r="4.65"/>
<circle cx="778.2" cy="53.7" r="4.65"/>
<circle cx="764.0" cy="55.9" r="4.65"/>
<circle cx="763.4" cy="55.2" r="4.65"/>
<circle cx="765.9" cy="63.6" r="4.65"/>
<circle cx="765.9" cy="62.1" r="4.65"/>
<circle cx="777.4" cy="65.9" r="4.65"/>
<circle cx="777.2" cy="67.0" r="4.65"/>
<circle cx="785.2" cy="68.7" r="4.65"/>
<circle cx="785.1" cy="68.0" r="4.65"/>
<circle cx="746.3" cy="65.6" r="4.65"/>
<circle cx="746.7" cy="65.5" r="4.65"/>
<circle cx="757.8" cy="68.0" r="4.65"/>
<circle cx="759.5" cy="69.0" r="4.65"/>
<circle cx="731.4" cy="69.5" r="4.65"/>
<circle cx="747.6" cy="73.4" r="4.65"/>
<circle cx="772.4" cy="72.2" r="4.65"/>
<circle cx="771.3" cy="72.9" r="4.65"/>
<circle cx="794.9" cy="72.9" r="4.65"/>
<circle cx="790.0" cy="77.8" r="4.65"/>
<circle cx="739.3" cy="80.3" r="4.65"/>
<circle cx="754.0" cy="83.7" r="4.65"/>
<circle cx="788.8" cy="90.1" r="4.65"/>
<circle cx="785.5" cy="104.1" r="4.65"/>
<circle cx="782.9" cy="127.7" r="4.65"/>
<circle cx="821.3" cy="18.9" r="4.65"/>
<circle cx="825.0" cy="18.4" r="4.65"/>
<circle cx="826.3" cy="17.2" r="4.65"/>
<circle cx="831.0" cy="16.2" r="4.65"/>
<circle cx="832.8" cy="18.1" r="4.65"/>
<circle cx="839.3" cy="15.2" r="4.65"/>
<circle cx="841.0" cy="16.4" r="4.65"/>
<circle cx="845.1" cy="17.2" r="4.65"/>
<circle cx="847.6" cy="34.5" r="4.65"/>
<circle cx="847.4" cy="37.7" r="4.65"/>
<circle cx="849.2" cy="38.6" r="4.65"/>
<circle cx="850.0" cy="47.7" r="4.65"/>
<circle cx="850.9" cy="46.0" r="4.65"/>
<circle cx="844.2" cy="51.2" r="4.65"/>
<circle cx="845.1" cy="50.9" r="4.65"/>
<circle cx="847.6" cy="50.2" r="4.65"/>
<circle cx="848.4" cy="49.2" r="4.65"/>
<circle cx="823.1" cy="47.0" r="4.65"/>
<circle cx="824.6" cy="47.6" r="4.65"/>
<circle cx="827.3" cy="53.4" r="4.65"/>
<circle cx="828.7" cy="54.2" r="4.65"/>
<circle cx="831.9" cy="51.5" r="4.65"/>
<circle cx="832.8" cy="51.7" r="4.65"/>
<circle cx="838.7" cy="55.6" r="4.65"/>
<circle cx="836.9" cy="57.5" r="4.65"/>
<circle cx="843.3" cy="62.8" r="4.65"/>
<circle cx="844.3" cy="62.4" r="4.65"/>
<circle cx="817.8" cy="34.8" r="4.65"/>
<circle cx="816.4" cy="35.3" r="4.65"/>
<circle cx="820.0" cy="42.0" r="4.65"/>
<circle cx="820.5" cy="42.7" r="4.65"/>
<circle cx="835.3" cy="8.6" r="4.65"/>
<circle cx="810.0" cy="19.3" r="4.65"/>
<circle cx="811.0" cy="28.5" r="4.65"/>
<circle cx="811.5" cy="28.3" r="4.65"/>
<circle cx="822.0" cy="23.1" r="4.65"/>
<circle cx="820.9" cy="25.0" r="4.65"/>
<circle cx="831.6" cy="26.7" r="4.65"/>
<circle cx="841.4" cy="23.1" r="4.65"/>
<circle cx="842.7" cy="24.2" r="4.65"/>
<circle cx="854.2" cy="25.9" r="4.65"/>
<circle cx="821.4" cy="33.9" r="4.65"/>
<circle cx="820.9" cy="32.8" r="4.65"/>
<circle cx="842.6" cy="30.8" r="4.65"/>
<circle cx="844.3" cy="32.8" r="4.65"/>
<circle cx="813.5" cy="45.6" r="4.65"/>
<circle cx="838.7" cy="45.7" r="4.65"/>
<circle cx="840.2" cy="46.0" r="4.65"/>
<circle cx="841.8" cy="61.0" r="4.65"/>
<circle cx="841.0" cy="59.1" r="4.65"/>
<circle cx="841.0" cy="68.1" r="4.65"/>
<circle cx="810.7" cy="56.6" r="4.65"/>
<circle cx="808.2" cy="72.6" r="4.65"/>
<circle cx="887.2" cy="12.4" r="4.65"/>
<circle cx="887.7" cy="12.7" r="4.65"/>
<circle cx="905.4" cy="14.3" r="4.65"/>
<circle cx="903.9" cy="13.2" r="4.65"/>
<circle cx="910.0" cy="16.6" r="4.65"/>
<circle cx="908.3" cy="17.6" r="4.65"/>
<circle cx="881.1" cy="22.8" r="4.65"/>
<circle cx="880.2" cy="21.5" r="4.65"/>
<circle cx="886.3" cy="21.8" r="4.65"/>
<circle cx="887.2" cy="22.9" r="4.65"/>
<circle cx="882.8" cy="29.6" r="4.65"/>
<circle cx="881.1" cy="30.8" r="4.65"/>
<circle cx="891.8" cy="31.8" r="4.65"/>
<circle cx="892.5" cy="33.4" r="4.65"/>
<circle cx="903.7" cy="37.4" r="4.65"/>
<circle cx="902.2" cy="36.9" r="4.65"/>
<circle cx="879.2" cy="38.4" r="4.65"/>
<circle cx="880.2" cy="38.7" r="4.65"/>
<circle cx="884.8" cy="40.3" r="4.65"/>
<circle cx="885.0" cy="42.2" r="4.65"/>
<circle cx="897.9" cy="39.6" r="4.65"/>
<circle cx="896.9" cy="41.3" r="4.65"/>
<circle cx="905.2" cy="40.5" r="4.65"/>
<circle cx="905.7" cy="39.6" r="4.65"/>
<circle cx="915.4" cy="49.4" r="4.65"/>
<circle cx="916.2" cy="48.3" r="4.65"/>
<circle cx="882.7" cy="51.8" r="4.65"/>
<circle cx="881.1" cy="51.0" r="4.65"/>
<circle cx="886.1" cy="58.8" r="4.65"/>
<circle cx="886.4" cy="57.1" r="4.65"/>
<circle cx="890.9" cy="60.0" r="4.65"/>
<circle cx="891.6" cy="58.0" r="4.65"/>
<circle cx="921.9" cy="54.6" r="4.65"/>
<circle cx="921.5" cy="54.5" r="4.65"/>
<circle cx="914.2" cy="53.8" r="4.65"/>
<circle cx="912.7" cy="55.4" r="4.65"/>
<circle cx="881.1" cy="8.8" r="4.65"/>
<circle cx="896.1" cy="11.6" r="4.65"/>
<circle cx="896.9" cy="10.5" r="4.65"/>
<circle cx="892.1" cy="21.5" r="4.65"/>
<circle cx="893.8" cy="19.8" r="4.65"/>
<circle cx="903.8" cy="19.3" r="4.65"/>
<circle cx="903.9" cy="19.3" r="4.65"/>
<circle cx="915.4" cy="24.2" r="4.65"/>
<circle cx="887.0" cy="25.1" r="4.65"/>
<circle cx="885.0" cy="26.8" r="4.65"/>
<circle cx="904.7" cy="26.6" r="4.65"/>
<circle cx="906.6" cy="26.4" r="4.65"/>
<circle cx="902.3" cy="33.1" r="4.65"/>
<circle cx="901.7" cy="31.6" r="4.65"/>
<circle cx="913.2" cy="34.7" r="4.65"/>
<circle cx="885.6" cy="38.4" r="4.65"/>
<circle cx="886.8" cy="36.9" r="4.65"/>
<circle cx="874.9" cy="41.7" r="4.65"/>
<circle cx="922.4" cy="40.0" r="4.65"/>
<circle cx="892.7" cy="46.5" r="4.65"/>
<circle cx="892.1" cy="46.1" r="4.65"/>
<circle cx="902.0" cy="48.2" r="4.65"/>
<circle cx="903.9" cy="47.0" r="4.65"/>
<circle cx="912.0" cy="45.5" r="4.65"/>
<circle cx="913.2" cy="44.8" r="4.65"/>
<circle cx="936.0" cy="44.8" r="4.65"/>
<circle cx="944.4" cy="51.9" r="4.65"/>
<circle cx="887.5" cy="49.9" r="4.65"/>
<circle cx="885.5" cy="51.9" r="4.65"/>
<circle cx="894.9" cy="55.8" r="4.65"/>
<circle cx="895.2" cy="54.1" r="4.65"/>
<circle cx="903.1" cy="57.6" r="4.65"/>
<circle cx="903.9" cy="56.2" r="4.65"/>
<circle cx="927.2" cy="51.9" r="4.65"/>
<circle cx="928.1" cy="60.6" r="4.65"/>
<circle cx="900.8" cy="62.3" r="4.65"/>
<circle cx="899.6" cy="61.5" r="4.65"/>
<circle cx="867.0" cy="32.1" r="4.65"/>
<circle cx="1012.0" cy="14.1" r="4.65"/>
<circle cx="1010.0" cy="13.3" r="4.65"/>
<circle cx="995.2" cy="13.0" r="4.65"/>
<circle cx="996.8" cy="11.6" r="4.65"/>
<circle cx="1012.7" cy="22.8" r="4.65"/>
<circle cx="1011.7" cy="23.2" r="4.65"/>
<circle cx="995.1" cy="22.3" r="4.65"/>
<circle cx="996.8" cy="23.2" r="4.65"/>
<circle cx="1008.5" cy="27.2" r="4.65"/>
<circle cx="1008.4" cy="28.2" r="4.65"/>
<circle cx="1002.0" cy="26.9" r="4.65"/>
<circle cx="1000.1" cy="28.2" r="4.65"/>
<circle cx="987.6" cy="20.1" r="4.65"/>
<circle cx="988.5" cy="21.6" r="4.65"/>
<circle cx="983.8" cy="10.0" r="4.65"/>
<circle cx="1005.1" cy="8.3" r="4.65"/>
<circle cx="993.6" cy="17.1" r="4.65"/>
<circle cx="992.6" cy="15.8" r="4.65"/>
<circle cx="1001.6" cy="17.8" r="4.65"/>
<circle cx="1002.6" cy="18.3" r="4.65"/>
<circle cx="1016.6" cy="17.0" r="4.65"/>
<circle cx="1015.0" cy="16.6" r="4.65"/>
<circle cx="1017.5" cy="21.6" r="4.65"/>
<circle cx="986.8" cy="29.5" r="4.65"/>
<circle cx="993.1" cy="32.9" r="4.65"/>
<circle cx="1004.8" cy="34.9" r="4.65"/>
<circle cx="1005.9" cy="32.9" r="4.65"/>
<circle cx="1018.3" cy="33.2" r="4.65"/>
<circle cx="1001.4" cy="39.8" r="4.65"/>
<circle cx="985.1" cy="40.7" r="4.65"/>
<circle cx="976.0" cy="46.5" r="4.65"/>
<circle cx="996.8" cy="48.1" r="4.65"/>
<circle cx="973.5" cy="55.6" r="4.65"/>
<circle cx="983.7" cy="53.2" r="4.65"/>
<circle cx="982.7" cy="54.0" r="4.65"/>
<circle cx="991.2" cy="52.8" r="4.65"/>
<circle cx="991.5" cy="52.8" r="4.65"/>
<circle cx="998.6" cy="59.3" r="4.65"/>
<circle cx="998.1" cy="59.4" r="4.65"/>
<circle cx="1007.1" cy="57.3" r="4.65"/>
<circle cx="981.5" cy="63.9" r="4.65"/>
<circle cx="989.1" cy="62.7" r="4.65"/>
<circle cx="990.5" cy="63.4" r="4.65"/>
<circle cx="1005.9" cy="66.4" r="4.65"/>
<circle cx="999.8" cy="70.6" r="4.65"/>
<circle cx="989.8" cy="72.2" r="4.65"/>
<circle cx="997.6" cy="81.3" r="4.65"/>
<circle cx="1008.4" cy="83.3" r="4.65"/>
<circle cx="992.6" cy="91.0" r="4.65"/>
<circle cx="957.3" cy="59.8" r="4.65"/>
<circle cx="166.6" cy="306.6" r="4.65"/>
<circle cx="173.6" cy="304.9" r="4.65"/>
<circle cx="180.6" cy="305.8" r="4.65"/>
<circle cx="187.0" cy="310.1" r="4.65"/>
<circle cx="188.5" cy="310.1" r="4.65"/>
<circle cx="191.6" cy="314.0" r="4.65"/>
<circle cx="191.1" cy="313.6" r="4.65"/>
<circle cx="164.9" cy="325.0" r="4.65"/>
<circle cx="168.4" cy="329.6" r="4.65"/>
<circle cx="170.1" cy="329.4" r="4.65"/>
<circle cx="179.1" cy="332.3" r="4.65"/>
<circle cx="178.0" cy="332.0" r="4.65"/>
<circle cx="185.0" cy="327.6" r="4.65"/>
<circle cx="191.4" cy="320.0" r="4.65"/>
<circle cx="192.0" cy="318.9" r="4.65"/>
<circle cx="163.1" cy="316.3" r="4.65"/>
<circle cx="166.2" cy="314.1" r="4.65"/>
<circle cx="186.4" cy="316.6" r="4.65"/>
<circle cx="186.8" cy="315.4" r="4.65"/>
<circle cx="189.8" cy="327.2" r="4.65"/>
<circle cx="174.1" cy="329.8" r="4.65"/>
<circle cx="160.3" cy="333.9" r="4.65"/>
<circle cx="162.3" cy="335.5" r="4.65"/>
<circle cx="170.0" cy="340.9" r="4.65"/>
<circle cx="170.1" cy="342.5" r="4.65"/>
<circle cx="177.7" cy="342.9" r="4.65"/>
<circle cx="178.9" cy="341.2" r="4.65"/>
<circle cx="167.5" cy="358.3" r="4.65"/>
<circle cx="189.4" cy="356.5" r="4.65"/>
<circle cx="151.3" cy="332.0" r="4.65"/>
<circle cx="193.8" cy="340.8" r="4.65"/>
<circle cx="95.7" cy="287.4" r="4.65"/>
<circle cx="104.0" cy="289.4" r="4.65"/>
<circle cx="89.8" cy="293.8" r="4.65"/>
<circle cx="100.1" cy="297.2" r="4.65"/>
<circle cx="92.7" cy="302.1" r="4.65"/>
<circle cx="111.9" cy="308.1" r="4.65"/>
<circle cx="118.8" cy="305.6" r="4.65"/>
<circle cx="108.0" cy="313.0" r="4.65"/>
<circle cx="134.1" cy="309.5" r="4.65"/>
<circle cx="132.2" cy="317.6" r="4.65"/>
<circle cx="131.1" cy="318.4" r="4.65"/>
<circle cx="146.9" cy="313.0" r="4.65"/>
<circle cx="126.1" cy="326.7" r="4.65"/>
<circle cx="127.7" cy="325.8" r="4.65"/>
<circle cx="138.3" cy="324.0" r="4.65"/>
<circle cx="137.5" cy="325.3" r="4.65"/>
<circle cx="125.9" cy="335.7" r="4.65"/>
<circle cx="125.7" cy="335.1" r="4.65"/>
<circle cx="135.5" cy="334.6" r="4.65"/>
<circle cx="88.1" cy="320.8" r="4.65"/>
<circle cx="89.8" cy="322.3" r="4.65"/>
<circle cx="93.8" cy="330.6" r="4.65"/>
<circle cx="95.7" cy="329.2" r="4.65"/>
<circle cx="102.7" cy="328.6" r="4.65"/>
<circle cx="103.5" cy="329.2" r="4.65"/>
<circle cx="88.9" cy="334.7" r="4.65"/>
<circle cx="90.7" cy="334.1" r="4.65"/>
<circle cx="115.3" cy="336.3" r="4.65"/>
<circle cx="116.3" cy="336.1" r="4.65"/>
<circle cx="96.2" cy="318.4" r="4.65"/>
<circle cx="89.2" cy="327.6" r="4.65"/>
<circle cx="89.8" cy="328.2" r="4.65"/>
<circle cx="104.5" cy="324.8" r="4.65"/>
<circle cx="111.6" cy="329.5" r="4.65"/>
<circle cx="113.4" cy="330.2" r="4.65"/>
<circle cx="83.9" cy="338.6" r="4.65"/>
<circle cx="98.1" cy="339.1" r="4.65"/>
<circle cx="109.4" cy="339.1" r="4.65"/>
<circle cx="157.2" cy="335.1" r="4.65"/>
<circle cx="149.5" cy="349.7" r="4.65"/>
<circle cx="147.8" cy="347.9" r="4.65"/>
<circle cx="156.7" cy="357.8" r="4.65"/>
<circle cx="167.2" cy="345.4" r="4.65"/>
<circle cx="165.6" cy="344.0" r="4.65"/>
<circle cx="170.7" cy="339.6" r="4.65"/>
<circle cx="169.5" cy="339.1" r="4.65"/>
<circle cx="5.7" cy="304.3" r="4.65"/>
<circle cx="28.6" cy="310.0" r="4.65"/>
<circle cx="64.0" cy="319.5" r="4.65"/>
<circle cx="118.1" cy="410.2" r="4.65"/>
<circle cx="96.4" cy="444.4" r="4.65"/>
<circle cx="203.8" cy="553.7" r="4.65"/>
<circle cx="298.2" cy="468.8" r="4.65"/>
<circle cx="305.5" cy="463.5" r="4.65"/>
<circle cx="289.5" cy="433.8" r="4.65"/>
<circle cx="256.0" cy="238.9" r="4.65"/>
<circle cx="172.7" cy="600.6" r="4.65"/>
<circle cx="176.1" cy="615.1" r="4.65"/>
<circle cx="188.0" cy="623.1" r="4.65"/>
<circle cx="170.1" cy="627.0" r="4.65"/>
<circle cx="179.7" cy="625.2" r="4.65"/>
<circle cx="179.3" cy="624.4" r="4.65"/>
<circle cx="180.6" cy="634.4" r="4.65"/>
<circle cx="207.8" cy="600.6" r="4.65"/>
<circle cx="216.2" cy="603.3" r="4.65"/>
<circle cx="200.4" cy="606.7" r="4.65"/>
<circle cx="218.3" cy="611.7" r="4.65"/>
<circle cx="202.5" cy="615.9" r="4.65"/>
<circle cx="210.9" cy="618.6" r="4.65"/>
<circle cx="231.5" cy="603.3" r="4.65"/>
<circle cx="240.7" cy="600.6" r="4.65"/>
<circle cx="246.5" cy="609.3" r="4.65"/>
<circle cx="230.7" cy="613.8" r="4.65"/>
<circle cx="239.9" cy="617.8" r="4.65"/>
<circle cx="259.9" cy="626.6" r="4.65"/>
<circle cx="269.3" cy="636.6" r="4.65"/>
<circle cx="273.5" cy="622.4" r="4.65"/>
<circle cx="283.1" cy="611.6" r="4.65"/>
<circle cx="292.5" cy="600.6" r="4.65"/>
<circle cx="305.8" cy="604.8" r="4.65"/>
<circle cx="315.1" cy="600.6" r="4.65"/>
<circle cx="321.7" cy="608.2" r="4.65"/>
<circle cx="316.0" cy="617.3" r="4.65"/>
<circle cx="306.1" cy="614.5" r="4.65"/>
<circle cx="334.4" cy="600.6" r="4.65"/>
<circle cx="348.6" cy="602.0" r="4.65"/>
<circle cx="340.6" cy="613.9" r="4.65"/>
<circle cx="361.9" cy="600.6" r="4.65"/>
<circle cx="375.5" cy="603.4" r="4.65"/>
<circle cx="366.1" cy="613.9" r="4.65"/>
<circle cx="388.2" cy="600.6" r="4.65"/>
<circle cx="402.4" cy="602.0" r="4.65"/>
<circle cx="393.9" cy="613.9" r="4.65"/>
<circle cx="415.7" cy="600.6" r="4.65"/>
<circle cx="428.4" cy="606.0" r="4.65"/>
<circle cx="417.7" cy="614.5" r="4.65"/>
<circle cx="441.7" cy="600.6" r="4.65"/>
<circle cx="454.8" cy="600.6" r="4.65"/>
<circle cx="468.1" cy="600.6" r="4.65"/>
<circle cx="481.7" cy="600.6" r="4.65"/>
<circle cx="495.0" cy="600.6" r="4.65"/>
<circle cx="508.3" cy="600.6" r="4.65"/>
<circle cx="521.9" cy="600.6" r="4.65"/>
<circle cx="441.7" cy="614.7" r="4.65"/>
<circle cx="454.8" cy="614.7" r="4.65"/>
<circle cx="468.1" cy="614.7" r="4.65"/>
<circle cx="481.7" cy="614.7" r="4.65"/>
<circle cx="495.0" cy="614.7" r="4.65"/>
<circle cx="508.3" cy="614.7" r="4.65"/>
<circle cx="521.9" cy="614.7" r="4.65"/>
<circle cx="201.2" cy="581.0" r="4.65"/>
<circle cx="213.0" cy="577.8" r="4.65"/>
<circle cx="202.9" cy="587.8" r="4.65"/>
<circle cx="214.0" cy="587.8" r="4.65"/>
</g>
<g stroke="#2e2e2e" stroke-width="1.05">
<circle cx="101.3" cy="604.1" r="4.65" fill="#e8383c"/>
<circle cx="118.2" cy="607.4" r="4.65" fill="#e8383c"/>
<circle cx="99.6" cy="613.2" r="4.65" fill="#e8383c"/>
<circle cx="108.7" cy="610.7" r="4.65" fill="#e8383c"/>
<circle cx="116.2" cy="616.5" r="4.65" fill="#e8383c"/>
<circle cx="106.7" cy="620.7" r="4.65" fill="#e8383c"/>
<circle cx="97.9" cy="634.4" r="4.65" fill="#f59a1e"/>
<circle cx="107.6" cy="637.3" r="4.65" fill="#f59a1e"/>
<circle cx="91.3" cy="643.1" r="4.65" fill="#f59a1e"/>
<circle cx="107.6" cy="648.5" r="4.65" fill="#f59a1e"/>
<circle cx="97.6" cy="651.7" r="4.65" fill="#f59a1e"/>
</g>
<g stroke="#2e2e2e" stroke-width="1.1">
<polygon points="278.1,122.5 287.1,131.5 278.1,140.5 269.1,131.5" fill="#33479b"/>
<polygon points="335.2,131.4 344.2,140.4 335.2,149.4 326.2,140.4" fill="#33479b"/>
<polygon points="829.4,30.0 838.4,39.0 829.4,48.0 820.4,39.0" fill="#0f9245"/>
<polygon points="176.3,310.3 185.3,319.3 176.3,328.3 167.3,319.3" fill="#0f9245"/>
<polygon points="222.8,395.9 231.8,404.9 222.8,413.9 213.8,404.9" fill="#33479b"/>
<polygon points="235.5,424.6 244.5,433.6 235.5,442.6 226.5,433.6" fill="#33479b"/>
<polygon points="110.8,591.8 120.0,601.0 110.8,610.2 101.6,601.0" fill="#e8383c"/>
</g>
<rect x="84.3" y="591.1" width="42.2" height="68.6" fill="none" stroke="#000" stroke-width="2.8"/>
<text x="23" y="23" font-family="Liberation Sans" font-weight="bold" font-size="33">a)</text>
<polygon points="557.3,228.60000000000002 572.5,243.8 557.3,259.0 542.1,243.8" fill="#ed1c24" stroke="#000" stroke-width="3"/>
<text x="581" y="249.2" font-family="Liberation Sans" font-size="24.5" fill="#111">Hyg17 (<tspan font-style="italic">myo</tspan>-inositol dehydrogenase)</text>
<polygon points="557.3,273.8 572.5,289.0 557.3,304.2 542.1,289.0" fill="#33479b" stroke="#000" stroke-width="3"/>
<text x="581" y="295.9" font-family="Liberation Sans" font-size="24.5" fill="#111">IDH1 (<tspan font-style="italic">myo</tspan>-inositol dehydrogenase)</text>
<polygon points="557.3,318.1 572.5,333.3 557.3,348.5 542.1,333.3" fill="#0f9245" stroke="#000" stroke-width="3"/>
<text x="582.7" y="342.2" font-family="Liberation Sans" font-size="24.5" fill="#111">IDH2 (<tspan font-style="italic">scyllo</tspan>-inositol dehydrogenase)</text>
<text x="788" y="616" font-family="Liberation Sans" font-size="24.3" fill="#111"><tspan font-style="italic">E</tspan>-value = 1 x 10<tspan font-size="14.2" dy="-8.5">-80</tspan></text>
<polyline points="84.3,659.7 11.1,717 969.7,717 969.7,912.3 11.1,912.3 11.1,717" fill="none" stroke="#000" stroke-width="2.6" stroke-linejoin="miter"/>
<line x1="126.5" y1="659.7" x2="969.7" y2="717" stroke="#000" stroke-width="2.6"/>
<text x="22" y="753" font-family="Liberation Sans" font-weight="bold" font-size="31">b)</text>
<text x="186" y="760" font-family="Liberation Sans" font-weight="bold" font-size="26">Hyg</text>
<text x="256" y="760" font-family="Liberation Sans" font-weight="bold" font-size="26">6-10</text>
<text x="371" y="760" font-family="Liberation Sans" font-weight="bold" font-size="26">12</text>
<text x="431" y="760" font-family="Liberation Sans" font-weight="bold" font-size="26">14-17</text>
<text x="582" y="760" font-family="Liberation Sans" font-weight="bold" font-size="26">20-21</text>
<text x="673" y="760" font-family="Liberation Sans" font-weight="bold" font-size="26">23</text>
<polygon points="415.4,789.0 442.3,789.0 271.4,841.8 244.7,841.8" fill="#c9c9c9" stroke="#4a4a4a" stroke-width="0.6"/>
<polygon points="278.3,789.0 311.5,789.0 306.9,841.8 271.4,841.8" fill="#707070" stroke="#4a4a4a" stroke-width="0.6"/>
<polygon points="311.5,789.0 318.4,789.0 312,841.8 306.9,841.8" fill="#d6d6d6" stroke="#4a4a4a" stroke-width="0.6"/>
<polygon points="318.4,789.0 349.0,789.0 342.5,841.8 312,841.8" fill="#a0a0a0" stroke="#4a4a4a" stroke-width="0.6"/>
<polygon points="369.7,789.0 406.8,789.0 407.3,841.8 368.7,841.8" fill="#bdbdbd" stroke="#4a4a4a" stroke-width="0.6"/>
<polygon points="448,789.0 463.1,789.0 468.7,841.8 487.3,841.8" fill="#a8a8a8" stroke="#4a4a4a" stroke-width="0.6"/>
<polygon points="464.4,789.0 490,789.0 408.6,841.8 442.8,841.8" fill="#a8a8a8" stroke="#4a4a4a" stroke-width="0.6"/>
<polygon points="510,789.0 525.4,789.0 566.5,841.8 594.5,841.8" fill="#9a9a9a" stroke="#4a4a4a" stroke-width="0.6"/>
<polygon points="596,789.0 618,789.0 488,841.8 517.7,841.8" fill="#8a8a8a" stroke="#4a4a4a" stroke-width="0.6"/>
<polygon points="677.8,789.0 704.4,789.0 538.6,841.8 564.8,841.8" fill="#cccccc" stroke="#4a4a4a" stroke-width="0.6"/>
<polygon points="624,789.0 639.2,789.0 696,841.8 710.8,841.8" fill="#c4c4c4" stroke="#4a4a4a" stroke-width="0.6"/>
<polygon points="251,789.0 277,789.0 571,841.8 620,841.8" fill="#666666" stroke="#4a4a4a" stroke-width="0.6"/>
<line x1="34" y1="783.6" x2="913.5" y2="783.6" stroke="#333" stroke-width="1.2"/>
<line x1="92.9" y1="847.2" x2="878" y2="847.2" stroke="#333" stroke-width="1.2"/>
<g stroke="#222" stroke-width="1.1" stroke-linejoin="miter">
<polygon points="77.9,778.2 58.0,778.2 58.0,773.6 47.4,783.6 58.0,793.6 58.0,789.0 77.9,789.0" fill="#bcbcbc"/>
<polygon points="118.5,778.2 97.0,778.2 97.0,773.6 86.5,783.6 97.0,793.6 97.0,789.0 118.5,789.0" fill="#bcbcbc"/>
<polygon points="128.7,778.2 144.0,778.2 144.0,773.6 155.0,783.6 144.0,793.6 144.0,789.0 128.7,789.0" fill="#bcbcbc"/>
<polygon points="159.0,778.2 163.5,778.2 163.5,773.6 173.6,783.6 163.5,793.6 163.5,789.0 159.0,789.0" fill="#bcbcbc"/>
<polygon points="174.0,778.2 192.0,778.2 192.0,773.6 203.3,783.6 192.0,793.6 192.0,789.0 174.0,789.0" fill="#bcbcbc"/>
<polygon points="210.0,778.2 220.6,778.2 220.6,773.6 230.0,783.6 220.6,793.6 220.6,789.0 210.0,789.0" fill="#3d86c6"/>
<polygon points="230.0,778.2 266.0,778.2 266.0,773.6 276.5,783.6 266.0,793.6 266.0,789.0 230.0,789.0" fill="#1fbccf"/>
<polygon points="278.3,778.2 300.6,778.2 300.6,773.6 311.5,783.6 300.6,793.6 300.6,789.0 278.3,789.0" fill="#9a3f9c"/>
<polygon points="311.5,773.6 318.4,783.6 311.5,793.6" fill="#e03a9e"/>
<polygon points="318.4,778.2 337.4,778.2 337.4,773.6 348.9,783.6 337.4,793.6 337.4,789.0 318.4,789.0" fill="#e94c6b"/>
<polygon points="349.4,778.2 358.5,778.2 358.5,773.6 369.2,783.6 358.5,793.6 358.5,789.0 349.4,789.0" fill="#bcbcbc"/>
<polygon points="369.7,778.2 395.9,778.2 395.9,773.6 406.8,783.6 395.9,793.6 395.9,789.0 369.7,789.0" fill="#f07d3e"/>
<polygon points="407.3,773.6 415.4,783.6 407.3,793.6" fill="#bcbcbc"/>
<polygon points="415.4,778.2 431.4,778.2 431.4,773.6 442.3,783.6 431.4,793.6 431.4,789.0 415.4,789.0" fill="#6a3f9f"/>
<polygon points="442.3,778.2 453.5,778.2 453.5,773.6 463.1,783.6 453.5,793.6 453.5,789.0 442.3,789.0" fill="#b7d43b"/>
<polygon points="464.4,778.2 487.3,778.2 487.3,773.6 497.9,783.6 487.3,793.6 487.3,789.0 464.4,789.0" fill="#eca62b"/>
<polygon points="498.7,778.2 514.0,778.2 514.0,773.6 525.4,783.6 514.0,793.6 514.0,789.0 498.7,789.0" fill="#58c090"/>
<polygon points="527.4,778.2 546.5,778.2 546.5,773.6 557.1,783.6 546.5,793.6 546.5,789.0 527.4,789.0" fill="#bcbcbc"/>
<polygon points="558.4,778.2 580.8,778.2 580.8,773.6 591.9,783.6 580.8,793.6 580.8,789.0 558.4,789.0" fill="#bcbcbc"/>
<polygon points="592.7,778.2 611.7,778.2 611.7,773.6 622.4,783.6 611.7,793.6 611.7,789.0 592.7,789.0" fill="#9ecb4d"/>
<polygon points="639.2,778.2 632.0,778.2 632.0,773.6 624.0,783.6 632.0,793.6 632.0,789.0 639.2,789.0" fill="#5561ae"/>
<polygon points="646.0,778.2 666.3,778.2 666.3,773.6 677.8,783.6 666.3,793.6 666.3,789.0 646.0,789.0" fill="#bcbcbc"/>
<polygon points="677.8,778.2 693.5,778.2 693.5,773.6 704.4,783.6 693.5,793.6 693.5,789.0 677.8,789.0" fill="#6cbf5b"/>
<polygon points="727.3,778.2 714.6,778.2 714.6,773.6 704.4,783.6 714.6,793.6 714.6,789.0 727.3,789.0" fill="#bcbcbc"/>
<polygon points="729.8,778.2 737.3,778.2 737.3,773.6 748.0,783.6 737.3,793.6 737.3,789.0 729.8,789.0" fill="#bcbcbc"/>
<polygon points="770.3,778.2 758.6,778.2 758.6,773.6 748.0,783.6 758.6,793.6 758.6,789.0 770.3,789.0" fill="#bcbcbc"/>
<polygon points="782.2,778.2 803.8,778.2 803.8,773.6 816.0,783.6 803.8,793.6 803.8,789.0 782.2,789.0" fill="#bcbcbc"/>
<polygon points="817.0,778.2 852.0,778.2 852.0,773.6 862.2,783.6 852.0,793.6 852.0,789.0 817.0,789.0" fill="#bcbcbc"/>
<polygon points="892.2,778.2 872.4,778.2 872.4,773.6 862.2,783.6 872.4,793.6 872.4,789.0 892.2,789.0" fill="#bcbcbc"/>
<polygon points="110.6,841.8 102.5,841.8 102.5,837.2 92.9,847.2 102.5,857.2 102.5,852.6 110.6,852.6" fill="#bcbcbc"/>
<polygon points="144.4,841.8 121.6,841.8 121.6,837.2 110.6,847.2 121.6,857.2 121.6,852.6 144.4,852.6" fill="#bcbcbc"/>
<polygon points="151.5,841.8 158.4,841.8 158.4,837.2 169.0,847.2 158.4,857.2 158.4,852.6 151.5,852.6" fill="#bcbcbc"/>
<polygon points="185.0,841.8 195.0,841.8 195.0,837.2 206.6,847.2 195.0,857.2 195.0,852.6 185.0,852.6" fill="#bcbcbc"/>
<polygon points="208.4,841.8 227.0,841.8 227.0,837.2 237.0,847.2 227.0,857.2 227.0,852.6 208.4,852.6" fill="#bcbcbc"/>
<polygon points="237.0,837.2 244.7,847.2 237.0,857.2" fill="#bcbcbc"/>
<polygon points="244.7,841.8 260.0,841.8 260.0,837.2 271.4,847.2 260.0,857.2 260.0,852.6 244.7,852.6" fill="#6a3f9f"/>
<polygon points="271.4,841.8 293.0,841.8 293.0,837.2 304.4,847.2 293.0,857.2 293.0,852.6 271.4,852.6" fill="#9a3f9c"/>
<polygon points="306.0,837.2 310.8,847.2 306.0,857.2" fill="#e03a9e"/>
<polygon points="312.0,841.8 331.1,841.8 331.1,837.2 342.5,847.2 331.1,857.2 331.1,852.6 312.0,852.6" fill="#e94c6b"/>
<polygon points="342.5,841.8 357.8,841.8 357.8,837.2 368.0,847.2 357.8,857.2 357.8,852.6 342.5,852.6" fill="#bcbcbc"/>
<polygon points="368.7,841.8 395.9,841.8 395.9,837.2 407.3,847.2 395.9,857.2 395.9,852.6 368.7,852.6" fill="#f07d3e"/>
<polygon points="442.8,841.8 419.5,841.8 419.5,837.2 408.6,847.2 419.5,857.2 419.5,852.6 442.8,852.6" fill="#eca62b"/>
<polygon points="468.2,841.8 454.3,841.8 454.3,837.2 443.3,847.2 454.3,857.2 454.3,852.6 468.2,852.6" fill="#bcbcbc"/>
<polygon points="487.3,841.8 477.9,841.8 477.9,837.2 468.7,847.2 477.9,857.2 477.9,852.6 487.3,852.6" fill="#b7d43b"/>
<polygon points="517.7,841.8 498.7,841.8 498.7,837.2 488.0,847.2 498.7,857.2 498.7,852.6 517.7,852.6" fill="#8dc84c"/>
<polygon points="538.0,841.8 529.2,841.8 529.2,837.2 519.0,847.2 529.2,857.2 529.2,852.6 538.0,852.6" fill="#bcbcbc"/>
<polygon points="564.8,841.8 549.5,841.8 549.5,837.2 538.6,847.2 549.5,857.2 549.5,852.6 564.8,852.6" fill="#6cbf5b"/>
<polygon points="594.5,841.8 578.7,841.8 578.7,837.2 566.5,847.2 578.7,857.2 578.7,852.6 594.5,852.6" fill="#58c090"/>
<polygon points="641.7,841.8 605.4,841.8 605.4,837.2 595.2,847.2 605.4,857.2 605.4,852.6 641.7,852.6" fill="#1fbccf"/>
<polygon points="660.7,841.8 651.9,841.8 651.9,837.2 642.2,847.2 651.9,857.2 651.9,852.6 660.7,852.6" fill="#3d86c6"/>
<polygon points="674.0,841.8 686.6,841.8 686.6,837.2 696.0,847.2 686.6,857.2 686.6,852.6 674.0,852.6" fill="#bcbcbc"/>
<polygon points="696.0,841.8 700.6,841.8 700.6,837.2 710.8,847.2 700.6,857.2 700.6,852.6 696.0,852.6" fill="#5561ae"/>
<polygon points="733.0,841.8 722.2,841.8 722.2,837.2 712.0,847.2 722.2,857.2 722.2,852.6 733.0,852.6" fill="#bcbcbc"/>
<polygon points="755.0,841.8 744.0,841.8 744.0,837.2 733.6,847.2 744.0,857.2 744.0,852.6 755.0,852.6" fill="#bcbcbc"/>
<polygon points="782.2,841.8 765.7,841.8 765.7,837.2 755.0,847.2 765.7,857.2 765.7,852.6 782.2,852.6" fill="#bcbcbc"/>
<polygon points="812.7,841.8 794.1,841.8 794.1,837.2 783.5,847.2 794.1,857.2 794.1,852.6 812.7,852.6" fill="#bcbcbc"/>
<polygon points="840.1,841.8 828.0,841.8 828.0,837.2 817.0,847.2 828.0,857.2 828.0,852.6 840.1,852.6" fill="#bcbcbc"/>
</g>
<circle cx="936.6" cy="783.4" r="12.6" fill="#ec1c24" stroke="#000" stroke-width="2.8"/>
<circle cx="936.6" cy="844.2" r="12.6" fill="#f7941d" stroke="#000" stroke-width="2.8"/>
<g stroke="#333" stroke-width="1.2"><line x1="91" y1="879.8" x2="158.4" y2="879.8"/><line x1="91" y1="875" x2="91" y2="885"/><line x1="158.4" y1="875" x2="158.4" y2="885"/></g>
<text x="111.5" y="899" font-family="Liberation Sans" font-size="10.5" fill="#222">2.5kb</text>
<defs><linearGradient id="idg" x1="0" x2="1" y1="0" y2="0"><stop offset="0" stop-color="#fff"/><stop offset="1" stop-color="#000"/></linearGradient></defs>
<rect x="175.5" y="874.5" width="135" height="11" fill="url(#idg)" stroke="#888" stroke-width="0.6"/>
<text x="176" y="899" font-family="Liberation Sans" font-size="10.5" fill="#222">0</text>
<text x="217" y="899" font-family="Liberation Sans" font-size="10.5" fill="#222">Identity (%)</text>
<text x="293" y="899" font-family="Liberation Sans" font-size="10.5" fill="#222">100</text>
</svg></body></html>
